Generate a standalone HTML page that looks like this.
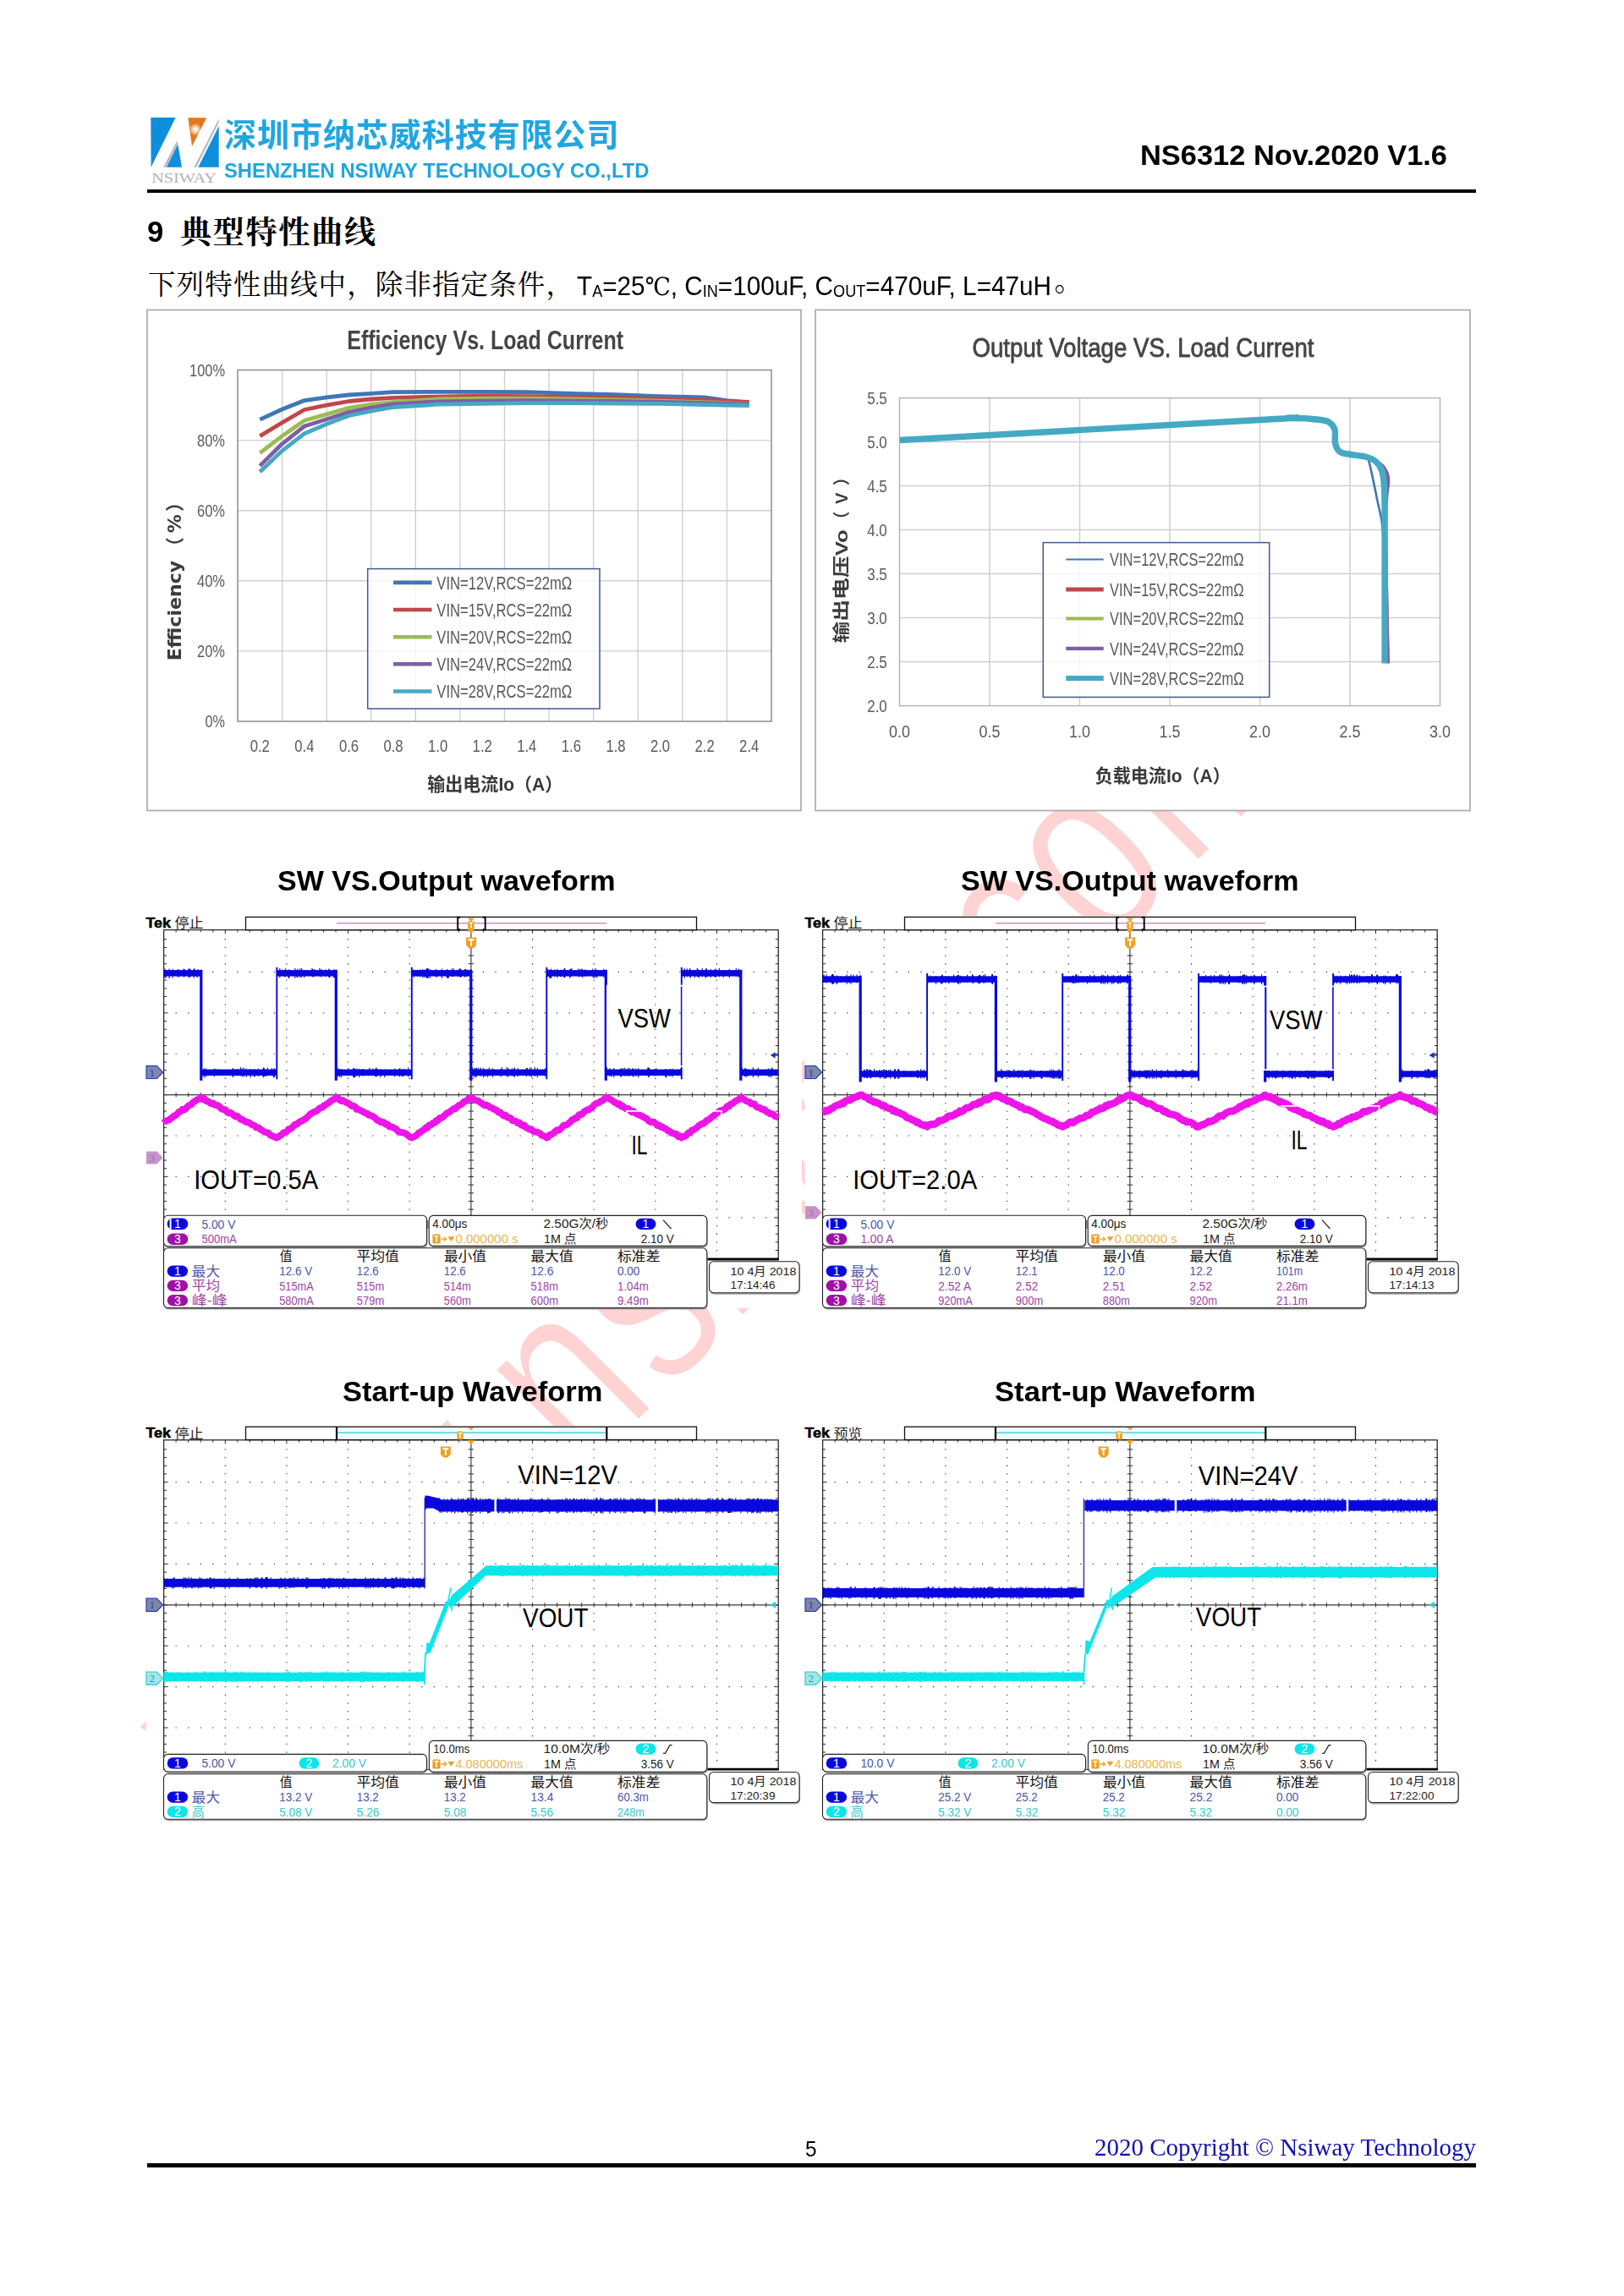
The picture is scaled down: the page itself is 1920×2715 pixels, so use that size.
<!DOCTYPE html>
<html lang="zh-CN">
<head>
<meta charset="utf-8">
<title>NS6312 典型特性曲线</title>
<style>
html,body{margin:0;padding:0;background:#fff;}
body{width:1920px;height:2715px;position:relative;overflow:hidden;font-family:"Liberation Sans","Noto Sans CJK SC",sans-serif;}
.page{position:absolute;left:0;top:0;width:1920px;height:2715px;background:#fff;overflow:hidden;}

.hdr-cn{position:absolute;left:264.5px;top:131.6px;letter-spacing:0.9px;font:bold 37.6px/56px "Liberation Sans","Noto Sans CJK SC",sans-serif;color:#20a6e1;white-space:nowrap;transform-origin:0 0;}
.hdr-en{position:absolute;left:265px;top:187px;font:bold 24px/30px "Liberation Sans",sans-serif;color:#20a6e1;white-space:nowrap;transform-origin:0 0;}
.hdr-doc{position:absolute;left:1348px;top:162.8px;font:bold 34px/40px "Liberation Sans",sans-serif;color:#000;white-space:nowrap;transform-origin:0 0;}
.rule{position:absolute;left:174px;width:1571px;height:4px;background:#000;}
.sec{position:absolute;left:174px;top:250px;margin:0;font-weight:bold;white-space:nowrap;height:50px;}
.sec .num{position:absolute;left:0;top:3.6px;font:bold 35.5px/40px "Liberation Sans",sans-serif;transform-origin:0 0;}
.sec .cn{position:absolute;left:39px;top:2px;font:bold 37px/48px "Liberation Serif","Noto Serif CJK SC",serif;letter-spacing:1.8px;transform-origin:0 0;}
.cond{position:absolute;left:175px;top:312px;margin:0;white-space:nowrap;height:46px;}
.cond .cn{position:absolute;left:0;top:1.5px;letter-spacing:1.1px;font:32.5px/46px "Liberation Serif","Noto Serif CJK SC",serif;transform-origin:0 0;}
.cond .lat{position:absolute;left:507px;top:5.7px;font:32px/40px "Liberation Sans",sans-serif;transform-origin:0 0;}
.cond .lat sub{font-size:19.5px;vertical-align:baseline;position:relative;top:2.2px;line-height:0;}
.cond .lat .deg{font-family:"DejaVu Serif","Liberation Serif","Noto Serif CJK SC",serif;font-size:29px;}
.cond .stop{left:1071.5px;top:-2.5px !important;font-size:34px !important;}
.pgnum{position:absolute;left:952px;top:2526px;font:26.5px/30px "Liberation Sans",sans-serif;transform-origin:0 0;}
.copy{position:absolute;left:1294px;top:2520.3px;font:30px/38px "Liberation Serif",serif;color:#1010b0;white-space:nowrap;transform-origin:0 0;}

.chart{filter:blur(0.6px);}

.fig{margin:0;padding:0;}
.wtitle{position:absolute;margin:0;font:bold 33px/40px "Liberation Sans",sans-serif;color:#000;white-space:nowrap;transform-origin:0 0;}
.wm{position:absolute;left:0;top:0;}
#hdrcn{transform:scaleX(1.0125);}
#hdren{transform:scaleX(0.9906);}
#hdrdoc{transform:scaleX(1.0126);}
#secnum{transform:scaleX(0.9772);}
#condlat{transform:scaleX(0.9284);}
#pgnum{transform:scaleX(0.9220);}
#copy{transform:scaleX(0.9662);}
#wt1{transform:scaleX(1.0326);}
#wt2{transform:scaleX(1.0326);}
#wt3{transform:scaleX(1.0460);}
#wt4{transform:scaleX(1.0494);}
</style>
</head>
<body>
<div class="page">
<svg class="wm" width="1920" height="2715" viewBox="0 0 1920 2715"><g transform="translate(278.4,2157.1) rotate(-45) scale(1,1.334)"><text x="0.0 175.0 350.0 525.0 581.3 719.9 833.6 880.9 1042.9 1166.5 1277.2 1336.5 1454.1 1594.7 1783.4 1842.7 1953.3" y="0" font-size="231.3" fill="#ffd3d3" stroke="#fff" stroke-width="3" font-family='"Liberation Sans",sans-serif'>www.nsiway.com.cn</text></g></svg>
<header><svg class="logo" width="100" height="95" viewBox="170 130 100 95" style="position:absolute;left:170px;top:130px;">
<defs><radialGradient id="glow" cx="0.5" cy="0.5" r="0.5"><stop offset="0" stop-color="#fff" stop-opacity="1"/><stop offset="0.35" stop-color="#fff" stop-opacity="0.8"/><stop offset="1" stop-color="#fff" stop-opacity="0"/></radialGradient></defs>
<polygon points="178.3,139.1 207.6,139.1 178.6,197.7" fill="#0e8fdc"/>
<polygon points="210.3,170.6 196.8,197.7 215,197.7" fill="#0e8fdc"/>
<polygon points="258.7,149.1 258.7,197.7 234.3,197.7" fill="#0e8fdc"/>
<polygon points="209.4,166.3 210.3,170 196.5,197.7 193.1,197.7" fill="#b9b9be"/>
<polygon points="258.7,140.5 258.7,144.8 232.2,197.7 229.4,197.7" fill="#b9b9be"/>
<polygon points="222.3,139.2 244.2,139.2 227,173.1" fill="#e2781c"/>
<circle cx="231" cy="153" r="7.5" fill="url(#glow)"/>
<text x="179.2" y="216.4" font-size="16.6" fill="#b4b4b4" textLength="76.8" lengthAdjust="spacingAndGlyphs" font-family='"Liberation Serif","Noto Serif CJK SC",serif'>NSIWAY</text>
</svg>
<div class="hdr-cn" id="hdrcn">深圳市纳芯威科技有限公司</div>
<div class="hdr-en" id="hdren">SHENZHEN NSIWAY TECHNOLOGY CO.,LTD</div>
<div class="hdr-doc" id="hdrdoc">NS6312 Nov.2020 V1.6</div>
<div class="rule" style="top:224px"></div></header>
<main>
<h1 class="sec" id="sec"><span class="num" id="secnum">9</span><span class="cn" id="seccn">典型特性曲线</span></h1>
<p class="cond" id="cond"><span class="cn" id="condcn">下列特性曲线中，除非指定条件，</span><span class="lat" id="condlat">T<sub>A</sub>=25<span class="deg">℃</span>, C<sub>IN</sub>=100uF, C<sub>OUT</sub>=470uF, L=47uH</span><span class="cn stop" id="condstop">。</span></p>
<section class="charts"><figure class="fig"><svg class="chart" width="788" height="606" viewBox="168 360 788 606" style="position:absolute;left:168px;top:360px;">
<rect x="174" y="366.5" width="773" height="592" fill="#fff" stroke="#a6a6a6" stroke-width="1.6"/>
<path d="M333.6 437.5V853.0M386.2 437.5V853.0M438.8 437.5V853.0M491.3 437.5V853.0M543.9 437.5V853.0M596.5 437.5V853.0M649.1 437.5V853.0M701.7 437.5V853.0M754.2 437.5V853.0M806.8 437.5V853.0M859.4 437.5V853.0M281.0 769.9H912.0M281.0 686.8H912.0M281.0 603.7H912.0M281.0 520.6H912.0" stroke="#d0d0d0" stroke-width="1.4" fill="none"/>
<rect x="281.0" y="437.5" width="631.0" height="415.5" fill="none" stroke="#8c8c8c" stroke-width="1.5"/>
<polyline points="307.3,496.1 333.6,484.0 359.9,473.6 386.2,469.9 412.5,467.0 438.8,465.3 465.0,463.7 517.6,463.3 570.2,463.3 622.8,463.7 675.4,465.3 728.0,466.6 780.5,468.7 833.1,469.9 859.4,473.6 885.7,476.1" fill="none" stroke="#3f76b7" stroke-width="4.8" stroke-linejoin="round" stroke-linecap="butt"/>
<polyline points="307.3,515.6 333.6,499.8 359.9,484.5 386.2,479.1 412.5,474.5 438.8,472.0 465.0,470.3 517.6,469.1 570.2,468.2 622.8,468.7 675.4,469.5 728.0,470.3 780.5,471.6 833.1,472.8 859.4,474.5 885.7,475.3" fill="none" stroke="#c0474a" stroke-width="4.8" stroke-linejoin="round" stroke-linecap="butt"/>
<polyline points="307.3,535.6 333.6,515.6 359.9,497.3 386.2,489.9 412.5,482.4 438.8,478.2 465.0,475.3 517.6,472.0 570.2,471.2 622.8,471.2 675.4,472.0 728.0,472.8 780.5,474.1 833.1,475.7 859.4,476.6 885.7,477.8" fill="none" stroke="#9dbb55" stroke-width="4.8" stroke-linejoin="round" stroke-linecap="butt"/>
<polyline points="307.3,550.9 333.6,524.8 359.9,504.0 386.2,495.7 412.5,487.4 438.8,482.0 465.0,477.8 517.6,474.9 570.2,474.1 622.8,473.6 675.4,474.1 728.0,474.5 780.5,475.3 833.1,476.6 859.4,477.4 885.7,478.2" fill="none" stroke="#7d5fa5" stroke-width="4.8" stroke-linejoin="round" stroke-linecap="butt"/>
<polyline points="307.3,558.0 333.6,533.1 359.9,512.7 386.2,501.5 412.5,491.5 438.8,486.1 465.0,481.5 517.6,478.2 570.2,477.4 622.8,476.6 675.4,476.6 728.0,477.0 780.5,477.4 833.1,478.6 859.4,479.1 885.7,479.5" fill="none" stroke="#46a9c4" stroke-width="4.8" stroke-linejoin="round" stroke-linecap="butt"/>
<rect x="434.7" y="672.6" width="274.3" height="165.4" fill="#fff" fill-opacity="0.78" stroke="#42598c" stroke-width="1.5"/>
<line x1="465" y1="688.9" x2="510.5" y2="688.9" stroke="#3f76b7" stroke-width="4.6"/>
<text x="516.3" y="696.8" font-size="22.5" fill="#5a5a5a" textLength="160.0" lengthAdjust="spacingAndGlyphs" font-family='"Liberation Sans","Noto Sans CJK SC",sans-serif'>VIN=12V,RCS=22mΩ</text>
<line x1="465" y1="721.0" x2="510.5" y2="721.0" stroke="#c0474a" stroke-width="4.6"/>
<text x="516.3" y="728.9" font-size="22.5" fill="#5a5a5a" textLength="160.0" lengthAdjust="spacingAndGlyphs" font-family='"Liberation Sans","Noto Sans CJK SC",sans-serif'>VIN=15V,RCS=22mΩ</text>
<line x1="465" y1="753.2" x2="510.5" y2="753.2" stroke="#9dbb55" stroke-width="4.6"/>
<text x="516.3" y="761.1" font-size="22.5" fill="#5a5a5a" textLength="160.0" lengthAdjust="spacingAndGlyphs" font-family='"Liberation Sans","Noto Sans CJK SC",sans-serif'>VIN=20V,RCS=22mΩ</text>
<line x1="465" y1="785.3" x2="510.5" y2="785.3" stroke="#7d5fa5" stroke-width="4.6"/>
<text x="516.3" y="793.2" font-size="22.5" fill="#5a5a5a" textLength="160.0" lengthAdjust="spacingAndGlyphs" font-family='"Liberation Sans","Noto Sans CJK SC",sans-serif'>VIN=24V,RCS=22mΩ</text>
<line x1="465" y1="817.5" x2="510.5" y2="817.5" stroke="#46a9c4" stroke-width="4.6"/>
<text x="516.3" y="825.4" font-size="22.5" fill="#5a5a5a" textLength="160.0" lengthAdjust="spacingAndGlyphs" font-family='"Liberation Sans","Noto Sans CJK SC",sans-serif'>VIN=28V,RCS=22mΩ</text>
<text x="242.5" y="860.2" font-size="20.5" fill="#5a5a5a" textLength="23.5" lengthAdjust="spacingAndGlyphs" font-family='"Liberation Sans","Noto Sans CJK SC",sans-serif'>0%</text>
<text x="233.0" y="777.1" font-size="20.5" fill="#5a5a5a" textLength="33.0" lengthAdjust="spacingAndGlyphs" font-family='"Liberation Sans","Noto Sans CJK SC",sans-serif'>20%</text>
<text x="233.0" y="694.0" font-size="20.5" fill="#5a5a5a" textLength="33.0" lengthAdjust="spacingAndGlyphs" font-family='"Liberation Sans","Noto Sans CJK SC",sans-serif'>40%</text>
<text x="233.0" y="610.9" font-size="20.5" fill="#5a5a5a" textLength="33.0" lengthAdjust="spacingAndGlyphs" font-family='"Liberation Sans","Noto Sans CJK SC",sans-serif'>60%</text>
<text x="233.0" y="527.8" font-size="20.5" fill="#5a5a5a" textLength="33.0" lengthAdjust="spacingAndGlyphs" font-family='"Liberation Sans","Noto Sans CJK SC",sans-serif'>80%</text>
<text x="224.0" y="444.7" font-size="20.5" fill="#5a5a5a" textLength="42.0" lengthAdjust="spacingAndGlyphs" font-family='"Liberation Sans","Noto Sans CJK SC",sans-serif'>100%</text>
<text x="295.7" y="888.8" font-size="20.5" fill="#5a5a5a" textLength="23.2" lengthAdjust="spacingAndGlyphs" font-family='"Liberation Sans","Noto Sans CJK SC",sans-serif'>0.2</text>
<text x="348.3" y="888.8" font-size="20.5" fill="#5a5a5a" textLength="23.2" lengthAdjust="spacingAndGlyphs" font-family='"Liberation Sans","Noto Sans CJK SC",sans-serif'>0.4</text>
<text x="400.9" y="888.8" font-size="20.5" fill="#5a5a5a" textLength="23.2" lengthAdjust="spacingAndGlyphs" font-family='"Liberation Sans","Noto Sans CJK SC",sans-serif'>0.6</text>
<text x="453.4" y="888.8" font-size="20.5" fill="#5a5a5a" textLength="23.2" lengthAdjust="spacingAndGlyphs" font-family='"Liberation Sans","Noto Sans CJK SC",sans-serif'>0.8</text>
<text x="506.0" y="888.8" font-size="20.5" fill="#5a5a5a" textLength="23.2" lengthAdjust="spacingAndGlyphs" font-family='"Liberation Sans","Noto Sans CJK SC",sans-serif'>1.0</text>
<text x="558.6" y="888.8" font-size="20.5" fill="#5a5a5a" textLength="23.2" lengthAdjust="spacingAndGlyphs" font-family='"Liberation Sans","Noto Sans CJK SC",sans-serif'>1.2</text>
<text x="611.2" y="888.8" font-size="20.5" fill="#5a5a5a" textLength="23.2" lengthAdjust="spacingAndGlyphs" font-family='"Liberation Sans","Noto Sans CJK SC",sans-serif'>1.4</text>
<text x="663.8" y="888.8" font-size="20.5" fill="#5a5a5a" textLength="23.2" lengthAdjust="spacingAndGlyphs" font-family='"Liberation Sans","Noto Sans CJK SC",sans-serif'>1.6</text>
<text x="716.4" y="888.8" font-size="20.5" fill="#5a5a5a" textLength="23.2" lengthAdjust="spacingAndGlyphs" font-family='"Liberation Sans","Noto Sans CJK SC",sans-serif'>1.8</text>
<text x="768.9" y="888.8" font-size="20.5" fill="#5a5a5a" textLength="23.2" lengthAdjust="spacingAndGlyphs" font-family='"Liberation Sans","Noto Sans CJK SC",sans-serif'>2.0</text>
<text x="821.5" y="888.8" font-size="20.5" fill="#5a5a5a" textLength="23.2" lengthAdjust="spacingAndGlyphs" font-family='"Liberation Sans","Noto Sans CJK SC",sans-serif'>2.2</text>
<text x="874.1" y="888.8" font-size="20.5" fill="#5a5a5a" textLength="23.2" lengthAdjust="spacingAndGlyphs" font-family='"Liberation Sans","Noto Sans CJK SC",sans-serif'>2.4</text>
<text x="410.2" y="413.2" font-size="30.5" fill="#454545" font-weight="bold" textLength="327.0" lengthAdjust="spacingAndGlyphs" font-family='"Liberation Sans","Noto Sans CJK SC",sans-serif'>Efficiency Vs. Load Current</text>
<text x="505.3" y="935.0" font-size="21.5" fill="#383838" font-weight="bold" textLength="160.0" lengthAdjust="spacingAndGlyphs" font-family='"Liberation Sans","Noto Sans CJK SC",sans-serif'>输出电流Io（A）</text>
<g transform="translate(214.4,781.3) rotate(-90)"><text x="0.0" y="0.0" font-size="22" fill="#3c3c3c" font-weight="bold" textLength="118.5" lengthAdjust="spacingAndGlyphs" font-family='"DejaVu Sans","Noto Sans CJK SC",sans-serif'>Efficiency</text><text x="124.1 151 176.2" y="0" font-size="22" font-weight="bold" fill="#3c3c3c" font-family='"DejaVu Sans","Noto Sans CJK SC",sans-serif'>（%）</text></g>
</svg></figure>
<figure class="fig"><svg class="chart" width="788" height="606" viewBox="958 360 788 606" style="position:absolute;left:958px;top:360px;">
<rect x="964" y="366.5" width="774" height="592" fill="#fff" stroke="#a6a6a6" stroke-width="1.6"/>
<path d="M1170.0 470.6V834.6M1276.5 470.6V834.6M1383.0 470.6V834.6M1489.5 470.6V834.6M1596.0 470.6V834.6M1063.5 782.6H1702.5M1063.5 730.6H1702.5M1063.5 678.6H1702.5M1063.5 626.6H1702.5M1063.5 574.6H1702.5M1063.5 522.6H1702.5" stroke="#cdd0d4" stroke-width="1.5" fill="none"/>
<rect x="1063.5" y="470.6" width="639.0" height="364.0" fill="none" stroke="#b2b2b2" stroke-width="1.4"/>
<path d="M1064.0 520.5C1140.6 516.2 1406.9 501.2 1489.7 496.5C1572.5 491.8 1511.0 494.3 1524.0 494.3C1537.0 494.3 1553.0 495.4 1561.8 496.5C1570.6 497.6 1569.9 498.3 1572.9 500.5C1575.9 502.7 1577.2 504.4 1578.2 508.7C1579.2 513.0 1577.6 519.6 1578.6 524.2C1579.6 528.8 1580.7 531.8 1584.0 534.2C1587.3 536.6 1591.6 536.4 1597.2 537.5C1602.8 538.6 1609.8 538.8 1615.0 540.2C1620.2 541.6 1622.7 542.5 1626.0 545.3C1629.3 548.1 1631.6 550.2 1633.5 556.0C1635.4 561.8 1635.9 564.4 1636.6 577.4C1637.3 590.4 1636.8 591.2 1637.6 628.4C1638.4 665.6 1640.4 756.2 1641.0 784.3" fill="none" stroke="#c0474a" stroke-width="4" stroke-linejoin="round" stroke-linecap="butt"/>
<path d="M1064.0 520.5C1140.6 516.2 1406.9 501.2 1489.7 496.5C1572.5 491.8 1511.0 494.3 1524.0 494.3C1537.0 494.3 1553.0 495.4 1561.8 496.5C1570.6 497.6 1569.9 498.3 1572.9 500.5C1575.9 502.7 1577.2 504.4 1578.2 508.7C1579.2 513.0 1577.6 519.6 1578.6 524.2C1579.6 528.8 1580.7 531.8 1584.0 534.2C1587.3 536.6 1591.6 536.4 1597.2 537.5C1602.8 538.6 1609.8 538.8 1615.0 540.2C1620.2 541.6 1622.2 543.0 1626.0 545.3C1629.8 547.6 1633.3 549.3 1636.0 553.0C1638.7 556.7 1640.5 559.3 1641.0 566.0C1641.5 572.7 1639.5 578.8 1639.0 590.0C1638.5 601.2 1637.8 593.4 1638.0 628.4C1638.2 663.4 1639.9 756.2 1640.3 784.3" fill="none" stroke="#7d5fa5" stroke-width="4.5" stroke-linejoin="round" stroke-linecap="butt"/>
<path d="M1614.0 540.6C1614.8 541.4 1615.8 536.3 1618.3 545.2C1620.8 554.1 1625.0 575.0 1628.0 590.0C1631.0 605.0 1633.5 608.6 1635.0 628.4C1636.5 648.2 1636.2 671.9 1636.5 700.0C1636.8 728.1 1636.5 769.1 1636.5 784.3" fill="none" stroke="#3f76b7" stroke-width="2.6" stroke-linejoin="round" stroke-linecap="butt"/>
<path d="M1064.0 520.5C1140.6 516.2 1406.9 501.2 1489.7 496.5C1572.5 491.8 1511.0 494.3 1524.0 494.3C1537.0 494.3 1553.0 495.4 1561.8 496.5C1570.6 497.6 1569.9 498.3 1572.9 500.5C1575.9 502.7 1577.2 504.4 1578.2 508.7C1579.2 513.0 1577.6 519.6 1578.6 524.2C1579.6 528.8 1580.7 531.8 1584.0 534.2C1587.3 536.6 1591.6 536.4 1597.2 537.5C1602.8 538.6 1609.8 538.8 1615.0 540.2C1620.2 541.6 1622.7 542.5 1626.0 545.3C1629.3 548.1 1631.6 550.2 1633.5 556.0C1635.4 561.8 1636.0 564.4 1636.6 577.4C1637.2 590.4 1637.0 591.2 1637.1 628.4C1637.2 665.6 1637.1 756.2 1637.1 784.3" fill="none" stroke="#46a9c4" stroke-width="7.4" stroke-linejoin="round" stroke-linecap="butt"/>
<rect x="1233.3" y="641.6" width="267.4" height="182.8" fill="#fff" fill-opacity="0.78" stroke="#42598c" stroke-width="1.5"/>
<line x1="1260.3" y1="661.5" x2="1304.7" y2="661.5" stroke="#3f76b7" stroke-width="2.2"/>
<text x="1312.0" y="669.1" font-size="22.5" fill="#5a5a5a" textLength="158.5" lengthAdjust="spacingAndGlyphs" font-family='"Liberation Sans","Noto Sans CJK SC",sans-serif'>VIN=12V,RCS=22mΩ</text>
<line x1="1260.3" y1="697" x2="1304.7" y2="697" stroke="#c0474a" stroke-width="5"/>
<text x="1312.0" y="704.6" font-size="22.5" fill="#5a5a5a" textLength="158.5" lengthAdjust="spacingAndGlyphs" font-family='"Liberation Sans","Noto Sans CJK SC",sans-serif'>VIN=15V,RCS=22mΩ</text>
<line x1="1260.3" y1="731.5" x2="1304.7" y2="731.5" stroke="#9dbb55" stroke-width="4.2"/>
<text x="1312.0" y="739.1" font-size="22.5" fill="#5a5a5a" textLength="158.5" lengthAdjust="spacingAndGlyphs" font-family='"Liberation Sans","Noto Sans CJK SC",sans-serif'>VIN=20V,RCS=22mΩ</text>
<line x1="1260.3" y1="766.9" x2="1304.7" y2="766.9" stroke="#7d5fa5" stroke-width="4.2"/>
<text x="1312.0" y="774.5" font-size="22.5" fill="#5a5a5a" textLength="158.5" lengthAdjust="spacingAndGlyphs" font-family='"Liberation Sans","Noto Sans CJK SC",sans-serif'>VIN=24V,RCS=22mΩ</text>
<line x1="1260.3" y1="801.9" x2="1304.7" y2="801.9" stroke="#46a9c4" stroke-width="6"/>
<text x="1312.0" y="809.5" font-size="22.5" fill="#5a5a5a" textLength="158.5" lengthAdjust="spacingAndGlyphs" font-family='"Liberation Sans","Noto Sans CJK SC",sans-serif'>VIN=28V,RCS=22mΩ</text>
<text x="1025.2" y="841.8" font-size="20.5" fill="#5a5a5a" textLength="23.6" lengthAdjust="spacingAndGlyphs" font-family='"Liberation Sans","Noto Sans CJK SC",sans-serif'>2.0</text>
<text x="1025.2" y="789.8" font-size="20.5" fill="#5a5a5a" textLength="23.6" lengthAdjust="spacingAndGlyphs" font-family='"Liberation Sans","Noto Sans CJK SC",sans-serif'>2.5</text>
<text x="1025.2" y="737.8" font-size="20.5" fill="#5a5a5a" textLength="23.6" lengthAdjust="spacingAndGlyphs" font-family='"Liberation Sans","Noto Sans CJK SC",sans-serif'>3.0</text>
<text x="1025.2" y="685.8" font-size="20.5" fill="#5a5a5a" textLength="23.6" lengthAdjust="spacingAndGlyphs" font-family='"Liberation Sans","Noto Sans CJK SC",sans-serif'>3.5</text>
<text x="1025.2" y="633.8" font-size="20.5" fill="#5a5a5a" textLength="23.6" lengthAdjust="spacingAndGlyphs" font-family='"Liberation Sans","Noto Sans CJK SC",sans-serif'>4.0</text>
<text x="1025.2" y="581.8" font-size="20.5" fill="#5a5a5a" textLength="23.6" lengthAdjust="spacingAndGlyphs" font-family='"Liberation Sans","Noto Sans CJK SC",sans-serif'>4.5</text>
<text x="1025.2" y="529.8" font-size="20.5" fill="#5a5a5a" textLength="23.6" lengthAdjust="spacingAndGlyphs" font-family='"Liberation Sans","Noto Sans CJK SC",sans-serif'>5.0</text>
<text x="1025.2" y="477.8" font-size="20.5" fill="#5a5a5a" textLength="23.6" lengthAdjust="spacingAndGlyphs" font-family='"Liberation Sans","Noto Sans CJK SC",sans-serif'>5.5</text>
<text x="1051.0" y="872.4" font-size="20.5" fill="#5a5a5a" textLength="25.0" lengthAdjust="spacingAndGlyphs" font-family='"Liberation Sans","Noto Sans CJK SC",sans-serif'>0.0</text>
<text x="1157.5" y="872.4" font-size="20.5" fill="#5a5a5a" textLength="25.0" lengthAdjust="spacingAndGlyphs" font-family='"Liberation Sans","Noto Sans CJK SC",sans-serif'>0.5</text>
<text x="1264.0" y="872.4" font-size="20.5" fill="#5a5a5a" textLength="25.0" lengthAdjust="spacingAndGlyphs" font-family='"Liberation Sans","Noto Sans CJK SC",sans-serif'>1.0</text>
<text x="1370.5" y="872.4" font-size="20.5" fill="#5a5a5a" textLength="25.0" lengthAdjust="spacingAndGlyphs" font-family='"Liberation Sans","Noto Sans CJK SC",sans-serif'>1.5</text>
<text x="1477.0" y="872.4" font-size="20.5" fill="#5a5a5a" textLength="25.0" lengthAdjust="spacingAndGlyphs" font-family='"Liberation Sans","Noto Sans CJK SC",sans-serif'>2.0</text>
<text x="1583.5" y="872.4" font-size="20.5" fill="#5a5a5a" textLength="25.0" lengthAdjust="spacingAndGlyphs" font-family='"Liberation Sans","Noto Sans CJK SC",sans-serif'>2.5</text>
<text x="1690.0" y="872.4" font-size="20.5" fill="#5a5a5a" textLength="25.0" lengthAdjust="spacingAndGlyphs" font-family='"Liberation Sans","Noto Sans CJK SC",sans-serif'>3.0</text>
<text x="1149.5" y="421.6" font-size="32" fill="#454545" textLength="404.0" lengthAdjust="spacingAndGlyphs" font-family='"Liberation Sans","Noto Sans CJK SC",sans-serif' stroke="#454545" stroke-width="0.8">Output Voltage VS. Load Current</text>
<text x="1294.8" y="925.2" font-size="21.5" fill="#383838" font-weight="bold" textLength="160.0" lengthAdjust="spacingAndGlyphs" font-family='"Liberation Sans","Noto Sans CJK SC",sans-serif'>负载电流Io（A）</text>
<g transform="translate(1002.4,760.6) rotate(-90)"><text x="0.0" y="0.0" font-size="20" fill="#3c3c3c" font-weight="bold" textLength="134.4" lengthAdjust="spacingAndGlyphs" font-family='"Liberation Sans","Noto Sans CJK SC",sans-serif'>输出电压Vo</text><text x="136 164.6 186.4" y="0" font-size="20" font-weight="bold" fill="#3c3c3c" font-family='"Liberation Sans","Noto Sans CJK SC",sans-serif'>（V）</text></g>
</svg></figure></section>
<section class="waves"><h2 class="wtitle" id="wt1" style="left:328px;top:1021.5px">SW VS.Output waveform</h2>
<h2 class="wtitle" id="wt2" style="left:1136px;top:1021.5px">SW VS.Output waveform</h2>
<h2 class="wtitle" id="wt3" style="left:405px;top:1626px">Start-up Waveform</h2>
<h2 class="wtitle" id="wt4" style="left:1176px;top:1626px">Start-up Waveform</h2>
<figure class="fig"><svg class="scope" width="790" height="480" viewBox="165 1078 790 480" style="position:absolute;left:165px;top:1078px">
<rect x="172.6" y="1083" width="775.5" height="464" fill="#fff"/>
<path d="M207.5 1149.4h1.3M222.1 1149.4h1.3M236.6 1149.4h1.3M251.1 1149.4h1.3M265.7 1149.4h1.3M280.2 1149.4h1.3M294.7 1149.4h1.3M309.3 1149.4h1.3M323.8 1149.4h1.3M338.3 1149.4h1.3M352.9 1149.4h1.3M367.4 1149.4h1.3M381.9 1149.4h1.3M396.4 1149.4h1.3M411.0 1149.4h1.3M425.5 1149.4h1.3M440.0 1149.4h1.3M454.6 1149.4h1.3M469.1 1149.4h1.3M483.6 1149.4h1.3M498.2 1149.4h1.3M512.7 1149.4h1.3M527.2 1149.4h1.3M541.8 1149.4h1.3M556.3 1149.4h1.3M570.8 1149.4h1.3M585.4 1149.4h1.3M599.9 1149.4h1.3M614.4 1149.4h1.3M629.0 1149.4h1.3M643.5 1149.4h1.3M658.0 1149.4h1.3M672.6 1149.4h1.3M687.1 1149.4h1.3M701.6 1149.4h1.3M716.2 1149.4h1.3M730.7 1149.4h1.3M745.2 1149.4h1.3M759.7 1149.4h1.3M774.3 1149.4h1.3M788.8 1149.4h1.3M803.3 1149.4h1.3M817.9 1149.4h1.3M832.4 1149.4h1.3M846.9 1149.4h1.3M861.5 1149.4h1.3M876.0 1149.4h1.3M890.5 1149.4h1.3M905.1 1149.4h1.3M207.5 1197.8h1.3M222.1 1197.8h1.3M236.6 1197.8h1.3M251.1 1197.8h1.3M265.7 1197.8h1.3M280.2 1197.8h1.3M294.7 1197.8h1.3M309.3 1197.8h1.3M323.8 1197.8h1.3M338.3 1197.8h1.3M352.9 1197.8h1.3M367.4 1197.8h1.3M381.9 1197.8h1.3M396.4 1197.8h1.3M411.0 1197.8h1.3M425.5 1197.8h1.3M440.0 1197.8h1.3M454.6 1197.8h1.3M469.1 1197.8h1.3M483.6 1197.8h1.3M498.2 1197.8h1.3M512.7 1197.8h1.3M527.2 1197.8h1.3M541.8 1197.8h1.3M556.3 1197.8h1.3M570.8 1197.8h1.3M585.4 1197.8h1.3M599.9 1197.8h1.3M614.4 1197.8h1.3M629.0 1197.8h1.3M643.5 1197.8h1.3M658.0 1197.8h1.3M672.6 1197.8h1.3M687.1 1197.8h1.3M701.6 1197.8h1.3M716.2 1197.8h1.3M730.7 1197.8h1.3M745.2 1197.8h1.3M759.7 1197.8h1.3M774.3 1197.8h1.3M788.8 1197.8h1.3M803.3 1197.8h1.3M817.9 1197.8h1.3M832.4 1197.8h1.3M846.9 1197.8h1.3M861.5 1197.8h1.3M876.0 1197.8h1.3M890.5 1197.8h1.3M905.1 1197.8h1.3M207.5 1246.2h1.3M222.1 1246.2h1.3M236.6 1246.2h1.3M251.1 1246.2h1.3M265.7 1246.2h1.3M280.2 1246.2h1.3M294.7 1246.2h1.3M309.3 1246.2h1.3M323.8 1246.2h1.3M338.3 1246.2h1.3M352.9 1246.2h1.3M367.4 1246.2h1.3M381.9 1246.2h1.3M396.4 1246.2h1.3M411.0 1246.2h1.3M425.5 1246.2h1.3M440.0 1246.2h1.3M454.6 1246.2h1.3M469.1 1246.2h1.3M483.6 1246.2h1.3M498.2 1246.2h1.3M512.7 1246.2h1.3M527.2 1246.2h1.3M541.8 1246.2h1.3M556.3 1246.2h1.3M570.8 1246.2h1.3M585.4 1246.2h1.3M599.9 1246.2h1.3M614.4 1246.2h1.3M629.0 1246.2h1.3M643.5 1246.2h1.3M658.0 1246.2h1.3M672.6 1246.2h1.3M687.1 1246.2h1.3M701.6 1246.2h1.3M716.2 1246.2h1.3M730.7 1246.2h1.3M745.2 1246.2h1.3M759.7 1246.2h1.3M774.3 1246.2h1.3M788.8 1246.2h1.3M803.3 1246.2h1.3M817.9 1246.2h1.3M832.4 1246.2h1.3M846.9 1246.2h1.3M861.5 1246.2h1.3M876.0 1246.2h1.3M890.5 1246.2h1.3M905.1 1246.2h1.3M207.5 1343.0h1.3M222.1 1343.0h1.3M236.6 1343.0h1.3M251.1 1343.0h1.3M265.7 1343.0h1.3M280.2 1343.0h1.3M294.7 1343.0h1.3M309.3 1343.0h1.3M323.8 1343.0h1.3M338.3 1343.0h1.3M352.9 1343.0h1.3M367.4 1343.0h1.3M381.9 1343.0h1.3M396.4 1343.0h1.3M411.0 1343.0h1.3M425.5 1343.0h1.3M440.0 1343.0h1.3M454.6 1343.0h1.3M469.1 1343.0h1.3M483.6 1343.0h1.3M498.2 1343.0h1.3M512.7 1343.0h1.3M527.2 1343.0h1.3M541.8 1343.0h1.3M556.3 1343.0h1.3M570.8 1343.0h1.3M585.4 1343.0h1.3M599.9 1343.0h1.3M614.4 1343.0h1.3M629.0 1343.0h1.3M643.5 1343.0h1.3M658.0 1343.0h1.3M672.6 1343.0h1.3M687.1 1343.0h1.3M701.6 1343.0h1.3M716.2 1343.0h1.3M730.7 1343.0h1.3M745.2 1343.0h1.3M759.7 1343.0h1.3M774.3 1343.0h1.3M788.8 1343.0h1.3M803.3 1343.0h1.3M817.9 1343.0h1.3M832.4 1343.0h1.3M846.9 1343.0h1.3M861.5 1343.0h1.3M876.0 1343.0h1.3M890.5 1343.0h1.3M905.1 1343.0h1.3M207.5 1391.4h1.3M222.1 1391.4h1.3M236.6 1391.4h1.3M251.1 1391.4h1.3M265.7 1391.4h1.3M280.2 1391.4h1.3M294.7 1391.4h1.3M309.3 1391.4h1.3M323.8 1391.4h1.3M338.3 1391.4h1.3M352.9 1391.4h1.3M367.4 1391.4h1.3M381.9 1391.4h1.3M396.4 1391.4h1.3M411.0 1391.4h1.3M425.5 1391.4h1.3M440.0 1391.4h1.3M454.6 1391.4h1.3M469.1 1391.4h1.3M483.6 1391.4h1.3M498.2 1391.4h1.3M512.7 1391.4h1.3M527.2 1391.4h1.3M541.8 1391.4h1.3M556.3 1391.4h1.3M570.8 1391.4h1.3M585.4 1391.4h1.3M599.9 1391.4h1.3M614.4 1391.4h1.3M629.0 1391.4h1.3M643.5 1391.4h1.3M658.0 1391.4h1.3M672.6 1391.4h1.3M687.1 1391.4h1.3M701.6 1391.4h1.3M716.2 1391.4h1.3M730.7 1391.4h1.3M745.2 1391.4h1.3M759.7 1391.4h1.3M774.3 1391.4h1.3M788.8 1391.4h1.3M803.3 1391.4h1.3M817.9 1391.4h1.3M832.4 1391.4h1.3M846.9 1391.4h1.3M861.5 1391.4h1.3M876.0 1391.4h1.3M890.5 1391.4h1.3M905.1 1391.4h1.3M207.5 1439.8h1.3M222.1 1439.8h1.3M236.6 1439.8h1.3M251.1 1439.8h1.3M265.7 1439.8h1.3M280.2 1439.8h1.3M294.7 1439.8h1.3M309.3 1439.8h1.3M323.8 1439.8h1.3M338.3 1439.8h1.3M352.9 1439.8h1.3M367.4 1439.8h1.3M381.9 1439.8h1.3M396.4 1439.8h1.3M411.0 1439.8h1.3M425.5 1439.8h1.3M440.0 1439.8h1.3M454.6 1439.8h1.3M469.1 1439.8h1.3M483.6 1439.8h1.3M498.2 1439.8h1.3M512.7 1439.8h1.3M527.2 1439.8h1.3M541.8 1439.8h1.3M556.3 1439.8h1.3M570.8 1439.8h1.3M585.4 1439.8h1.3M599.9 1439.8h1.3M614.4 1439.8h1.3M629.0 1439.8h1.3M643.5 1439.8h1.3M658.0 1439.8h1.3M672.6 1439.8h1.3M687.1 1439.8h1.3M701.6 1439.8h1.3M716.2 1439.8h1.3M730.7 1439.8h1.3M745.2 1439.8h1.3M759.7 1439.8h1.3M774.3 1439.8h1.3M788.8 1439.8h1.3M803.3 1439.8h1.3M817.9 1439.8h1.3M832.4 1439.8h1.3M846.9 1439.8h1.3M861.5 1439.8h1.3M876.0 1439.8h1.3M890.5 1439.8h1.3M905.1 1439.8h1.3M266.3 1110.1v1.3M266.3 1119.8v1.3M266.3 1129.4v1.3M266.3 1139.1v1.3M266.3 1148.8v1.3M266.3 1158.5v1.3M266.3 1168.2v1.3M266.3 1177.8v1.3M266.3 1187.5v1.3M266.3 1197.2v1.3M266.3 1206.9v1.3M266.3 1216.6v1.3M266.3 1226.2v1.3M266.3 1235.9v1.3M266.3 1245.6v1.3M266.3 1255.3v1.3M266.3 1265.0v1.3M266.3 1274.6v1.3M266.3 1284.3v1.3M266.3 1294.0v1.3M266.3 1303.7v1.3M266.3 1313.4v1.3M266.3 1323.0v1.3M266.3 1332.7v1.3M266.3 1342.4v1.3M266.3 1352.1v1.3M266.3 1361.8v1.3M266.3 1371.4v1.3M266.3 1381.1v1.3M266.3 1390.8v1.3M266.3 1400.5v1.3M266.3 1410.2v1.3M266.3 1419.8v1.3M266.3 1429.5v1.3M266.3 1439.2v1.3M266.3 1448.9v1.3M266.3 1458.6v1.3M266.3 1468.2v1.3M266.3 1477.9v1.3M338.9 1110.1v1.3M338.9 1119.8v1.3M338.9 1129.4v1.3M338.9 1139.1v1.3M338.9 1148.8v1.3M338.9 1158.5v1.3M338.9 1168.2v1.3M338.9 1177.8v1.3M338.9 1187.5v1.3M338.9 1197.2v1.3M338.9 1206.9v1.3M338.9 1216.6v1.3M338.9 1226.2v1.3M338.9 1235.9v1.3M338.9 1245.6v1.3M338.9 1255.3v1.3M338.9 1265.0v1.3M338.9 1274.6v1.3M338.9 1284.3v1.3M338.9 1294.0v1.3M338.9 1303.7v1.3M338.9 1313.4v1.3M338.9 1323.0v1.3M338.9 1332.7v1.3M338.9 1342.4v1.3M338.9 1352.1v1.3M338.9 1361.8v1.3M338.9 1371.4v1.3M338.9 1381.1v1.3M338.9 1390.8v1.3M338.9 1400.5v1.3M338.9 1410.2v1.3M338.9 1419.8v1.3M338.9 1429.5v1.3M338.9 1439.2v1.3M338.9 1448.9v1.3M338.9 1458.6v1.3M338.9 1468.2v1.3M338.9 1477.9v1.3M411.6 1110.1v1.3M411.6 1119.8v1.3M411.6 1129.4v1.3M411.6 1139.1v1.3M411.6 1148.8v1.3M411.6 1158.5v1.3M411.6 1168.2v1.3M411.6 1177.8v1.3M411.6 1187.5v1.3M411.6 1197.2v1.3M411.6 1206.9v1.3M411.6 1216.6v1.3M411.6 1226.2v1.3M411.6 1235.9v1.3M411.6 1245.6v1.3M411.6 1255.3v1.3M411.6 1265.0v1.3M411.6 1274.6v1.3M411.6 1284.3v1.3M411.6 1294.0v1.3M411.6 1303.7v1.3M411.6 1313.4v1.3M411.6 1323.0v1.3M411.6 1332.7v1.3M411.6 1342.4v1.3M411.6 1352.1v1.3M411.6 1361.8v1.3M411.6 1371.4v1.3M411.6 1381.1v1.3M411.6 1390.8v1.3M411.6 1400.5v1.3M411.6 1410.2v1.3M411.6 1419.8v1.3M411.6 1429.5v1.3M411.6 1439.2v1.3M411.6 1448.9v1.3M411.6 1458.6v1.3M411.6 1468.2v1.3M411.6 1477.9v1.3M484.2 1110.1v1.3M484.2 1119.8v1.3M484.2 1129.4v1.3M484.2 1139.1v1.3M484.2 1148.8v1.3M484.2 1158.5v1.3M484.2 1168.2v1.3M484.2 1177.8v1.3M484.2 1187.5v1.3M484.2 1197.2v1.3M484.2 1206.9v1.3M484.2 1216.6v1.3M484.2 1226.2v1.3M484.2 1235.9v1.3M484.2 1245.6v1.3M484.2 1255.3v1.3M484.2 1265.0v1.3M484.2 1274.6v1.3M484.2 1284.3v1.3M484.2 1294.0v1.3M484.2 1303.7v1.3M484.2 1313.4v1.3M484.2 1323.0v1.3M484.2 1332.7v1.3M484.2 1342.4v1.3M484.2 1352.1v1.3M484.2 1361.8v1.3M484.2 1371.4v1.3M484.2 1381.1v1.3M484.2 1390.8v1.3M484.2 1400.5v1.3M484.2 1410.2v1.3M484.2 1419.8v1.3M484.2 1429.5v1.3M484.2 1439.2v1.3M484.2 1448.9v1.3M484.2 1458.6v1.3M484.2 1468.2v1.3M484.2 1477.9v1.3M629.6 1110.1v1.3M629.6 1119.8v1.3M629.6 1129.4v1.3M629.6 1139.1v1.3M629.6 1148.8v1.3M629.6 1158.5v1.3M629.6 1168.2v1.3M629.6 1177.8v1.3M629.6 1187.5v1.3M629.6 1197.2v1.3M629.6 1206.9v1.3M629.6 1216.6v1.3M629.6 1226.2v1.3M629.6 1235.9v1.3M629.6 1245.6v1.3M629.6 1255.3v1.3M629.6 1265.0v1.3M629.6 1274.6v1.3M629.6 1284.3v1.3M629.6 1294.0v1.3M629.6 1303.7v1.3M629.6 1313.4v1.3M629.6 1323.0v1.3M629.6 1332.7v1.3M629.6 1342.4v1.3M629.6 1352.1v1.3M629.6 1361.8v1.3M629.6 1371.4v1.3M629.6 1381.1v1.3M629.6 1390.8v1.3M629.6 1400.5v1.3M629.6 1410.2v1.3M629.6 1419.8v1.3M629.6 1429.5v1.3M629.6 1439.2v1.3M629.6 1448.9v1.3M629.6 1458.6v1.3M629.6 1468.2v1.3M629.6 1477.9v1.3M702.2 1110.1v1.3M702.2 1119.8v1.3M702.2 1129.4v1.3M702.2 1139.1v1.3M702.2 1148.8v1.3M702.2 1158.5v1.3M702.2 1168.2v1.3M702.2 1177.8v1.3M702.2 1187.5v1.3M702.2 1197.2v1.3M702.2 1206.9v1.3M702.2 1216.6v1.3M702.2 1226.2v1.3M702.2 1235.9v1.3M702.2 1245.6v1.3M702.2 1255.3v1.3M702.2 1265.0v1.3M702.2 1274.6v1.3M702.2 1284.3v1.3M702.2 1294.0v1.3M702.2 1303.7v1.3M702.2 1313.4v1.3M702.2 1323.0v1.3M702.2 1332.7v1.3M702.2 1342.4v1.3M702.2 1352.1v1.3M702.2 1361.8v1.3M702.2 1371.4v1.3M702.2 1381.1v1.3M702.2 1390.8v1.3M702.2 1400.5v1.3M702.2 1410.2v1.3M702.2 1419.8v1.3M702.2 1429.5v1.3M702.2 1439.2v1.3M702.2 1448.9v1.3M702.2 1458.6v1.3M702.2 1468.2v1.3M702.2 1477.9v1.3M774.9 1110.1v1.3M774.9 1119.8v1.3M774.9 1129.4v1.3M774.9 1139.1v1.3M774.9 1148.8v1.3M774.9 1158.5v1.3M774.9 1168.2v1.3M774.9 1177.8v1.3M774.9 1187.5v1.3M774.9 1197.2v1.3M774.9 1206.9v1.3M774.9 1216.6v1.3M774.9 1226.2v1.3M774.9 1235.9v1.3M774.9 1245.6v1.3M774.9 1255.3v1.3M774.9 1265.0v1.3M774.9 1274.6v1.3M774.9 1284.3v1.3M774.9 1294.0v1.3M774.9 1303.7v1.3M774.9 1313.4v1.3M774.9 1323.0v1.3M774.9 1332.7v1.3M774.9 1342.4v1.3M774.9 1352.1v1.3M774.9 1361.8v1.3M774.9 1371.4v1.3M774.9 1381.1v1.3M774.9 1390.8v1.3M774.9 1400.5v1.3M774.9 1410.2v1.3M774.9 1419.8v1.3M774.9 1429.5v1.3M774.9 1439.2v1.3M774.9 1448.9v1.3M774.9 1458.6v1.3M774.9 1468.2v1.3M774.9 1477.9v1.3M847.5 1110.1v1.3M847.5 1119.8v1.3M847.5 1129.4v1.3M847.5 1139.1v1.3M847.5 1148.8v1.3M847.5 1158.5v1.3M847.5 1168.2v1.3M847.5 1177.8v1.3M847.5 1187.5v1.3M847.5 1197.2v1.3M847.5 1206.9v1.3M847.5 1216.6v1.3M847.5 1226.2v1.3M847.5 1235.9v1.3M847.5 1245.6v1.3M847.5 1255.3v1.3M847.5 1265.0v1.3M847.5 1274.6v1.3M847.5 1284.3v1.3M847.5 1294.0v1.3M847.5 1303.7v1.3M847.5 1313.4v1.3M847.5 1323.0v1.3M847.5 1332.7v1.3M847.5 1342.4v1.3M847.5 1352.1v1.3M847.5 1361.8v1.3M847.5 1371.4v1.3M847.5 1381.1v1.3M847.5 1390.8v1.3M847.5 1400.5v1.3M847.5 1410.2v1.3M847.5 1419.8v1.3M847.5 1429.5v1.3M847.5 1439.2v1.3M847.5 1448.9v1.3M847.5 1458.6v1.3M847.5 1468.2v1.3M847.5 1477.9v1.3" stroke="#3c3c3c" stroke-width="1.15" fill="none"/>
<path d="M208.1 1099.6v2.8M208.1 1292.0v5.2M222.7 1099.6v2.8M222.7 1292.0v5.2M237.2 1099.6v2.8M237.2 1292.0v5.2M251.7 1099.6v2.8M251.7 1292.0v5.2M266.3 1099.6v4.5M266.3 1292.0v5.2M280.8 1099.6v2.8M280.8 1292.0v5.2M295.3 1099.6v2.8M295.3 1292.0v5.2M309.9 1099.6v2.8M309.9 1292.0v5.2M324.4 1099.6v2.8M324.4 1292.0v5.2M338.9 1099.6v4.5M338.9 1292.0v5.2M353.5 1099.6v2.8M353.5 1292.0v5.2M368.0 1099.6v2.8M368.0 1292.0v5.2M382.5 1099.6v2.8M382.5 1292.0v5.2M397.0 1099.6v2.8M397.0 1292.0v5.2M411.6 1099.6v4.5M411.6 1292.0v5.2M426.1 1099.6v2.8M426.1 1292.0v5.2M440.6 1099.6v2.8M440.6 1292.0v5.2M455.2 1099.6v2.8M455.2 1292.0v5.2M469.7 1099.6v2.8M469.7 1292.0v5.2M484.2 1099.6v4.5M484.2 1292.0v5.2M498.8 1099.6v2.8M498.8 1292.0v5.2M513.3 1099.6v2.8M513.3 1292.0v5.2M527.8 1099.6v2.8M527.8 1292.0v5.2M542.4 1099.6v2.8M542.4 1292.0v5.2M556.9 1099.6v4.5M556.9 1292.0v5.2M571.4 1099.6v2.8M571.4 1292.0v5.2M586.0 1099.6v2.8M586.0 1292.0v5.2M600.5 1099.6v2.8M600.5 1292.0v5.2M615.0 1099.6v2.8M615.0 1292.0v5.2M629.6 1099.6v4.5M629.6 1292.0v5.2M644.1 1099.6v2.8M644.1 1292.0v5.2M658.6 1099.6v2.8M658.6 1292.0v5.2M673.2 1099.6v2.8M673.2 1292.0v5.2M687.7 1099.6v2.8M687.7 1292.0v5.2M702.2 1099.6v4.5M702.2 1292.0v5.2M716.8 1099.6v2.8M716.8 1292.0v5.2M731.3 1099.6v2.8M731.3 1292.0v5.2M745.8 1099.6v2.8M745.8 1292.0v5.2M760.3 1099.6v2.8M760.3 1292.0v5.2M774.9 1099.6v4.5M774.9 1292.0v5.2M789.4 1099.6v2.8M789.4 1292.0v5.2M803.9 1099.6v2.8M803.9 1292.0v5.2M818.5 1099.6v2.8M818.5 1292.0v5.2M833.0 1099.6v2.8M833.0 1292.0v5.2M847.5 1099.6v4.5M847.5 1292.0v5.2M862.1 1099.6v2.8M862.1 1292.0v5.2M876.6 1099.6v2.8M876.6 1292.0v5.2M891.1 1099.6v2.8M891.1 1292.0v5.2M905.7 1099.6v2.8M905.7 1292.0v5.2M193.6 1110.7h3.4M920.2 1110.7h-3.4M553.7 1110.7h6.4M193.6 1120.4h3.4M920.2 1120.4h-3.4M553.7 1120.4h6.4M193.6 1130.0h3.4M920.2 1130.0h-3.4M553.7 1130.0h6.4M193.6 1139.7h3.4M920.2 1139.7h-3.4M553.7 1139.7h6.4M193.6 1149.4h5M920.2 1149.4h-5M553.7 1149.4h6.4M193.6 1159.1h3.4M920.2 1159.1h-3.4M553.7 1159.1h6.4M193.6 1168.8h3.4M920.2 1168.8h-3.4M553.7 1168.8h6.4M193.6 1178.4h3.4M920.2 1178.4h-3.4M553.7 1178.4h6.4M193.6 1188.1h3.4M920.2 1188.1h-3.4M553.7 1188.1h6.4M193.6 1197.8h5M920.2 1197.8h-5M553.7 1197.8h6.4M193.6 1207.5h3.4M920.2 1207.5h-3.4M553.7 1207.5h6.4M193.6 1217.2h3.4M920.2 1217.2h-3.4M553.7 1217.2h6.4M193.6 1226.8h3.4M920.2 1226.8h-3.4M553.7 1226.8h6.4M193.6 1236.5h3.4M920.2 1236.5h-3.4M553.7 1236.5h6.4M193.6 1246.2h5M920.2 1246.2h-5M553.7 1246.2h6.4M193.6 1255.9h3.4M920.2 1255.9h-3.4M553.7 1255.9h6.4M193.6 1265.6h3.4M920.2 1265.6h-3.4M553.7 1265.6h6.4M193.6 1275.2h3.4M920.2 1275.2h-3.4M553.7 1275.2h6.4M193.6 1284.9h3.4M920.2 1284.9h-3.4M553.7 1284.9h6.4M193.6 1294.6h5M920.2 1294.6h-5M553.7 1294.6h6.4M193.6 1304.3h3.4M920.2 1304.3h-3.4M553.7 1304.3h6.4M193.6 1314.0h3.4M920.2 1314.0h-3.4M553.7 1314.0h6.4M193.6 1323.6h3.4M920.2 1323.6h-3.4M553.7 1323.6h6.4M193.6 1333.3h3.4M920.2 1333.3h-3.4M553.7 1333.3h6.4M193.6 1343.0h5M920.2 1343.0h-5M553.7 1343.0h6.4M193.6 1352.7h3.4M920.2 1352.7h-3.4M553.7 1352.7h6.4M193.6 1362.4h3.4M920.2 1362.4h-3.4M553.7 1362.4h6.4M193.6 1372.0h3.4M920.2 1372.0h-3.4M553.7 1372.0h6.4M193.6 1381.7h3.4M920.2 1381.7h-3.4M553.7 1381.7h6.4M193.6 1391.4h5M920.2 1391.4h-5M553.7 1391.4h6.4M193.6 1401.1h3.4M920.2 1401.1h-3.4M553.7 1401.1h6.4M193.6 1410.8h3.4M920.2 1410.8h-3.4M553.7 1410.8h6.4M193.6 1420.4h3.4M920.2 1420.4h-3.4M553.7 1420.4h6.4M193.6 1430.1h3.4M920.2 1430.1h-3.4M553.7 1430.1h6.4M193.6 1439.8h5M920.2 1439.8h-5M553.7 1439.8h6.4M193.6 1449.5h3.4M920.2 1449.5h-3.4M553.7 1449.5h6.4M193.6 1459.2h3.4M920.2 1459.2h-3.4M553.7 1459.2h6.4M193.6 1468.8h3.4M920.2 1468.8h-3.4M553.7 1468.8h6.4M193.6 1478.5h3.4M920.2 1478.5h-3.4M553.7 1478.5h6.4" stroke="#2a2a2a" stroke-width="1" fill="none"/>
<path d="M193.6 1294.6H920.2M556.9 1099.6V1489.2" stroke="#3a3a3a" stroke-width="1.15" fill="none"/>
<rect x="193.6" y="1099.6" width="726.6" height="389.6" fill="none" stroke="#2a2a2a" stroke-width="1.3"/>
<path d="M835.2 1489.0H920.8000000000001" stroke="#000" stroke-width="2.8" fill="none"/>
<polyline points="193.6,1327.9 195.6,1325.7 197.6,1325.0 199.6,1324.4 201.6,1322.8 203.6,1321.5 205.7,1319.5 207.7,1319.0 209.7,1317.0 211.7,1314.6 213.7,1314.1 215.7,1311.8 217.7,1312.4 219.7,1311.1 221.7,1308.4 223.7,1306.9 225.7,1306.6 227.8,1304.0 229.8,1302.6 231.8,1301.2 233.8,1300.2 235.8,1299.4 237.8,1297.8 239.8,1299.9 241.9,1299.3 243.9,1302.0 245.9,1302.2 248.0,1304.1 250.0,1305.0 252.0,1304.6 254.1,1306.8 256.1,1306.7 258.1,1307.5 260.2,1309.5 262.2,1311.4 264.2,1312.0 266.3,1312.3 268.3,1314.8 270.3,1316.0 272.4,1315.6 274.4,1317.2 276.4,1318.7 278.5,1320.3 280.5,1319.7 282.6,1321.7 284.6,1323.7 286.6,1324.0 288.7,1325.3 290.7,1326.5 292.7,1327.0 294.8,1327.6 296.8,1329.4 298.8,1330.3 300.9,1331.0 302.9,1333.2 304.9,1333.2 307.0,1334.5 309.0,1336.2 311.0,1337.4 313.1,1338.7 315.1,1339.2 317.1,1339.4 319.2,1341.8 321.2,1343.1 323.2,1343.7 325.3,1344.9 327.3,1345.4 329.3,1344.1 331.3,1342.7 333.3,1341.5 335.3,1339.2 337.3,1339.0 339.3,1338.0 341.3,1335.1 343.3,1335.1 345.3,1333.6 347.3,1331.0 349.3,1329.5 351.3,1329.3 353.3,1327.1 355.3,1325.9 357.3,1325.3 359.3,1324.0 361.3,1322.8 363.3,1321.1 365.3,1319.2 367.3,1317.1 369.3,1316.0 371.3,1314.8 373.3,1314.2 375.3,1313.2 377.3,1310.8 379.3,1309.8 381.3,1309.6 383.3,1307.1 385.3,1306.4 387.3,1304.9 389.3,1303.6 391.3,1301.8 393.3,1300.6 395.3,1299.6 397.3,1297.8 399.3,1298.1 401.4,1300.6 403.4,1301.9 405.4,1301.1 407.5,1302.5 409.5,1303.7 411.5,1304.5 413.6,1305.7 415.6,1307.8 417.6,1307.8 419.7,1308.7 421.7,1311.8 423.7,1311.6 425.8,1313.0 427.8,1314.0 429.8,1314.8 431.9,1316.1 433.9,1316.6 435.9,1318.5 438.0,1318.9 440.0,1319.7 442.1,1321.0 444.1,1322.5 446.1,1324.7 448.2,1325.1 450.2,1327.0 452.2,1326.8 454.3,1327.6 456.3,1329.6 458.3,1329.6 460.4,1332.4 462.4,1332.2 464.4,1333.0 466.5,1334.1 468.5,1335.2 470.5,1337.7 472.6,1338.9 474.6,1339.0 476.6,1339.4 478.7,1340.0 480.7,1341.2 482.7,1342.8 484.8,1344.6 486.8,1345.4 488.9,1344.3 490.9,1343.4 493.0,1341.9 495.0,1339.5 497.1,1338.8 499.2,1336.9 501.2,1336.1 503.3,1333.5 505.3,1333.8 507.4,1330.4 509.4,1330.3 511.5,1328.3 513.6,1327.9 515.6,1325.0 517.7,1325.3 519.7,1321.9 521.8,1322.1 523.9,1320.6 525.9,1318.8 528.0,1316.7 530.0,1315.7 532.1,1314.5 534.2,1312.6 536.2,1311.1 538.3,1311.2 540.3,1309.1 542.4,1307.1 544.4,1306.5 546.5,1305.1 548.6,1302.6 550.6,1302.2 552.7,1300.8 554.7,1298.3 556.8,1297.8 558.8,1298.4 560.9,1300.8 562.9,1301.2 564.9,1301.5 567.0,1303.0 569.0,1304.2 571.0,1305.8 573.1,1307.2 575.1,1306.6 577.1,1307.6 579.2,1309.6 581.2,1309.7 583.2,1311.1 585.3,1312.1 587.3,1313.1 589.3,1315.4 591.4,1315.3 593.4,1317.4 595.4,1319.4 597.5,1318.6 599.5,1321.1 601.5,1321.8 603.6,1322.0 605.6,1324.8 607.7,1325.4 609.7,1325.7 611.7,1327.9 613.8,1327.2 615.8,1329.9 617.8,1331.0 619.9,1330.5 621.9,1333.3 623.9,1334.1 626.0,1335.5 628.0,1335.2 630.0,1337.3 632.1,1338.4 634.1,1338.6 636.1,1339.0 638.2,1340.0 640.2,1342.2 642.2,1343.3 644.3,1343.5 646.3,1345.4 648.3,1344.3 650.3,1341.7 652.3,1341.3 654.3,1340.0 656.3,1337.9 658.3,1336.2 660.3,1336.8 662.3,1335.3 664.3,1333.4 666.3,1330.8 668.3,1330.5 670.3,1330.1 672.3,1328.3 674.3,1326.8 676.3,1324.0 678.3,1323.8 680.3,1321.7 682.3,1322.0 684.3,1318.5 686.3,1317.6 688.3,1317.7 690.3,1314.6 692.3,1313.7 694.3,1312.3 696.3,1312.2 698.3,1310.5 700.3,1309.6 702.3,1306.6 704.3,1305.1 706.3,1304.3 708.3,1303.8 710.3,1302.1 712.3,1301.5 714.3,1299.6 716.3,1297.8 718.3,1298.0 720.4,1299.6 722.4,1300.4 724.4,1301.6 726.5,1303.6 728.5,1304.2 730.5,1305.9 732.6,1305.4 734.6,1308.4 736.6,1307.9 738.7,1310.2 740.7,1311.5 742.7,1310.9 744.8,1313.0 746.8,1315.1 748.8,1314.0 750.9,1316.2 752.9,1317.1 754.9,1318.1 757.0,1318.8 759.0,1319.8 761.0,1321.1 763.1,1322.1 765.1,1323.3 767.2,1325.7 769.2,1326.9 771.2,1326.5 773.3,1327.1 775.3,1328.7 777.3,1331.0 779.4,1330.6 781.4,1332.8 783.4,1332.6 785.5,1334.3 787.5,1334.9 789.5,1337.0 791.6,1337.5 793.6,1339.5 795.6,1340.0 797.7,1340.9 799.7,1341.1 801.7,1344.0 803.8,1343.3 805.8,1345.4 807.8,1344.0 809.8,1343.8 811.8,1342.0 813.8,1339.6 815.8,1339.5 817.8,1336.7 819.8,1336.1 821.8,1334.7 823.8,1333.6 825.8,1331.3 827.8,1330.2 829.8,1328.7 831.8,1328.6 833.8,1326.9 835.8,1324.6 837.8,1324.2 839.8,1322.5 841.8,1320.4 843.8,1319.6 845.8,1317.3 847.8,1316.2 849.8,1314.5 851.8,1313.2 853.8,1313.0 855.8,1312.1 857.8,1310.8 859.8,1308.1 861.8,1308.3 863.8,1305.6 865.8,1305.0 867.8,1303.5 869.8,1301.8 871.8,1300.9 873.8,1300.0 875.8,1297.8 877.8,1299.3 879.8,1300.0 881.9,1301.8 883.9,1302.6 885.9,1302.9 887.9,1305.3 889.9,1305.1 891.9,1305.4 894.0,1308.5 896.0,1309.5 898.0,1309.7 900.0,1311.2 902.0,1312.2 904.1,1311.9 906.1,1314.6 908.1,1315.3 910.1,1317.1 912.1,1317.1 914.1,1317.7 916.2,1319.9 918.2,1320.5 920.2,1321.4" fill="none" stroke="#ee14e8" stroke-width="8.0" stroke-linejoin="round"/>
<path d="M195.1 1145.5V1156.7M196.1 1146.9V1155.7M200.1 1145.4V1156.9M204.1 1145.7V1156.5M210.1 1146.1V1155.6M212.1 1146.6V1155.6M217.1 1145.6V1155.4M218.1 1146.1V1154.8M223.1 1145.1V1156.3M224.1 1146.0V1154.9M225.1 1145.8V1155.4M229.1 1145.7V1156.4M230.1 1145.3V1154.5M233.1 1146.9V1156.1M234.1 1145.9V1154.9" stroke="#0404a8" stroke-width="1.1" fill="none"/>
<rect x="193.6" y="1147.1" width="44.2" height="7.4" fill="#0808de"/>
<path d="M241.3 1263.5V1274.3M243.3 1263.2V1273.4M253.3 1263.6V1273.2M255.3 1264.1V1272.0M275.3 1263.0V1274.1M276.3 1264.1V1272.6M279.3 1263.9V1272.3M281.3 1263.7V1272.3M284.3 1262.1V1272.6M286.3 1263.2V1273.3M288.3 1262.6V1273.4M291.3 1263.5V1273.7M296.3 1263.8V1274.3M300.3 1264.2V1273.0M301.3 1264.4V1273.6M305.3 1263.5V1272.7M311.3 1262.6V1274.1M312.3 1262.7V1273.3M314.3 1264.4V1273.2M316.3 1262.6V1272.1M321.3 1263.0V1272.0M323.3 1264.4V1273.7M324.3 1263.0V1274.2" stroke="#0404a8" stroke-width="1.1" fill="none"/>
<rect x="237.8" y="1264.5" width="89.5" height="7.4" fill="#0808de"/>
<path d="M330.8 1144.7V1156.2M333.8 1146.5V1154.6M336.8 1146.7V1155.4M337.8 1145.2V1154.9M340.8 1146.9V1156.0M341.8 1146.3V1156.9M348.8 1145.0V1156.8M350.8 1147.0V1155.3M351.8 1145.5V1155.9M354.8 1145.3V1156.3M356.8 1145.0V1155.8M359.8 1147.0V1156.1M368.8 1145.2V1154.6M369.8 1145.7V1155.4M371.8 1145.9V1155.0M377.8 1144.8V1154.6M379.8 1146.1V1155.6M384.8 1146.2V1155.0M388.8 1145.5V1155.7M389.8 1146.6V1156.0M394.8 1146.3V1156.6M395.8 1147.0V1156.1" stroke="#0404a8" stroke-width="1.1" fill="none"/>
<rect x="327.3" y="1147.1" width="70.0" height="7.4" fill="#0808de"/>
<path d="M399.8 1262.9V1273.0M401.8 1264.3V1274.1M403.8 1264.2V1273.9M411.8 1263.0V1272.1M417.8 1262.8V1274.2M418.8 1263.6V1273.8M419.8 1263.7V1273.9M421.8 1263.5V1272.8M424.8 1263.7V1274.0M428.8 1264.1V1272.2M429.8 1264.3V1272.5M436.8 1262.7V1272.2M440.8 1263.5V1272.3M443.8 1263.7V1273.3M444.8 1262.4V1272.7M445.8 1263.7V1273.0M449.8 1264.3V1274.0M454.8 1264.4V1274.1M466.8 1263.4V1273.5M471.8 1263.9V1272.6M472.8 1263.1V1273.3M475.8 1264.2V1273.3M476.8 1264.2V1273.0M478.8 1263.8V1272.0M482.8 1262.2V1273.4" stroke="#0404a8" stroke-width="1.1" fill="none"/>
<rect x="397.3" y="1264.5" width="89.5" height="7.4" fill="#0808de"/>
<path d="M489.3 1146.4V1155.8M493.3 1146.7V1154.5M496.3 1146.6V1155.3M499.3 1146.0V1155.9M501.3 1146.6V1156.3M503.3 1146.5V1155.6M504.3 1145.6V1156.4M505.3 1145.0V1156.5M506.3 1145.3V1156.4M508.3 1145.9V1156.8M515.3 1145.8V1155.0M516.3 1146.9V1155.8M522.3 1145.6V1156.7M528.3 1146.3V1156.2M529.3 1146.6V1156.8M530.3 1146.9V1156.4M534.3 1145.3V1155.1M536.3 1145.3V1155.0M541.3 1146.4V1155.1M543.3 1145.3V1154.8M544.3 1145.4V1155.8M545.3 1146.4V1155.2M549.3 1146.0V1155.6M550.3 1145.7V1154.8M552.3 1146.2V1154.7M556.3 1146.8V1155.5" stroke="#0404a8" stroke-width="1.1" fill="none"/>
<rect x="486.8" y="1147.1" width="70.0" height="7.4" fill="#0808de"/>
<path d="M558.3 1262.2V1272.5M560.3 1263.1V1273.7M562.3 1263.1V1274.3M563.3 1262.7V1273.2M565.3 1262.5V1272.0M567.3 1263.7V1272.4M568.3 1262.4V1272.4M571.3 1262.7V1274.2M573.3 1263.8V1273.3M576.3 1264.2V1273.7M578.3 1262.5V1272.6M582.3 1263.3V1274.0M583.3 1264.3V1272.0M592.3 1263.9V1273.4M593.3 1262.1V1272.0M599.3 1262.1V1273.4M601.3 1263.1V1273.4M605.3 1263.3V1272.8M607.3 1263.7V1272.6M608.3 1262.2V1274.0M612.3 1263.0V1273.0M622.3 1262.9V1273.1M623.3 1262.8V1272.0M626.3 1262.4V1272.7M628.3 1262.6V1273.7M632.3 1262.1V1273.1M635.3 1262.8V1274.2M644.3 1263.7V1272.7M645.3 1263.1V1271.9" stroke="#0404a8" stroke-width="1.1" fill="none"/>
<rect x="556.8" y="1264.5" width="89.5" height="7.4" fill="#0808de"/>
<path d="M647.8 1146.1V1154.9M649.8 1147.0V1156.4M650.8 1146.4V1156.9M651.8 1145.8V1156.2M655.8 1146.3V1154.9M658.8 1145.8V1156.3M662.8 1146.8V1155.0M663.8 1146.8V1155.2M666.8 1145.8V1156.0M667.8 1144.7V1156.1M673.8 1146.1V1156.7M674.8 1146.1V1155.1M675.8 1144.8V1154.5M683.8 1145.6V1155.2M685.8 1145.7V1155.1M687.8 1145.4V1154.5M688.8 1146.2V1156.0M691.8 1146.3V1154.8M700.8 1145.4V1155.2M701.8 1146.9V1156.8M703.8 1144.7V1156.4M705.8 1146.6V1156.3M713.8 1145.8V1155.7" stroke="#0404a8" stroke-width="1.1" fill="none"/>
<rect x="646.3" y="1147.1" width="70.0" height="7.4" fill="#0808de"/>
<path d="M720.8 1263.0V1272.8M722.8 1264.5V1273.6M725.8 1262.9V1274.0M733.8 1263.5V1273.7M734.8 1263.6V1272.7M736.8 1263.1V1272.6M738.8 1262.5V1272.8M741.8 1264.0V1272.4M742.8 1262.7V1272.6M744.8 1263.3V1272.6M747.8 1263.3V1272.5M748.8 1263.4V1273.4M751.8 1263.5V1272.7M754.8 1263.1V1273.9M765.8 1262.5V1272.2M766.8 1262.3V1274.1M767.8 1263.2V1272.7M773.8 1264.5V1272.6M774.8 1264.3V1272.0M775.8 1263.1V1272.2M786.8 1264.0V1273.5M787.8 1264.4V1274.3M791.8 1264.1V1272.9M794.8 1263.6V1273.7M801.8 1264.4V1272.2M804.8 1263.5V1272.0" stroke="#0404a8" stroke-width="1.1" fill="none"/>
<rect x="716.3" y="1264.5" width="89.5" height="7.4" fill="#0808de"/>
<path d="M806.3 1146.5V1154.5M809.3 1144.9V1156.7M812.3 1145.2V1155.3M815.3 1145.0V1154.7M816.3 1146.2V1156.6M821.3 1146.8V1156.3M824.3 1144.7V1155.0M825.3 1146.3V1155.1M826.3 1146.9V1156.5M830.3 1145.1V1155.2M833.3 1147.0V1154.7M834.3 1145.8V1156.6M835.3 1145.0V1155.3M837.3 1146.7V1155.0M840.3 1146.0V1156.1M844.3 1146.9V1154.5M845.3 1146.3V1155.6M846.3 1145.5V1155.8M850.3 1144.8V1155.2M855.3 1147.0V1155.8M862.3 1145.9V1156.3M870.3 1144.9V1154.8M873.3 1145.5V1155.8" stroke="#0404a8" stroke-width="1.1" fill="none"/>
<rect x="805.8" y="1147.1" width="70.0" height="7.4" fill="#0808de"/>
<path d="M876.3 1264.2V1273.8M877.3 1262.4V1271.9M880.3 1263.4V1273.1M881.3 1263.1V1272.4M882.3 1264.0V1273.7M884.3 1264.4V1272.8M890.3 1262.3V1274.1M896.3 1262.4V1273.7M908.3 1263.2V1273.2M910.3 1264.4V1274.1M912.3 1262.5V1273.6M913.3 1263.5V1272.1" stroke="#0404a8" stroke-width="1.1" fill="none"/>
<rect x="875.8" y="1264.5" width="44.4" height="7.4" fill="#0808de"/>
<path d="M237.8 1146.8V1277.7M397.3 1146.8V1277.7M556.8 1146.8V1277.7M716.3 1146.8V1277.7M875.8 1146.8V1277.7" stroke="#0808de" stroke-width="3.2" fill="none"/>
<path d="M327.3 1276.2V1143.8M486.8 1276.2V1143.8M646.3 1276.2V1143.8M805.8 1276.2V1143.8" stroke="#0808de" stroke-width="1.9" fill="none"/>
<polygon points="173.0,1260.3000000000002 185.4,1260.3000000000002 192.6,1267.9 185.4,1275.5 173.0,1275.5" fill="#7c88aa" stroke="#2a3ab4" stroke-width="1.2"/><text x="179.8" y="1272.5" font-size="13" fill="#2a3ab4" text-anchor="middle" font-family='"Liberation Serif","Noto Serif CJK SC",serif'>1</text>
<polygon points="173.0,1361.4 185.4,1361.4 192.6,1369.0 185.4,1376.6 173.0,1376.6" fill="#c693ca"/><text x="179.8" y="1373.6" font-size="13" fill="#a070a8" text-anchor="middle" font-family='"Liberation Serif","Noto Serif CJK SC",serif'>3</text>
<path d="M910.6 1247.8l6 -3.6v7.2zM916 1247.1h4.4v1.4h-4.4z" fill="#2030c0"/>
<path d="M551.1 1108.6h12v9l-3.5 4h-5l-3.5 -4z" fill="#f0a020"/><path d="M553.7 1111.2h6.8M557.1 1111.2v7.6" stroke="#fff" stroke-width="2" fill="none"/>
<rect x="717.9" y="1165.6" width="89.4" height="95.4" fill="none" stroke="#fff" stroke-width="1.7"/>
<rect x="740.8" y="1313.8" width="112.2" height="84" fill="none" stroke="#fff" stroke-width="1.7"/>
<text x="730.4" y="1214.6" font-size="32" fill="#000" textLength="62.5" lengthAdjust="spacingAndGlyphs" font-family='"Liberation Sans","Noto Sans CJK SC",sans-serif'>VSW</text>
<text x="746.5" y="1364.6" font-size="32" fill="#000" textLength="19.0" lengthAdjust="spacingAndGlyphs" font-family='"Liberation Sans","Noto Sans CJK SC",sans-serif'>IL</text>
<text x="229.2" y="1405.8" font-size="32" fill="#000" textLength="147.0" lengthAdjust="spacingAndGlyphs" font-family='"Liberation Sans","Noto Sans CJK SC",sans-serif'>IOUT=0.5A</text>
<rect x="290.5" y="1084.4" width="533" height="15.3" fill="#fff" stroke="#111" stroke-width="1.3"/>
<path d="M398 1091.8000000000002H717" stroke="#b060a8" stroke-width="1.1"/>
<path d="M544.2 1084.8000000000002h-3v14.5h3" stroke="#000" stroke-width="1.9" fill="none"/>
<path d="M570.7 1084.8000000000002h3v14.5h-3" stroke="#000" stroke-width="1.9" fill="none"/>
<path d="M552.9 1085.6000000000001h8l-4 4.2z" fill="#f0a020"/>
<rect x="553.2" y="1089.0" width="7.4" height="10" rx="2" fill="#f0a020"/>
<path d="M552.9 1098.4h8l-4 6.6z" fill="#f0a020"/>
<path d="M554.6 1091.2h4.6M556.9 1091.2v6.4" stroke="#fff" stroke-width="1.3" fill="none"/>
<text x="172.5" y="1097.0" font-size="16" fill="#000" font-weight="bold" textLength="29.5" lengthAdjust="spacingAndGlyphs" font-family='"Liberation Sans","Noto Sans CJK SC",sans-serif' stroke="#000" stroke-width="0.5">Tek</text>
<text x="206.5" y="1097.4" font-size="15.5" fill="#222" textLength="34.0" lengthAdjust="spacingAndGlyphs" font-family='"Liberation Sans","Noto Sans CJK SC",sans-serif'>停止</text>
<rect x="194.4" y="1439.2" width="311.0" height="36.5" rx="5" fill="#a8a8a8"/><rect x="193.5" y="1437.2" width="311.0" height="36.5" rx="5" fill="#fff" stroke="#222" stroke-width="1.1"/>
<rect x="197.7" y="1440.6" width="24.6" height="13.4" rx="6.7" fill="#0808de"/><text x="210.0" y="1452.3" font-size="14" fill="#fff" text-anchor="middle" font-family='"Liberation Sans","Noto Sans CJK SC",sans-serif'>1</text>
<rect x="200.6" y="1441.4" width="2" height="11.8" fill="#fff"/>
<rect x="197.7" y="1458.6" width="24.6" height="13.4" rx="6.7" fill="#a010a8"/><text x="210.0" y="1470.3" font-size="14" fill="#fff" text-anchor="middle" font-family='"Liberation Sans","Noto Sans CJK SC",sans-serif'>3</text>
<text x="238.4" y="1452.6" font-size="14.5" fill="#4c56a8" textLength="40.0" lengthAdjust="spacingAndGlyphs" font-family='"Liberation Sans","Noto Sans CJK SC",sans-serif'>5.00 V</text>
<text x="238.4" y="1470.2" font-size="14.5" fill="#a044a4" textLength="41.4" lengthAdjust="spacingAndGlyphs" font-family='"Liberation Sans","Noto Sans CJK SC",sans-serif'>500mA</text>
<rect x="508.1" y="1439.4" width="328.6" height="36.0" rx="5" fill="#a8a8a8"/><rect x="507.2" y="1437.4" width="328.6" height="36.0" rx="5" fill="#fff" stroke="#222" stroke-width="1.1"/>
<path d="M505.9 1443v10" stroke="#444" stroke-width="1"/>
<text x="511.3" y="1451.8" font-size="14.5" fill="#222" textLength="41.0" lengthAdjust="spacingAndGlyphs" font-family='"Liberation Sans","Noto Sans CJK SC",sans-serif'>4.00μs</text>
<text x="642.5" y="1451.8" font-size="14.5" fill="#222" textLength="77.0" lengthAdjust="spacingAndGlyphs" font-family='"Liberation Sans","Noto Sans CJK SC",sans-serif'>2.50G次/秒</text>
<rect x="751.6" y="1440.8" width="23.8" height="13.2" rx="6.6" fill="#0808de"/><text x="763.5" y="1452.3" font-size="14" fill="#fff" text-anchor="middle" font-family='"Liberation Sans","Noto Sans CJK SC",sans-serif'>1</text>
<path d="M784 1442.6l9.5 10.4" stroke="#222" stroke-width="1.2"/>
<rect x="511.4" y="1459.6" width="9.2" height="11" rx="1.5" fill="#f0a020"/>
<path d="M513.3 1462h5.4M516 1462v7" stroke="#fff" stroke-width="1.5" fill="none"/>
<path d="M521.4 1465.2h6.2m-2.6 -2.4l2.6 2.4l-2.6 2.4" stroke="#f0a020" stroke-width="1.3" fill="none"/>
<path d="M529.4 1462.2h8l-4 5.8z" fill="#f0a020"/>
<text x="538.4" y="1470.0" font-size="14.5" fill="#e8b64c" textLength="74.3" lengthAdjust="spacingAndGlyphs" font-family='"Liberation Sans","Noto Sans CJK SC",sans-serif'>0.000000 s</text>
<text x="643.0" y="1470.0" font-size="14.5" fill="#222" textLength="38.3" lengthAdjust="spacingAndGlyphs" font-family='"Liberation Sans","Noto Sans CJK SC",sans-serif'>1M 点</text>
<text x="757.8" y="1470.0" font-size="14.5" fill="#222" textLength="39.0" lengthAdjust="spacingAndGlyphs" font-family='"Liberation Sans","Noto Sans CJK SC",sans-serif'>2.10 V</text>
<rect x="194.4" y="1477.8" width="642.3" height="70.8" rx="5" fill="#a8a8a8"/><rect x="193.5" y="1475.8" width="642.3" height="70.8" rx="5" fill="#fff" stroke="#222" stroke-width="1.1"/>
<text x="330.7" y="1491.0" font-size="15.6" fill="#111" textLength="14.8" lengthAdjust="spacingAndGlyphs" font-family='"Liberation Sans","Noto Sans CJK SC",sans-serif'>值</text>
<text x="421.4" y="1491.0" font-size="15.6" fill="#111" textLength="50.5" lengthAdjust="spacingAndGlyphs" font-family='"Liberation Sans","Noto Sans CJK SC",sans-serif'>平均值</text>
<text x="524.9" y="1491.0" font-size="15.6" fill="#111" textLength="50.2" lengthAdjust="spacingAndGlyphs" font-family='"Liberation Sans","Noto Sans CJK SC",sans-serif'>最小值</text>
<text x="627.5" y="1491.0" font-size="15.6" fill="#111" textLength="50.2" lengthAdjust="spacingAndGlyphs" font-family='"Liberation Sans","Noto Sans CJK SC",sans-serif'>最大值</text>
<text x="730.0" y="1491.0" font-size="15.6" fill="#111" textLength="50.5" lengthAdjust="spacingAndGlyphs" font-family='"Liberation Sans","Noto Sans CJK SC",sans-serif'>标准差</text>
<rect x="197.7" y="1496.5" width="24.4" height="13.2" rx="6.6" fill="#0808de"/><text x="209.9" y="1508.0" font-size="14" fill="#fff" text-anchor="middle" font-family='"Liberation Sans","Noto Sans CJK SC",sans-serif'>1</text>
<text x="226.8" y="1508.6" font-size="15.6" fill="#4c56a8" textLength="33.2" lengthAdjust="spacingAndGlyphs" font-family='"Liberation Sans","Noto Sans CJK SC",sans-serif'>最大</text>
<text x="330.2" y="1508.2" font-size="14.5" fill="#4c56a8" textLength="39.0" lengthAdjust="spacingAndGlyphs" font-family='"Liberation Sans","Noto Sans CJK SC",sans-serif'>12.6 V</text>
<text x="421.8" y="1508.2" font-size="14.5" fill="#4c56a8" textLength="26.0" lengthAdjust="spacingAndGlyphs" font-family='"Liberation Sans","Noto Sans CJK SC",sans-serif'>12.6</text>
<text x="524.8" y="1508.2" font-size="14.5" fill="#4c56a8" textLength="26.0" lengthAdjust="spacingAndGlyphs" font-family='"Liberation Sans","Noto Sans CJK SC",sans-serif'>12.6</text>
<text x="627.5" y="1508.2" font-size="14.5" fill="#4c56a8" textLength="26.8" lengthAdjust="spacingAndGlyphs" font-family='"Liberation Sans","Noto Sans CJK SC",sans-serif'>12.6</text>
<text x="730.0" y="1508.2" font-size="14.5" fill="#4c56a8" textLength="26.4" lengthAdjust="spacingAndGlyphs" font-family='"Liberation Sans","Noto Sans CJK SC",sans-serif'>0.00</text>
<rect x="197.7" y="1513.8" width="24.4" height="13.2" rx="6.6" fill="#a010a8"/><text x="209.9" y="1525.3" font-size="14" fill="#fff" text-anchor="middle" font-family='"Liberation Sans","Noto Sans CJK SC",sans-serif'>3</text>
<text x="226.8" y="1525.9" font-size="15.6" fill="#a044a4" textLength="33.2" lengthAdjust="spacingAndGlyphs" font-family='"Liberation Sans","Noto Sans CJK SC",sans-serif'>平均</text>
<text x="330.2" y="1525.5" font-size="14.5" fill="#a044a4" textLength="40.7" lengthAdjust="spacingAndGlyphs" font-family='"Liberation Sans","Noto Sans CJK SC",sans-serif'>515mA</text>
<text x="421.8" y="1525.5" font-size="14.5" fill="#a044a4" textLength="32.5" lengthAdjust="spacingAndGlyphs" font-family='"Liberation Sans","Noto Sans CJK SC",sans-serif'>515m</text>
<text x="524.8" y="1525.5" font-size="14.5" fill="#a044a4" textLength="32.0" lengthAdjust="spacingAndGlyphs" font-family='"Liberation Sans","Noto Sans CJK SC",sans-serif'>514m</text>
<text x="627.5" y="1525.5" font-size="14.5" fill="#a044a4" textLength="32.5" lengthAdjust="spacingAndGlyphs" font-family='"Liberation Sans","Noto Sans CJK SC",sans-serif'>518m</text>
<text x="730.0" y="1525.5" font-size="14.5" fill="#a044a4" textLength="36.9" lengthAdjust="spacingAndGlyphs" font-family='"Liberation Sans","Noto Sans CJK SC",sans-serif'>1.04m</text>
<rect x="197.7" y="1531.1" width="24.4" height="13.2" rx="6.6" fill="#a010a8"/><text x="209.9" y="1542.6" font-size="14" fill="#fff" text-anchor="middle" font-family='"Liberation Sans","Noto Sans CJK SC",sans-serif'>3</text>
<text x="226.8" y="1543.2" font-size="15.6" fill="#a044a4" textLength="42.0" lengthAdjust="spacingAndGlyphs" font-family='"Liberation Sans","Noto Sans CJK SC",sans-serif'>峰-峰</text>
<text x="330.2" y="1542.8" font-size="14.5" fill="#a044a4" textLength="40.7" lengthAdjust="spacingAndGlyphs" font-family='"Liberation Sans","Noto Sans CJK SC",sans-serif'>580mA</text>
<text x="421.8" y="1542.8" font-size="14.5" fill="#a044a4" textLength="32.5" lengthAdjust="spacingAndGlyphs" font-family='"Liberation Sans","Noto Sans CJK SC",sans-serif'>579m</text>
<text x="524.8" y="1542.8" font-size="14.5" fill="#a044a4" textLength="32.0" lengthAdjust="spacingAndGlyphs" font-family='"Liberation Sans","Noto Sans CJK SC",sans-serif'>560m</text>
<text x="627.5" y="1542.8" font-size="14.5" fill="#a044a4" textLength="32.5" lengthAdjust="spacingAndGlyphs" font-family='"Liberation Sans","Noto Sans CJK SC",sans-serif'>600m</text>
<text x="730.0" y="1542.8" font-size="14.5" fill="#a044a4" textLength="36.9" lengthAdjust="spacingAndGlyphs" font-family='"Liberation Sans","Noto Sans CJK SC",sans-serif'>9.49m</text>
<rect x="839.5" y="1493.7" width="106.5" height="37.0" rx="5" fill="#a8a8a8"/><rect x="838.6" y="1491.7" width="106.5" height="37.0" rx="5" fill="#fff" stroke="#222" stroke-width="1.1"/>
<text x="863.5" y="1507.5" font-size="13.5" fill="#222" textLength="78.0" lengthAdjust="spacingAndGlyphs" font-family='"Liberation Sans","Noto Sans CJK SC",sans-serif'>10 4月 2018</text>
<text x="863.5" y="1524.3" font-size="13.5" fill="#222" textLength="53.0" lengthAdjust="spacingAndGlyphs" font-family='"Liberation Sans","Noto Sans CJK SC",sans-serif'>17:14:46</text>
</svg></figure>
<figure class="fig"><svg class="scope" width="790" height="480" viewBox="165 1078 790 480" style="position:absolute;left:944px;top:1078px">
<rect x="172.6" y="1083" width="775.5" height="464" fill="#fff"/>
<path d="M207.5 1149.4h1.3M222.1 1149.4h1.3M236.6 1149.4h1.3M251.1 1149.4h1.3M265.7 1149.4h1.3M280.2 1149.4h1.3M294.7 1149.4h1.3M309.3 1149.4h1.3M323.8 1149.4h1.3M338.3 1149.4h1.3M352.9 1149.4h1.3M367.4 1149.4h1.3M381.9 1149.4h1.3M396.4 1149.4h1.3M411.0 1149.4h1.3M425.5 1149.4h1.3M440.0 1149.4h1.3M454.6 1149.4h1.3M469.1 1149.4h1.3M483.6 1149.4h1.3M498.2 1149.4h1.3M512.7 1149.4h1.3M527.2 1149.4h1.3M541.8 1149.4h1.3M556.3 1149.4h1.3M570.8 1149.4h1.3M585.4 1149.4h1.3M599.9 1149.4h1.3M614.4 1149.4h1.3M629.0 1149.4h1.3M643.5 1149.4h1.3M658.0 1149.4h1.3M672.6 1149.4h1.3M687.1 1149.4h1.3M701.6 1149.4h1.3M716.2 1149.4h1.3M730.7 1149.4h1.3M745.2 1149.4h1.3M759.7 1149.4h1.3M774.3 1149.4h1.3M788.8 1149.4h1.3M803.3 1149.4h1.3M817.9 1149.4h1.3M832.4 1149.4h1.3M846.9 1149.4h1.3M861.5 1149.4h1.3M876.0 1149.4h1.3M890.5 1149.4h1.3M905.1 1149.4h1.3M207.5 1197.8h1.3M222.1 1197.8h1.3M236.6 1197.8h1.3M251.1 1197.8h1.3M265.7 1197.8h1.3M280.2 1197.8h1.3M294.7 1197.8h1.3M309.3 1197.8h1.3M323.8 1197.8h1.3M338.3 1197.8h1.3M352.9 1197.8h1.3M367.4 1197.8h1.3M381.9 1197.8h1.3M396.4 1197.8h1.3M411.0 1197.8h1.3M425.5 1197.8h1.3M440.0 1197.8h1.3M454.6 1197.8h1.3M469.1 1197.8h1.3M483.6 1197.8h1.3M498.2 1197.8h1.3M512.7 1197.8h1.3M527.2 1197.8h1.3M541.8 1197.8h1.3M556.3 1197.8h1.3M570.8 1197.8h1.3M585.4 1197.8h1.3M599.9 1197.8h1.3M614.4 1197.8h1.3M629.0 1197.8h1.3M643.5 1197.8h1.3M658.0 1197.8h1.3M672.6 1197.8h1.3M687.1 1197.8h1.3M701.6 1197.8h1.3M716.2 1197.8h1.3M730.7 1197.8h1.3M745.2 1197.8h1.3M759.7 1197.8h1.3M774.3 1197.8h1.3M788.8 1197.8h1.3M803.3 1197.8h1.3M817.9 1197.8h1.3M832.4 1197.8h1.3M846.9 1197.8h1.3M861.5 1197.8h1.3M876.0 1197.8h1.3M890.5 1197.8h1.3M905.1 1197.8h1.3M207.5 1246.2h1.3M222.1 1246.2h1.3M236.6 1246.2h1.3M251.1 1246.2h1.3M265.7 1246.2h1.3M280.2 1246.2h1.3M294.7 1246.2h1.3M309.3 1246.2h1.3M323.8 1246.2h1.3M338.3 1246.2h1.3M352.9 1246.2h1.3M367.4 1246.2h1.3M381.9 1246.2h1.3M396.4 1246.2h1.3M411.0 1246.2h1.3M425.5 1246.2h1.3M440.0 1246.2h1.3M454.6 1246.2h1.3M469.1 1246.2h1.3M483.6 1246.2h1.3M498.2 1246.2h1.3M512.7 1246.2h1.3M527.2 1246.2h1.3M541.8 1246.2h1.3M556.3 1246.2h1.3M570.8 1246.2h1.3M585.4 1246.2h1.3M599.9 1246.2h1.3M614.4 1246.2h1.3M629.0 1246.2h1.3M643.5 1246.2h1.3M658.0 1246.2h1.3M672.6 1246.2h1.3M687.1 1246.2h1.3M701.6 1246.2h1.3M716.2 1246.2h1.3M730.7 1246.2h1.3M745.2 1246.2h1.3M759.7 1246.2h1.3M774.3 1246.2h1.3M788.8 1246.2h1.3M803.3 1246.2h1.3M817.9 1246.2h1.3M832.4 1246.2h1.3M846.9 1246.2h1.3M861.5 1246.2h1.3M876.0 1246.2h1.3M890.5 1246.2h1.3M905.1 1246.2h1.3M207.5 1343.0h1.3M222.1 1343.0h1.3M236.6 1343.0h1.3M251.1 1343.0h1.3M265.7 1343.0h1.3M280.2 1343.0h1.3M294.7 1343.0h1.3M309.3 1343.0h1.3M323.8 1343.0h1.3M338.3 1343.0h1.3M352.9 1343.0h1.3M367.4 1343.0h1.3M381.9 1343.0h1.3M396.4 1343.0h1.3M411.0 1343.0h1.3M425.5 1343.0h1.3M440.0 1343.0h1.3M454.6 1343.0h1.3M469.1 1343.0h1.3M483.6 1343.0h1.3M498.2 1343.0h1.3M512.7 1343.0h1.3M527.2 1343.0h1.3M541.8 1343.0h1.3M556.3 1343.0h1.3M570.8 1343.0h1.3M585.4 1343.0h1.3M599.9 1343.0h1.3M614.4 1343.0h1.3M629.0 1343.0h1.3M643.5 1343.0h1.3M658.0 1343.0h1.3M672.6 1343.0h1.3M687.1 1343.0h1.3M701.6 1343.0h1.3M716.2 1343.0h1.3M730.7 1343.0h1.3M745.2 1343.0h1.3M759.7 1343.0h1.3M774.3 1343.0h1.3M788.8 1343.0h1.3M803.3 1343.0h1.3M817.9 1343.0h1.3M832.4 1343.0h1.3M846.9 1343.0h1.3M861.5 1343.0h1.3M876.0 1343.0h1.3M890.5 1343.0h1.3M905.1 1343.0h1.3M207.5 1391.4h1.3M222.1 1391.4h1.3M236.6 1391.4h1.3M251.1 1391.4h1.3M265.7 1391.4h1.3M280.2 1391.4h1.3M294.7 1391.4h1.3M309.3 1391.4h1.3M323.8 1391.4h1.3M338.3 1391.4h1.3M352.9 1391.4h1.3M367.4 1391.4h1.3M381.9 1391.4h1.3M396.4 1391.4h1.3M411.0 1391.4h1.3M425.5 1391.4h1.3M440.0 1391.4h1.3M454.6 1391.4h1.3M469.1 1391.4h1.3M483.6 1391.4h1.3M498.2 1391.4h1.3M512.7 1391.4h1.3M527.2 1391.4h1.3M541.8 1391.4h1.3M556.3 1391.4h1.3M570.8 1391.4h1.3M585.4 1391.4h1.3M599.9 1391.4h1.3M614.4 1391.4h1.3M629.0 1391.4h1.3M643.5 1391.4h1.3M658.0 1391.4h1.3M672.6 1391.4h1.3M687.1 1391.4h1.3M701.6 1391.4h1.3M716.2 1391.4h1.3M730.7 1391.4h1.3M745.2 1391.4h1.3M759.7 1391.4h1.3M774.3 1391.4h1.3M788.8 1391.4h1.3M803.3 1391.4h1.3M817.9 1391.4h1.3M832.4 1391.4h1.3M846.9 1391.4h1.3M861.5 1391.4h1.3M876.0 1391.4h1.3M890.5 1391.4h1.3M905.1 1391.4h1.3M207.5 1439.8h1.3M222.1 1439.8h1.3M236.6 1439.8h1.3M251.1 1439.8h1.3M265.7 1439.8h1.3M280.2 1439.8h1.3M294.7 1439.8h1.3M309.3 1439.8h1.3M323.8 1439.8h1.3M338.3 1439.8h1.3M352.9 1439.8h1.3M367.4 1439.8h1.3M381.9 1439.8h1.3M396.4 1439.8h1.3M411.0 1439.8h1.3M425.5 1439.8h1.3M440.0 1439.8h1.3M454.6 1439.8h1.3M469.1 1439.8h1.3M483.6 1439.8h1.3M498.2 1439.8h1.3M512.7 1439.8h1.3M527.2 1439.8h1.3M541.8 1439.8h1.3M556.3 1439.8h1.3M570.8 1439.8h1.3M585.4 1439.8h1.3M599.9 1439.8h1.3M614.4 1439.8h1.3M629.0 1439.8h1.3M643.5 1439.8h1.3M658.0 1439.8h1.3M672.6 1439.8h1.3M687.1 1439.8h1.3M701.6 1439.8h1.3M716.2 1439.8h1.3M730.7 1439.8h1.3M745.2 1439.8h1.3M759.7 1439.8h1.3M774.3 1439.8h1.3M788.8 1439.8h1.3M803.3 1439.8h1.3M817.9 1439.8h1.3M832.4 1439.8h1.3M846.9 1439.8h1.3M861.5 1439.8h1.3M876.0 1439.8h1.3M890.5 1439.8h1.3M905.1 1439.8h1.3M266.3 1110.1v1.3M266.3 1119.8v1.3M266.3 1129.4v1.3M266.3 1139.1v1.3M266.3 1148.8v1.3M266.3 1158.5v1.3M266.3 1168.2v1.3M266.3 1177.8v1.3M266.3 1187.5v1.3M266.3 1197.2v1.3M266.3 1206.9v1.3M266.3 1216.6v1.3M266.3 1226.2v1.3M266.3 1235.9v1.3M266.3 1245.6v1.3M266.3 1255.3v1.3M266.3 1265.0v1.3M266.3 1274.6v1.3M266.3 1284.3v1.3M266.3 1294.0v1.3M266.3 1303.7v1.3M266.3 1313.4v1.3M266.3 1323.0v1.3M266.3 1332.7v1.3M266.3 1342.4v1.3M266.3 1352.1v1.3M266.3 1361.8v1.3M266.3 1371.4v1.3M266.3 1381.1v1.3M266.3 1390.8v1.3M266.3 1400.5v1.3M266.3 1410.2v1.3M266.3 1419.8v1.3M266.3 1429.5v1.3M266.3 1439.2v1.3M266.3 1448.9v1.3M266.3 1458.6v1.3M266.3 1468.2v1.3M266.3 1477.9v1.3M338.9 1110.1v1.3M338.9 1119.8v1.3M338.9 1129.4v1.3M338.9 1139.1v1.3M338.9 1148.8v1.3M338.9 1158.5v1.3M338.9 1168.2v1.3M338.9 1177.8v1.3M338.9 1187.5v1.3M338.9 1197.2v1.3M338.9 1206.9v1.3M338.9 1216.6v1.3M338.9 1226.2v1.3M338.9 1235.9v1.3M338.9 1245.6v1.3M338.9 1255.3v1.3M338.9 1265.0v1.3M338.9 1274.6v1.3M338.9 1284.3v1.3M338.9 1294.0v1.3M338.9 1303.7v1.3M338.9 1313.4v1.3M338.9 1323.0v1.3M338.9 1332.7v1.3M338.9 1342.4v1.3M338.9 1352.1v1.3M338.9 1361.8v1.3M338.9 1371.4v1.3M338.9 1381.1v1.3M338.9 1390.8v1.3M338.9 1400.5v1.3M338.9 1410.2v1.3M338.9 1419.8v1.3M338.9 1429.5v1.3M338.9 1439.2v1.3M338.9 1448.9v1.3M338.9 1458.6v1.3M338.9 1468.2v1.3M338.9 1477.9v1.3M411.6 1110.1v1.3M411.6 1119.8v1.3M411.6 1129.4v1.3M411.6 1139.1v1.3M411.6 1148.8v1.3M411.6 1158.5v1.3M411.6 1168.2v1.3M411.6 1177.8v1.3M411.6 1187.5v1.3M411.6 1197.2v1.3M411.6 1206.9v1.3M411.6 1216.6v1.3M411.6 1226.2v1.3M411.6 1235.9v1.3M411.6 1245.6v1.3M411.6 1255.3v1.3M411.6 1265.0v1.3M411.6 1274.6v1.3M411.6 1284.3v1.3M411.6 1294.0v1.3M411.6 1303.7v1.3M411.6 1313.4v1.3M411.6 1323.0v1.3M411.6 1332.7v1.3M411.6 1342.4v1.3M411.6 1352.1v1.3M411.6 1361.8v1.3M411.6 1371.4v1.3M411.6 1381.1v1.3M411.6 1390.8v1.3M411.6 1400.5v1.3M411.6 1410.2v1.3M411.6 1419.8v1.3M411.6 1429.5v1.3M411.6 1439.2v1.3M411.6 1448.9v1.3M411.6 1458.6v1.3M411.6 1468.2v1.3M411.6 1477.9v1.3M484.2 1110.1v1.3M484.2 1119.8v1.3M484.2 1129.4v1.3M484.2 1139.1v1.3M484.2 1148.8v1.3M484.2 1158.5v1.3M484.2 1168.2v1.3M484.2 1177.8v1.3M484.2 1187.5v1.3M484.2 1197.2v1.3M484.2 1206.9v1.3M484.2 1216.6v1.3M484.2 1226.2v1.3M484.2 1235.9v1.3M484.2 1245.6v1.3M484.2 1255.3v1.3M484.2 1265.0v1.3M484.2 1274.6v1.3M484.2 1284.3v1.3M484.2 1294.0v1.3M484.2 1303.7v1.3M484.2 1313.4v1.3M484.2 1323.0v1.3M484.2 1332.7v1.3M484.2 1342.4v1.3M484.2 1352.1v1.3M484.2 1361.8v1.3M484.2 1371.4v1.3M484.2 1381.1v1.3M484.2 1390.8v1.3M484.2 1400.5v1.3M484.2 1410.2v1.3M484.2 1419.8v1.3M484.2 1429.5v1.3M484.2 1439.2v1.3M484.2 1448.9v1.3M484.2 1458.6v1.3M484.2 1468.2v1.3M484.2 1477.9v1.3M629.6 1110.1v1.3M629.6 1119.8v1.3M629.6 1129.4v1.3M629.6 1139.1v1.3M629.6 1148.8v1.3M629.6 1158.5v1.3M629.6 1168.2v1.3M629.6 1177.8v1.3M629.6 1187.5v1.3M629.6 1197.2v1.3M629.6 1206.9v1.3M629.6 1216.6v1.3M629.6 1226.2v1.3M629.6 1235.9v1.3M629.6 1245.6v1.3M629.6 1255.3v1.3M629.6 1265.0v1.3M629.6 1274.6v1.3M629.6 1284.3v1.3M629.6 1294.0v1.3M629.6 1303.7v1.3M629.6 1313.4v1.3M629.6 1323.0v1.3M629.6 1332.7v1.3M629.6 1342.4v1.3M629.6 1352.1v1.3M629.6 1361.8v1.3M629.6 1371.4v1.3M629.6 1381.1v1.3M629.6 1390.8v1.3M629.6 1400.5v1.3M629.6 1410.2v1.3M629.6 1419.8v1.3M629.6 1429.5v1.3M629.6 1439.2v1.3M629.6 1448.9v1.3M629.6 1458.6v1.3M629.6 1468.2v1.3M629.6 1477.9v1.3M702.2 1110.1v1.3M702.2 1119.8v1.3M702.2 1129.4v1.3M702.2 1139.1v1.3M702.2 1148.8v1.3M702.2 1158.5v1.3M702.2 1168.2v1.3M702.2 1177.8v1.3M702.2 1187.5v1.3M702.2 1197.2v1.3M702.2 1206.9v1.3M702.2 1216.6v1.3M702.2 1226.2v1.3M702.2 1235.9v1.3M702.2 1245.6v1.3M702.2 1255.3v1.3M702.2 1265.0v1.3M702.2 1274.6v1.3M702.2 1284.3v1.3M702.2 1294.0v1.3M702.2 1303.7v1.3M702.2 1313.4v1.3M702.2 1323.0v1.3M702.2 1332.7v1.3M702.2 1342.4v1.3M702.2 1352.1v1.3M702.2 1361.8v1.3M702.2 1371.4v1.3M702.2 1381.1v1.3M702.2 1390.8v1.3M702.2 1400.5v1.3M702.2 1410.2v1.3M702.2 1419.8v1.3M702.2 1429.5v1.3M702.2 1439.2v1.3M702.2 1448.9v1.3M702.2 1458.6v1.3M702.2 1468.2v1.3M702.2 1477.9v1.3M774.9 1110.1v1.3M774.9 1119.8v1.3M774.9 1129.4v1.3M774.9 1139.1v1.3M774.9 1148.8v1.3M774.9 1158.5v1.3M774.9 1168.2v1.3M774.9 1177.8v1.3M774.9 1187.5v1.3M774.9 1197.2v1.3M774.9 1206.9v1.3M774.9 1216.6v1.3M774.9 1226.2v1.3M774.9 1235.9v1.3M774.9 1245.6v1.3M774.9 1255.3v1.3M774.9 1265.0v1.3M774.9 1274.6v1.3M774.9 1284.3v1.3M774.9 1294.0v1.3M774.9 1303.7v1.3M774.9 1313.4v1.3M774.9 1323.0v1.3M774.9 1332.7v1.3M774.9 1342.4v1.3M774.9 1352.1v1.3M774.9 1361.8v1.3M774.9 1371.4v1.3M774.9 1381.1v1.3M774.9 1390.8v1.3M774.9 1400.5v1.3M774.9 1410.2v1.3M774.9 1419.8v1.3M774.9 1429.5v1.3M774.9 1439.2v1.3M774.9 1448.9v1.3M774.9 1458.6v1.3M774.9 1468.2v1.3M774.9 1477.9v1.3M847.5 1110.1v1.3M847.5 1119.8v1.3M847.5 1129.4v1.3M847.5 1139.1v1.3M847.5 1148.8v1.3M847.5 1158.5v1.3M847.5 1168.2v1.3M847.5 1177.8v1.3M847.5 1187.5v1.3M847.5 1197.2v1.3M847.5 1206.9v1.3M847.5 1216.6v1.3M847.5 1226.2v1.3M847.5 1235.9v1.3M847.5 1245.6v1.3M847.5 1255.3v1.3M847.5 1265.0v1.3M847.5 1274.6v1.3M847.5 1284.3v1.3M847.5 1294.0v1.3M847.5 1303.7v1.3M847.5 1313.4v1.3M847.5 1323.0v1.3M847.5 1332.7v1.3M847.5 1342.4v1.3M847.5 1352.1v1.3M847.5 1361.8v1.3M847.5 1371.4v1.3M847.5 1381.1v1.3M847.5 1390.8v1.3M847.5 1400.5v1.3M847.5 1410.2v1.3M847.5 1419.8v1.3M847.5 1429.5v1.3M847.5 1439.2v1.3M847.5 1448.9v1.3M847.5 1458.6v1.3M847.5 1468.2v1.3M847.5 1477.9v1.3" stroke="#3c3c3c" stroke-width="1.15" fill="none"/>
<path d="M208.1 1099.6v2.8M208.1 1292.0v5.2M222.7 1099.6v2.8M222.7 1292.0v5.2M237.2 1099.6v2.8M237.2 1292.0v5.2M251.7 1099.6v2.8M251.7 1292.0v5.2M266.3 1099.6v4.5M266.3 1292.0v5.2M280.8 1099.6v2.8M280.8 1292.0v5.2M295.3 1099.6v2.8M295.3 1292.0v5.2M309.9 1099.6v2.8M309.9 1292.0v5.2M324.4 1099.6v2.8M324.4 1292.0v5.2M338.9 1099.6v4.5M338.9 1292.0v5.2M353.5 1099.6v2.8M353.5 1292.0v5.2M368.0 1099.6v2.8M368.0 1292.0v5.2M382.5 1099.6v2.8M382.5 1292.0v5.2M397.0 1099.6v2.8M397.0 1292.0v5.2M411.6 1099.6v4.5M411.6 1292.0v5.2M426.1 1099.6v2.8M426.1 1292.0v5.2M440.6 1099.6v2.8M440.6 1292.0v5.2M455.2 1099.6v2.8M455.2 1292.0v5.2M469.7 1099.6v2.8M469.7 1292.0v5.2M484.2 1099.6v4.5M484.2 1292.0v5.2M498.8 1099.6v2.8M498.8 1292.0v5.2M513.3 1099.6v2.8M513.3 1292.0v5.2M527.8 1099.6v2.8M527.8 1292.0v5.2M542.4 1099.6v2.8M542.4 1292.0v5.2M556.9 1099.6v4.5M556.9 1292.0v5.2M571.4 1099.6v2.8M571.4 1292.0v5.2M586.0 1099.6v2.8M586.0 1292.0v5.2M600.5 1099.6v2.8M600.5 1292.0v5.2M615.0 1099.6v2.8M615.0 1292.0v5.2M629.6 1099.6v4.5M629.6 1292.0v5.2M644.1 1099.6v2.8M644.1 1292.0v5.2M658.6 1099.6v2.8M658.6 1292.0v5.2M673.2 1099.6v2.8M673.2 1292.0v5.2M687.7 1099.6v2.8M687.7 1292.0v5.2M702.2 1099.6v4.5M702.2 1292.0v5.2M716.8 1099.6v2.8M716.8 1292.0v5.2M731.3 1099.6v2.8M731.3 1292.0v5.2M745.8 1099.6v2.8M745.8 1292.0v5.2M760.3 1099.6v2.8M760.3 1292.0v5.2M774.9 1099.6v4.5M774.9 1292.0v5.2M789.4 1099.6v2.8M789.4 1292.0v5.2M803.9 1099.6v2.8M803.9 1292.0v5.2M818.5 1099.6v2.8M818.5 1292.0v5.2M833.0 1099.6v2.8M833.0 1292.0v5.2M847.5 1099.6v4.5M847.5 1292.0v5.2M862.1 1099.6v2.8M862.1 1292.0v5.2M876.6 1099.6v2.8M876.6 1292.0v5.2M891.1 1099.6v2.8M891.1 1292.0v5.2M905.7 1099.6v2.8M905.7 1292.0v5.2M193.6 1110.7h3.4M920.2 1110.7h-3.4M553.7 1110.7h6.4M193.6 1120.4h3.4M920.2 1120.4h-3.4M553.7 1120.4h6.4M193.6 1130.0h3.4M920.2 1130.0h-3.4M553.7 1130.0h6.4M193.6 1139.7h3.4M920.2 1139.7h-3.4M553.7 1139.7h6.4M193.6 1149.4h5M920.2 1149.4h-5M553.7 1149.4h6.4M193.6 1159.1h3.4M920.2 1159.1h-3.4M553.7 1159.1h6.4M193.6 1168.8h3.4M920.2 1168.8h-3.4M553.7 1168.8h6.4M193.6 1178.4h3.4M920.2 1178.4h-3.4M553.7 1178.4h6.4M193.6 1188.1h3.4M920.2 1188.1h-3.4M553.7 1188.1h6.4M193.6 1197.8h5M920.2 1197.8h-5M553.7 1197.8h6.4M193.6 1207.5h3.4M920.2 1207.5h-3.4M553.7 1207.5h6.4M193.6 1217.2h3.4M920.2 1217.2h-3.4M553.7 1217.2h6.4M193.6 1226.8h3.4M920.2 1226.8h-3.4M553.7 1226.8h6.4M193.6 1236.5h3.4M920.2 1236.5h-3.4M553.7 1236.5h6.4M193.6 1246.2h5M920.2 1246.2h-5M553.7 1246.2h6.4M193.6 1255.9h3.4M920.2 1255.9h-3.4M553.7 1255.9h6.4M193.6 1265.6h3.4M920.2 1265.6h-3.4M553.7 1265.6h6.4M193.6 1275.2h3.4M920.2 1275.2h-3.4M553.7 1275.2h6.4M193.6 1284.9h3.4M920.2 1284.9h-3.4M553.7 1284.9h6.4M193.6 1294.6h5M920.2 1294.6h-5M553.7 1294.6h6.4M193.6 1304.3h3.4M920.2 1304.3h-3.4M553.7 1304.3h6.4M193.6 1314.0h3.4M920.2 1314.0h-3.4M553.7 1314.0h6.4M193.6 1323.6h3.4M920.2 1323.6h-3.4M553.7 1323.6h6.4M193.6 1333.3h3.4M920.2 1333.3h-3.4M553.7 1333.3h6.4M193.6 1343.0h5M920.2 1343.0h-5M553.7 1343.0h6.4M193.6 1352.7h3.4M920.2 1352.7h-3.4M553.7 1352.7h6.4M193.6 1362.4h3.4M920.2 1362.4h-3.4M553.7 1362.4h6.4M193.6 1372.0h3.4M920.2 1372.0h-3.4M553.7 1372.0h6.4M193.6 1381.7h3.4M920.2 1381.7h-3.4M553.7 1381.7h6.4M193.6 1391.4h5M920.2 1391.4h-5M553.7 1391.4h6.4M193.6 1401.1h3.4M920.2 1401.1h-3.4M553.7 1401.1h6.4M193.6 1410.8h3.4M920.2 1410.8h-3.4M553.7 1410.8h6.4M193.6 1420.4h3.4M920.2 1420.4h-3.4M553.7 1420.4h6.4M193.6 1430.1h3.4M920.2 1430.1h-3.4M553.7 1430.1h6.4M193.6 1439.8h5M920.2 1439.8h-5M553.7 1439.8h6.4M193.6 1449.5h3.4M920.2 1449.5h-3.4M553.7 1449.5h6.4M193.6 1459.2h3.4M920.2 1459.2h-3.4M553.7 1459.2h6.4M193.6 1468.8h3.4M920.2 1468.8h-3.4M553.7 1468.8h6.4M193.6 1478.5h3.4M920.2 1478.5h-3.4M553.7 1478.5h6.4" stroke="#2a2a2a" stroke-width="1" fill="none"/>
<path d="M193.6 1294.6H920.2M556.9 1099.6V1489.2" stroke="#3a3a3a" stroke-width="1.15" fill="none"/>
<rect x="193.6" y="1099.6" width="726.6" height="389.6" fill="none" stroke="#2a2a2a" stroke-width="1.3"/>
<path d="M835.2 1489.0H920.8000000000001" stroke="#000" stroke-width="2.8" fill="none"/>
<polyline points="193.6,1315.4 195.6,1314.7 197.7,1312.9 199.7,1313.6 201.7,1312.6 203.7,1310.7 205.8,1310.2 207.8,1308.2 209.8,1307.3 211.8,1306.5 213.9,1306.5 215.9,1304.5 217.9,1305.2 220.0,1302.3 222.0,1301.6 224.0,1300.5 226.0,1301.0 228.1,1299.2 230.1,1298.5 232.1,1297.2 234.1,1297.0 236.2,1295.5 238.2,1294.8 240.2,1295.1 242.2,1296.6 244.3,1297.3 246.3,1297.8 248.3,1300.3 250.3,1301.0 252.4,1301.9 254.4,1303.4 256.4,1303.2 258.4,1304.2 260.5,1305.2 262.5,1306.2 264.5,1307.7 266.5,1307.2 268.5,1309.2 270.6,1310.3 272.6,1310.8 274.6,1311.1 276.6,1313.6 278.7,1313.0 280.7,1315.2 282.7,1315.2 284.7,1316.0 286.8,1317.2 288.8,1317.9 290.8,1319.1 292.8,1321.2 294.8,1322.3 296.9,1322.5 298.9,1324.1 300.9,1324.6 302.9,1325.6 305.0,1327.4 307.0,1327.2 309.0,1329.4 311.0,1329.9 313.1,1330.9 315.1,1330.3 317.1,1332.4 319.1,1330.5 321.2,1329.5 323.2,1329.2 325.2,1329.6 327.3,1328.5 329.3,1327.5 331.3,1325.0 333.4,1325.3 335.4,1324.5 337.4,1323.7 339.5,1322.7 341.5,1320.3 343.5,1319.5 345.6,1319.9 347.6,1318.8 349.6,1318.2 351.7,1316.3 353.7,1316.3 355.7,1313.7 357.8,1314.6 359.8,1313.5 361.8,1311.4 363.8,1309.8 365.9,1309.9 367.9,1309.3 369.9,1307.6 372.0,1306.0 374.0,1305.6 376.0,1305.9 378.1,1303.3 380.1,1304.2 382.1,1301.8 384.2,1300.7 386.2,1299.6 388.2,1300.6 390.3,1299.4 392.3,1297.2 394.3,1295.8 396.4,1296.1 398.4,1294.8 400.4,1296.6 402.4,1295.7 404.5,1298.0 406.5,1299.4 408.5,1299.5 410.5,1300.7 412.5,1302.2 414.6,1301.9 416.6,1303.0 418.6,1304.8 420.6,1305.5 422.6,1306.4 424.7,1307.0 426.7,1309.3 428.7,1308.8 430.7,1310.6 432.7,1312.1 434.8,1311.9 436.8,1312.1 438.8,1313.5 440.8,1314.1 442.9,1315.2 444.9,1316.1 446.9,1317.6 448.9,1318.6 450.9,1319.8 453.0,1321.2 455.0,1322.2 457.0,1323.2 459.0,1323.4 461.0,1325.0 463.1,1325.8 465.1,1325.8 467.1,1327.7 469.1,1328.1 471.1,1329.9 473.2,1331.0 475.2,1330.9 477.2,1332.4 479.2,1331.3 481.3,1330.4 483.3,1329.1 485.4,1327.5 487.4,1326.6 489.4,1327.7 491.5,1326.2 493.5,1324.6 495.5,1324.1 497.6,1322.3 499.6,1322.3 501.7,1321.8 503.7,1320.5 505.7,1318.8 507.8,1319.0 509.8,1317.9 511.9,1315.0 513.9,1314.9 515.9,1314.0 518.0,1312.6 520.0,1312.4 522.0,1310.4 524.1,1310.8 526.1,1310.0 528.2,1307.3 530.2,1307.8 532.2,1305.9 534.3,1305.7 536.3,1304.9 538.4,1304.5 540.4,1303.2 542.4,1301.2 544.5,1301.1 546.5,1298.8 548.5,1299.1 550.6,1297.5 552.6,1296.2 554.7,1295.2 556.7,1294.8 558.7,1295.1 560.8,1297.3 562.8,1296.7 564.8,1298.0 566.9,1298.8 568.9,1299.7 570.9,1301.9 573.0,1302.5 575.0,1303.6 577.1,1305.1 579.1,1305.0 581.1,1305.1 583.2,1306.3 585.2,1308.0 587.2,1309.4 589.3,1310.8 591.3,1310.8 593.3,1311.1 595.4,1312.9 597.4,1314.6 599.4,1314.2 601.5,1316.4 603.5,1317.3 605.5,1317.5 607.6,1318.3 609.6,1318.4 611.6,1319.3 613.7,1320.1 615.7,1322.3 617.8,1323.5 619.8,1325.0 621.8,1325.1 623.9,1326.9 625.9,1326.5 627.9,1326.9 630.0,1327.7 632.0,1329.1 634.0,1330.6 636.1,1332.5 638.1,1332.4 640.1,1331.0 642.1,1329.9 644.1,1330.0 646.2,1328.3 648.2,1327.7 650.2,1325.8 652.2,1326.4 654.2,1325.6 656.2,1324.3 658.3,1323.7 660.3,1321.4 662.3,1319.8 664.3,1319.4 666.3,1319.8 668.3,1317.9 670.3,1316.3 672.4,1315.2 674.4,1314.3 676.4,1313.9 678.4,1314.1 680.4,1313.0 682.4,1311.8 684.5,1310.8 686.5,1308.6 688.5,1308.9 690.5,1306.7 692.5,1306.4 694.5,1304.4 696.5,1305.3 698.6,1302.7 700.6,1302.7 702.6,1301.9 704.6,1300.9 706.6,1300.0 708.6,1298.4 710.7,1298.3 712.7,1297.7 714.7,1296.0 716.7,1294.8 718.7,1296.8 720.7,1297.4 722.7,1296.6 724.7,1298.9 726.8,1298.6 728.8,1300.8 730.8,1301.1 732.8,1303.1 734.8,1302.3 736.8,1305.2 738.8,1304.1 740.8,1305.1 742.8,1305.9 744.8,1307.1 746.9,1310.0 748.9,1310.6 750.9,1311.7 752.9,1311.0 754.9,1313.1 756.9,1314.2 758.9,1315.0 760.9,1315.0 762.9,1317.5 764.9,1317.9 767.0,1318.7 769.0,1318.8 771.0,1320.0 773.0,1321.7 775.0,1322.1 777.0,1323.0 779.0,1324.9 781.0,1324.7 783.0,1326.6 785.0,1325.8 787.1,1327.8 789.1,1329.1 791.1,1328.5 793.1,1331.0 795.1,1331.0 797.1,1332.4 799.1,1331.7 801.2,1330.7 803.2,1328.7 805.2,1329.5 807.3,1327.0 809.3,1325.8 811.3,1325.5 813.4,1323.7 815.4,1322.8 817.4,1323.3 819.5,1320.9 821.5,1320.9 823.5,1320.7 825.6,1318.8 827.6,1318.6 829.6,1317.7 831.7,1315.3 833.7,1314.1 835.7,1314.7 837.8,1313.9 839.8,1312.9 841.8,1311.7 843.9,1310.2 845.9,1310.3 847.9,1308.8 850.0,1307.9 852.0,1307.3 854.0,1304.4 856.1,1305.0 858.1,1303.7 860.1,1301.4 862.2,1301.0 864.2,1301.1 866.2,1299.7 868.3,1298.8 870.3,1297.2 872.3,1296.9 874.4,1296.6 876.4,1294.8 878.5,1296.8 880.6,1296.9 882.7,1298.2 884.7,1297.8 886.8,1298.9 888.9,1300.7 891.0,1302.3 893.1,1301.7 895.2,1302.7 897.3,1304.5 899.3,1305.0 901.4,1305.6 903.5,1306.7 905.6,1308.2 907.7,1310.0 909.8,1309.6 911.9,1312.0 913.9,1311.3 916.0,1312.7 918.1,1314.6 920.2,1315.2" fill="none" stroke="#ee14e8" stroke-width="8.6" stroke-linejoin="round"/>
<path d="M194.1 1153.5V1162.1M195.1 1152.2V1162.1M198.1 1152.2V1162.5M204.1 1152.9V1162.4M205.1 1152.0V1164.0M206.1 1152.1V1163.4M207.1 1154.0V1162.7M210.1 1153.2V1163.9M211.1 1154.0V1162.7M215.1 1153.9V1162.0M222.1 1152.2V1163.8M225.1 1154.2V1162.6M227.1 1152.2V1163.8M230.1 1152.4V1162.1M234.1 1152.2V1162.5M238.1 1152.8V1162.9" stroke="#0404a8" stroke-width="1.1" fill="none"/>
<rect x="193.6" y="1154.3" width="44.6" height="7.4" fill="#0808de"/>
<path d="M242.7 1264.4V1274.8M243.7 1265.6V1274.2M245.7 1264.0V1274.9M246.7 1264.4V1275.1M248.7 1264.6V1273.8M249.7 1265.3V1274.5M250.7 1264.9V1275.5M254.7 1263.9V1273.8M257.7 1265.5V1274.1M260.7 1265.0V1274.1M261.7 1265.8V1275.4M263.7 1264.9V1273.9M265.7 1264.3V1274.6M267.7 1265.3V1275.1M268.7 1265.0V1275.6M269.7 1265.8V1273.7M271.7 1265.1V1274.1M273.7 1264.5V1275.7M278.7 1263.9V1276.0M279.7 1264.5V1275.3M282.7 1264.3V1275.4M283.7 1264.0V1275.5M284.7 1266.2V1274.1M289.7 1265.8V1273.9M305.7 1264.9V1274.8M306.7 1266.0V1274.8M309.7 1264.1V1275.4M311.7 1265.6V1274.5M313.7 1264.8V1275.2" stroke="#0404a8" stroke-width="1.1" fill="none"/>
<rect x="238.2" y="1266.3" width="78.9" height="7.4" fill="#0808de"/>
<path d="M317.6 1152.3V1163.8M320.6 1153.6V1161.8M327.6 1154.1V1163.8M333.6 1154.2V1163.6M334.6 1152.6V1163.3M335.6 1153.3V1162.4M338.6 1153.9V1162.5M342.6 1153.9V1163.2M348.6 1152.4V1162.1M352.6 1153.2V1162.4M353.6 1153.3V1162.7M354.6 1152.7V1163.9M356.6 1153.7V1162.7M364.6 1152.5V1161.8M370.6 1152.1V1162.1M371.6 1153.6V1163.3M377.6 1154.0V1162.4M378.6 1153.0V1163.4M379.6 1153.1V1162.3M380.6 1153.7V1162.3M383.6 1153.1V1162.8M385.6 1152.0V1162.4M393.6 1152.0V1163.3M394.6 1151.9V1163.8M397.6 1153.6V1162.8" stroke="#0404a8" stroke-width="1.1" fill="none"/>
<rect x="317.1" y="1154.3" width="81.3" height="7.4" fill="#0808de"/>
<path d="M404.9 1264.1V1275.1M405.9 1265.9V1275.6M413.9 1265.1V1274.0M414.9 1266.2V1274.6M419.9 1264.3V1274.5M424.9 1265.4V1275.1M426.9 1265.6V1274.1M429.9 1265.1V1275.5M434.9 1266.1V1273.9M436.9 1265.8V1273.7M438.9 1264.8V1276.0M439.9 1264.9V1275.8M442.9 1264.9V1275.6M451.9 1265.8V1275.2M452.9 1265.9V1276.0M458.9 1266.1V1274.2M461.9 1265.2V1274.6M463.9 1264.3V1275.2M465.9 1265.6V1274.9M466.9 1264.9V1276.0M468.9 1266.2V1275.2M470.9 1265.4V1275.6M472.9 1264.0V1276.1M473.9 1265.8V1275.2M474.9 1265.8V1275.6" stroke="#0404a8" stroke-width="1.1" fill="none"/>
<rect x="398.4" y="1266.3" width="78.8" height="7.4" fill="#0808de"/>
<path d="M488.7 1154.0V1162.6M489.7 1153.5V1162.6M490.7 1154.0V1163.2M492.7 1152.6V1162.7M493.7 1152.1V1162.0M495.7 1153.6V1162.5M506.7 1153.9V1163.4M509.7 1152.8V1162.0M514.7 1152.5V1161.8M522.7 1154.1V1163.4M523.7 1152.4V1162.7M525.7 1153.0V1163.4M527.7 1153.7V1163.7M530.7 1152.6V1163.5M535.7 1153.6V1164.1M537.7 1152.8V1163.3M542.7 1154.1V1163.5M543.7 1153.4V1163.0M545.7 1152.8V1163.3M553.7 1152.8V1163.5M554.7 1152.4V1161.9" stroke="#0404a8" stroke-width="1.1" fill="none"/>
<rect x="477.2" y="1154.3" width="79.5" height="7.4" fill="#0808de"/>
<path d="M557.2 1265.7V1274.5M558.2 1264.8V1274.5M562.2 1265.0V1275.1M568.2 1265.5V1275.8M574.2 1265.4V1274.6M576.2 1265.2V1275.8M577.2 1266.1V1275.0M578.2 1265.4V1274.3M580.2 1265.0V1275.8M583.2 1264.0V1275.5M585.2 1265.7V1275.8M588.2 1264.6V1275.7M591.2 1266.2V1274.4M593.2 1266.2V1274.8M594.2 1265.3V1275.4M601.2 1264.6V1274.0M602.2 1266.1V1274.8M611.2 1264.4V1275.6M619.2 1264.2V1275.8M620.2 1265.3V1274.0M622.2 1265.3V1273.8M629.2 1265.7V1274.0M631.2 1264.8V1275.2M634.2 1266.2V1274.8M637.2 1264.1V1275.0" stroke="#0404a8" stroke-width="1.1" fill="none"/>
<rect x="556.7" y="1266.3" width="81.4" height="7.4" fill="#0808de"/>
<path d="M643.6 1154.0V1161.8M646.6 1152.9V1162.2M650.6 1154.2V1162.3M652.6 1153.2V1162.9M656.6 1153.0V1162.1M662.6 1153.2V1162.5M663.6 1152.6V1163.4M665.6 1152.2V1163.6M667.6 1153.7V1163.5M669.6 1154.2V1164.0M673.6 1153.6V1164.0M674.6 1152.1V1163.6M685.6 1154.0V1162.4M687.6 1153.7V1161.8M689.6 1153.8V1163.4M690.6 1152.4V1163.4M691.6 1152.4V1162.2M692.6 1152.5V1163.9M694.6 1153.1V1163.6M700.6 1153.4V1162.2M703.6 1152.4V1164.0M704.6 1153.5V1162.4M712.6 1152.2V1164.0" stroke="#0404a8" stroke-width="1.1" fill="none"/>
<rect x="638.1" y="1154.3" width="78.6" height="7.4" fill="#0808de"/>
<path d="M719.2 1265.7V1274.3M720.2 1265.9V1273.7M721.2 1266.0V1275.5M725.2 1264.6V1275.1M728.2 1265.9V1274.7M729.2 1265.8V1275.6M730.2 1265.1V1274.6M732.2 1265.4V1274.4M737.2 1264.5V1275.7M739.2 1264.9V1274.1M745.2 1266.1V1274.7M746.2 1264.7V1274.3M748.2 1265.6V1275.7M749.2 1265.1V1275.5M752.2 1264.5V1275.7M758.2 1265.8V1274.8M764.2 1265.4V1274.1M766.2 1264.8V1274.8M767.2 1265.7V1275.1M768.2 1264.0V1276.0M771.2 1265.9V1275.6M773.2 1265.6V1275.2M774.2 1265.8V1274.9M776.2 1265.1V1274.4M788.2 1264.0V1274.1M789.2 1264.8V1274.0M791.2 1264.5V1275.0M792.2 1265.1V1275.3M793.2 1266.0V1274.6" stroke="#0404a8" stroke-width="1.1" fill="none"/>
<rect x="716.7" y="1266.3" width="80.4" height="7.4" fill="#0808de"/>
<path d="M798.6 1153.6V1162.8M801.6 1153.7V1163.0M805.6 1153.5V1163.8M811.6 1153.7V1162.6M813.6 1154.2V1163.9M816.6 1152.0V1163.3M818.6 1152.5V1162.8M819.6 1152.8V1161.9M821.6 1152.4V1162.8M822.6 1152.4V1161.9M824.6 1153.6V1161.8M825.6 1152.2V1163.6M828.6 1153.3V1162.7M837.6 1154.1V1161.8M839.6 1154.0V1163.5M842.6 1152.1V1162.3M843.6 1152.5V1162.3M848.6 1152.7V1162.5M849.6 1152.6V1164.0M856.6 1153.8V1163.3M858.6 1153.4V1163.9M859.6 1154.3V1161.8M864.6 1154.0V1163.8M871.6 1152.1V1162.8M872.6 1152.4V1162.0M873.6 1152.3V1163.3" stroke="#0404a8" stroke-width="1.1" fill="none"/>
<rect x="797.1" y="1154.3" width="79.3" height="7.4" fill="#0808de"/>
<path d="M878.9 1264.4V1275.7M889.9 1266.1V1276.0M890.9 1265.8V1274.4M896.9 1266.1V1275.2M905.9 1264.4V1274.4M906.9 1264.9V1275.0M908.9 1264.3V1275.3M909.9 1264.0V1274.3M910.9 1264.7V1275.1M911.9 1265.8V1274.6M913.9 1265.8V1273.7M915.9 1265.2V1274.8M916.9 1265.4V1275.0M919.9 1264.2V1274.7" stroke="#0404a8" stroke-width="1.1" fill="none"/>
<rect x="876.4" y="1266.3" width="43.8" height="7.4" fill="#0808de"/>
<path d="M238.2 1154.0V1279.5M398.4 1154.0V1279.5M556.7 1154.0V1279.5M716.7 1154.0V1279.5M876.4 1154.0V1279.5" stroke="#0808de" stroke-width="3.2" fill="none"/>
<path d="M317.1 1278.0V1151.0M477.2 1278.0V1151.0M638.1 1278.0V1151.0M797.1 1278.0V1151.0" stroke="#0808de" stroke-width="1.9" fill="none"/>
<polygon points="173.0,1260.3000000000002 185.4,1260.3000000000002 192.6,1267.9 185.4,1275.5 173.0,1275.5" fill="#7c88aa" stroke="#2a3ab4" stroke-width="1.2"/><text x="179.8" y="1272.5" font-size="13" fill="#2a3ab4" text-anchor="middle" font-family='"Liberation Serif","Noto Serif CJK SC",serif'>1</text>
<polygon points="173.0,1426.2 185.4,1426.2 192.6,1433.8 185.4,1441.3999999999999 173.0,1441.3999999999999" fill="#c693ca"/><text x="179.8" y="1438.4" font-size="13" fill="#a070a8" text-anchor="middle" font-family='"Liberation Serif","Noto Serif CJK SC",serif'>3</text>
<path d="M910.6 1247.8l6 -3.6v7.2zM916 1247.1h4.4v1.4h-4.4z" fill="#2030c0"/>
<path d="M551.1 1108.6h12v9l-3.5 4h-5l-3.5 -4z" fill="#f0a020"/><path d="M553.7 1111.2h6.8M557.1 1111.2v7.6" stroke="#fff" stroke-width="2" fill="none"/>
<rect x="715.4" y="1166.4" width="83.2" height="98.6" fill="none" stroke="#fff" stroke-width="1.7"/>
<rect x="736" y="1307.8" width="115.6" height="86" fill="none" stroke="#fff" stroke-width="1.7"/>
<text x="722.0" y="1216.8" font-size="32" fill="#000" textLength="62.5" lengthAdjust="spacingAndGlyphs" font-family='"Liberation Sans","Noto Sans CJK SC",sans-serif'>VSW</text>
<text x="747.5" y="1358.8" font-size="32" fill="#000" textLength="19.0" lengthAdjust="spacingAndGlyphs" font-family='"Liberation Sans","Noto Sans CJK SC",sans-serif'>IL</text>
<text x="229.2" y="1405.8" font-size="32" fill="#000" textLength="147.0" lengthAdjust="spacingAndGlyphs" font-family='"Liberation Sans","Noto Sans CJK SC",sans-serif'>IOUT=2.0A</text>
<rect x="290.5" y="1084.4" width="533" height="15.3" fill="#fff" stroke="#111" stroke-width="1.3"/>
<path d="M398 1091.8000000000002H717" stroke="#b060a8" stroke-width="1.1"/>
<path d="M544.2 1084.8000000000002h-3v14.5h3" stroke="#000" stroke-width="1.9" fill="none"/>
<path d="M570.7 1084.8000000000002h3v14.5h-3" stroke="#000" stroke-width="1.9" fill="none"/>
<path d="M552.9 1085.6000000000001h8l-4 4.2z" fill="#f0a020"/>
<rect x="553.2" y="1089.0" width="7.4" height="10" rx="2" fill="#f0a020"/>
<path d="M552.9 1098.4h8l-4 6.6z" fill="#f0a020"/>
<path d="M554.6 1091.2h4.6M556.9 1091.2v6.4" stroke="#fff" stroke-width="1.3" fill="none"/>
<text x="172.5" y="1097.0" font-size="16" fill="#000" font-weight="bold" textLength="29.5" lengthAdjust="spacingAndGlyphs" font-family='"Liberation Sans","Noto Sans CJK SC",sans-serif' stroke="#000" stroke-width="0.5">Tek</text>
<text x="206.5" y="1097.4" font-size="15.5" fill="#222" textLength="34.0" lengthAdjust="spacingAndGlyphs" font-family='"Liberation Sans","Noto Sans CJK SC",sans-serif'>停止</text>
<rect x="194.4" y="1439.2" width="311.0" height="36.5" rx="5" fill="#a8a8a8"/><rect x="193.5" y="1437.2" width="311.0" height="36.5" rx="5" fill="#fff" stroke="#222" stroke-width="1.1"/>
<rect x="197.7" y="1440.6" width="24.6" height="13.4" rx="6.7" fill="#0808de"/><text x="210.0" y="1452.3" font-size="14" fill="#fff" text-anchor="middle" font-family='"Liberation Sans","Noto Sans CJK SC",sans-serif'>1</text>
<rect x="200.6" y="1441.4" width="2" height="11.8" fill="#fff"/>
<rect x="197.7" y="1458.6" width="24.6" height="13.4" rx="6.7" fill="#a010a8"/><text x="210.0" y="1470.3" font-size="14" fill="#fff" text-anchor="middle" font-family='"Liberation Sans","Noto Sans CJK SC",sans-serif'>3</text>
<text x="238.4" y="1452.6" font-size="14.5" fill="#4c56a8" textLength="40.0" lengthAdjust="spacingAndGlyphs" font-family='"Liberation Sans","Noto Sans CJK SC",sans-serif'>5.00 V</text>
<text x="238.4" y="1470.2" font-size="14.5" fill="#a044a4" textLength="39.0" lengthAdjust="spacingAndGlyphs" font-family='"Liberation Sans","Noto Sans CJK SC",sans-serif'>1.00 A</text>
<rect x="508.1" y="1439.4" width="328.6" height="36.0" rx="5" fill="#a8a8a8"/><rect x="507.2" y="1437.4" width="328.6" height="36.0" rx="5" fill="#fff" stroke="#222" stroke-width="1.1"/>
<path d="M505.9 1443v10" stroke="#444" stroke-width="1"/>
<text x="511.3" y="1451.8" font-size="14.5" fill="#222" textLength="41.0" lengthAdjust="spacingAndGlyphs" font-family='"Liberation Sans","Noto Sans CJK SC",sans-serif'>4.00μs</text>
<text x="642.5" y="1451.8" font-size="14.5" fill="#222" textLength="77.0" lengthAdjust="spacingAndGlyphs" font-family='"Liberation Sans","Noto Sans CJK SC",sans-serif'>2.50G次/秒</text>
<rect x="751.6" y="1440.8" width="23.8" height="13.2" rx="6.6" fill="#0808de"/><text x="763.5" y="1452.3" font-size="14" fill="#fff" text-anchor="middle" font-family='"Liberation Sans","Noto Sans CJK SC",sans-serif'>1</text>
<path d="M784 1442.6l9.5 10.4" stroke="#222" stroke-width="1.2"/>
<rect x="511.4" y="1459.6" width="9.2" height="11" rx="1.5" fill="#f0a020"/>
<path d="M513.3 1462h5.4M516 1462v7" stroke="#fff" stroke-width="1.5" fill="none"/>
<path d="M521.4 1465.2h6.2m-2.6 -2.4l2.6 2.4l-2.6 2.4" stroke="#f0a020" stroke-width="1.3" fill="none"/>
<path d="M529.4 1462.2h8l-4 5.8z" fill="#f0a020"/>
<text x="538.4" y="1470.0" font-size="14.5" fill="#e8b64c" textLength="74.3" lengthAdjust="spacingAndGlyphs" font-family='"Liberation Sans","Noto Sans CJK SC",sans-serif'>0.000000 s</text>
<text x="643.0" y="1470.0" font-size="14.5" fill="#222" textLength="38.3" lengthAdjust="spacingAndGlyphs" font-family='"Liberation Sans","Noto Sans CJK SC",sans-serif'>1M 点</text>
<text x="757.8" y="1470.0" font-size="14.5" fill="#222" textLength="39.0" lengthAdjust="spacingAndGlyphs" font-family='"Liberation Sans","Noto Sans CJK SC",sans-serif'>2.10 V</text>
<rect x="194.4" y="1477.8" width="642.3" height="70.8" rx="5" fill="#a8a8a8"/><rect x="193.5" y="1475.8" width="642.3" height="70.8" rx="5" fill="#fff" stroke="#222" stroke-width="1.1"/>
<text x="330.7" y="1491.0" font-size="15.6" fill="#111" textLength="14.8" lengthAdjust="spacingAndGlyphs" font-family='"Liberation Sans","Noto Sans CJK SC",sans-serif'>值</text>
<text x="421.4" y="1491.0" font-size="15.6" fill="#111" textLength="50.5" lengthAdjust="spacingAndGlyphs" font-family='"Liberation Sans","Noto Sans CJK SC",sans-serif'>平均值</text>
<text x="524.9" y="1491.0" font-size="15.6" fill="#111" textLength="50.2" lengthAdjust="spacingAndGlyphs" font-family='"Liberation Sans","Noto Sans CJK SC",sans-serif'>最小值</text>
<text x="627.5" y="1491.0" font-size="15.6" fill="#111" textLength="50.2" lengthAdjust="spacingAndGlyphs" font-family='"Liberation Sans","Noto Sans CJK SC",sans-serif'>最大值</text>
<text x="730.0" y="1491.0" font-size="15.6" fill="#111" textLength="50.5" lengthAdjust="spacingAndGlyphs" font-family='"Liberation Sans","Noto Sans CJK SC",sans-serif'>标准差</text>
<rect x="197.7" y="1496.5" width="24.4" height="13.2" rx="6.6" fill="#0808de"/><text x="209.9" y="1508.0" font-size="14" fill="#fff" text-anchor="middle" font-family='"Liberation Sans","Noto Sans CJK SC",sans-serif'>1</text>
<text x="226.8" y="1508.6" font-size="15.6" fill="#4c56a8" textLength="33.2" lengthAdjust="spacingAndGlyphs" font-family='"Liberation Sans","Noto Sans CJK SC",sans-serif'>最大</text>
<text x="330.2" y="1508.2" font-size="14.5" fill="#4c56a8" textLength="39.0" lengthAdjust="spacingAndGlyphs" font-family='"Liberation Sans","Noto Sans CJK SC",sans-serif'>12.0 V</text>
<text x="421.8" y="1508.2" font-size="14.5" fill="#4c56a8" textLength="26.0" lengthAdjust="spacingAndGlyphs" font-family='"Liberation Sans","Noto Sans CJK SC",sans-serif'>12.1</text>
<text x="524.8" y="1508.2" font-size="14.5" fill="#4c56a8" textLength="26.0" lengthAdjust="spacingAndGlyphs" font-family='"Liberation Sans","Noto Sans CJK SC",sans-serif'>12.0</text>
<text x="627.5" y="1508.2" font-size="14.5" fill="#4c56a8" textLength="26.8" lengthAdjust="spacingAndGlyphs" font-family='"Liberation Sans","Noto Sans CJK SC",sans-serif'>12.2</text>
<text x="730.0" y="1508.2" font-size="14.5" fill="#4c56a8" textLength="31.0" lengthAdjust="spacingAndGlyphs" font-family='"Liberation Sans","Noto Sans CJK SC",sans-serif'>101m</text>
<rect x="197.7" y="1513.8" width="24.4" height="13.2" rx="6.6" fill="#a010a8"/><text x="209.9" y="1525.3" font-size="14" fill="#fff" text-anchor="middle" font-family='"Liberation Sans","Noto Sans CJK SC",sans-serif'>3</text>
<text x="226.8" y="1525.9" font-size="15.6" fill="#a044a4" textLength="33.2" lengthAdjust="spacingAndGlyphs" font-family='"Liberation Sans","Noto Sans CJK SC",sans-serif'>平均</text>
<text x="330.2" y="1525.5" font-size="14.5" fill="#a044a4" textLength="39.0" lengthAdjust="spacingAndGlyphs" font-family='"Liberation Sans","Noto Sans CJK SC",sans-serif'>2.52 A</text>
<text x="421.8" y="1525.5" font-size="14.5" fill="#a044a4" textLength="26.5" lengthAdjust="spacingAndGlyphs" font-family='"Liberation Sans","Noto Sans CJK SC",sans-serif'>2.52</text>
<text x="524.8" y="1525.5" font-size="14.5" fill="#a044a4" textLength="26.5" lengthAdjust="spacingAndGlyphs" font-family='"Liberation Sans","Noto Sans CJK SC",sans-serif'>2.51</text>
<text x="627.5" y="1525.5" font-size="14.5" fill="#a044a4" textLength="26.5" lengthAdjust="spacingAndGlyphs" font-family='"Liberation Sans","Noto Sans CJK SC",sans-serif'>2.52</text>
<text x="730.0" y="1525.5" font-size="14.5" fill="#a044a4" textLength="36.9" lengthAdjust="spacingAndGlyphs" font-family='"Liberation Sans","Noto Sans CJK SC",sans-serif'>2.26m</text>
<rect x="197.7" y="1531.1" width="24.4" height="13.2" rx="6.6" fill="#a010a8"/><text x="209.9" y="1542.6" font-size="14" fill="#fff" text-anchor="middle" font-family='"Liberation Sans","Noto Sans CJK SC",sans-serif'>3</text>
<text x="226.8" y="1543.2" font-size="15.6" fill="#a044a4" textLength="42.0" lengthAdjust="spacingAndGlyphs" font-family='"Liberation Sans","Noto Sans CJK SC",sans-serif'>峰-峰</text>
<text x="330.2" y="1542.8" font-size="14.5" fill="#a044a4" textLength="40.7" lengthAdjust="spacingAndGlyphs" font-family='"Liberation Sans","Noto Sans CJK SC",sans-serif'>920mA</text>
<text x="421.8" y="1542.8" font-size="14.5" fill="#a044a4" textLength="32.5" lengthAdjust="spacingAndGlyphs" font-family='"Liberation Sans","Noto Sans CJK SC",sans-serif'>900m</text>
<text x="524.8" y="1542.8" font-size="14.5" fill="#a044a4" textLength="32.0" lengthAdjust="spacingAndGlyphs" font-family='"Liberation Sans","Noto Sans CJK SC",sans-serif'>880m</text>
<text x="627.5" y="1542.8" font-size="14.5" fill="#a044a4" textLength="32.5" lengthAdjust="spacingAndGlyphs" font-family='"Liberation Sans","Noto Sans CJK SC",sans-serif'>920m</text>
<text x="730.0" y="1542.8" font-size="14.5" fill="#a044a4" textLength="36.9" lengthAdjust="spacingAndGlyphs" font-family='"Liberation Sans","Noto Sans CJK SC",sans-serif'>21.1m</text>
<rect x="839.5" y="1493.7" width="106.5" height="37.0" rx="5" fill="#a8a8a8"/><rect x="838.6" y="1491.7" width="106.5" height="37.0" rx="5" fill="#fff" stroke="#222" stroke-width="1.1"/>
<text x="863.5" y="1507.5" font-size="13.5" fill="#222" textLength="78.0" lengthAdjust="spacingAndGlyphs" font-family='"Liberation Sans","Noto Sans CJK SC",sans-serif'>10 4月 2018</text>
<text x="863.5" y="1524.3" font-size="13.5" fill="#222" textLength="53.0" lengthAdjust="spacingAndGlyphs" font-family='"Liberation Sans","Noto Sans CJK SC",sans-serif'>17:14:13</text>
</svg></figure>
<figure class="fig"><svg class="scope" width="790" height="480" viewBox="165 1681 790 480" style="position:absolute;left:165px;top:1681px">
<rect x="172.6" y="1686" width="775.5" height="466" fill="#fff"/>
<path d="M207.5 1752.6h1.3M222.1 1752.6h1.3M236.6 1752.6h1.3M251.1 1752.6h1.3M265.7 1752.6h1.3M280.2 1752.6h1.3M294.7 1752.6h1.3M309.3 1752.6h1.3M323.8 1752.6h1.3M338.3 1752.6h1.3M352.9 1752.6h1.3M367.4 1752.6h1.3M381.9 1752.6h1.3M396.4 1752.6h1.3M411.0 1752.6h1.3M425.5 1752.6h1.3M440.0 1752.6h1.3M454.6 1752.6h1.3M469.1 1752.6h1.3M483.6 1752.6h1.3M498.2 1752.6h1.3M512.7 1752.6h1.3M527.2 1752.6h1.3M541.8 1752.6h1.3M556.3 1752.6h1.3M570.8 1752.6h1.3M585.4 1752.6h1.3M599.9 1752.6h1.3M614.4 1752.6h1.3M629.0 1752.6h1.3M643.5 1752.6h1.3M658.0 1752.6h1.3M672.6 1752.6h1.3M687.1 1752.6h1.3M701.6 1752.6h1.3M716.2 1752.6h1.3M730.7 1752.6h1.3M745.2 1752.6h1.3M759.7 1752.6h1.3M774.3 1752.6h1.3M788.8 1752.6h1.3M803.3 1752.6h1.3M817.9 1752.6h1.3M832.4 1752.6h1.3M846.9 1752.6h1.3M861.5 1752.6h1.3M876.0 1752.6h1.3M890.5 1752.6h1.3M905.1 1752.6h1.3M207.5 1801.0h1.3M222.1 1801.0h1.3M236.6 1801.0h1.3M251.1 1801.0h1.3M265.7 1801.0h1.3M280.2 1801.0h1.3M294.7 1801.0h1.3M309.3 1801.0h1.3M323.8 1801.0h1.3M338.3 1801.0h1.3M352.9 1801.0h1.3M367.4 1801.0h1.3M381.9 1801.0h1.3M396.4 1801.0h1.3M411.0 1801.0h1.3M425.5 1801.0h1.3M440.0 1801.0h1.3M454.6 1801.0h1.3M469.1 1801.0h1.3M483.6 1801.0h1.3M498.2 1801.0h1.3M512.7 1801.0h1.3M527.2 1801.0h1.3M541.8 1801.0h1.3M556.3 1801.0h1.3M570.8 1801.0h1.3M585.4 1801.0h1.3M599.9 1801.0h1.3M614.4 1801.0h1.3M629.0 1801.0h1.3M643.5 1801.0h1.3M658.0 1801.0h1.3M672.6 1801.0h1.3M687.1 1801.0h1.3M701.6 1801.0h1.3M716.2 1801.0h1.3M730.7 1801.0h1.3M745.2 1801.0h1.3M759.7 1801.0h1.3M774.3 1801.0h1.3M788.8 1801.0h1.3M803.3 1801.0h1.3M817.9 1801.0h1.3M832.4 1801.0h1.3M846.9 1801.0h1.3M861.5 1801.0h1.3M876.0 1801.0h1.3M890.5 1801.0h1.3M905.1 1801.0h1.3M207.5 1849.4h1.3M222.1 1849.4h1.3M236.6 1849.4h1.3M251.1 1849.4h1.3M265.7 1849.4h1.3M280.2 1849.4h1.3M294.7 1849.4h1.3M309.3 1849.4h1.3M323.8 1849.4h1.3M338.3 1849.4h1.3M352.9 1849.4h1.3M367.4 1849.4h1.3M381.9 1849.4h1.3M396.4 1849.4h1.3M411.0 1849.4h1.3M425.5 1849.4h1.3M440.0 1849.4h1.3M454.6 1849.4h1.3M469.1 1849.4h1.3M483.6 1849.4h1.3M498.2 1849.4h1.3M512.7 1849.4h1.3M527.2 1849.4h1.3M541.8 1849.4h1.3M556.3 1849.4h1.3M570.8 1849.4h1.3M585.4 1849.4h1.3M599.9 1849.4h1.3M614.4 1849.4h1.3M629.0 1849.4h1.3M643.5 1849.4h1.3M658.0 1849.4h1.3M672.6 1849.4h1.3M687.1 1849.4h1.3M701.6 1849.4h1.3M716.2 1849.4h1.3M730.7 1849.4h1.3M745.2 1849.4h1.3M759.7 1849.4h1.3M774.3 1849.4h1.3M788.8 1849.4h1.3M803.3 1849.4h1.3M817.9 1849.4h1.3M832.4 1849.4h1.3M846.9 1849.4h1.3M861.5 1849.4h1.3M876.0 1849.4h1.3M890.5 1849.4h1.3M905.1 1849.4h1.3M207.5 1946.2h1.3M222.1 1946.2h1.3M236.6 1946.2h1.3M251.1 1946.2h1.3M265.7 1946.2h1.3M280.2 1946.2h1.3M294.7 1946.2h1.3M309.3 1946.2h1.3M323.8 1946.2h1.3M338.3 1946.2h1.3M352.9 1946.2h1.3M367.4 1946.2h1.3M381.9 1946.2h1.3M396.4 1946.2h1.3M411.0 1946.2h1.3M425.5 1946.2h1.3M440.0 1946.2h1.3M454.6 1946.2h1.3M469.1 1946.2h1.3M483.6 1946.2h1.3M498.2 1946.2h1.3M512.7 1946.2h1.3M527.2 1946.2h1.3M541.8 1946.2h1.3M556.3 1946.2h1.3M570.8 1946.2h1.3M585.4 1946.2h1.3M599.9 1946.2h1.3M614.4 1946.2h1.3M629.0 1946.2h1.3M643.5 1946.2h1.3M658.0 1946.2h1.3M672.6 1946.2h1.3M687.1 1946.2h1.3M701.6 1946.2h1.3M716.2 1946.2h1.3M730.7 1946.2h1.3M745.2 1946.2h1.3M759.7 1946.2h1.3M774.3 1946.2h1.3M788.8 1946.2h1.3M803.3 1946.2h1.3M817.9 1946.2h1.3M832.4 1946.2h1.3M846.9 1946.2h1.3M861.5 1946.2h1.3M876.0 1946.2h1.3M890.5 1946.2h1.3M905.1 1946.2h1.3M207.5 1994.6h1.3M222.1 1994.6h1.3M236.6 1994.6h1.3M251.1 1994.6h1.3M265.7 1994.6h1.3M280.2 1994.6h1.3M294.7 1994.6h1.3M309.3 1994.6h1.3M323.8 1994.6h1.3M338.3 1994.6h1.3M352.9 1994.6h1.3M367.4 1994.6h1.3M381.9 1994.6h1.3M396.4 1994.6h1.3M411.0 1994.6h1.3M425.5 1994.6h1.3M440.0 1994.6h1.3M454.6 1994.6h1.3M469.1 1994.6h1.3M483.6 1994.6h1.3M498.2 1994.6h1.3M512.7 1994.6h1.3M527.2 1994.6h1.3M541.8 1994.6h1.3M556.3 1994.6h1.3M570.8 1994.6h1.3M585.4 1994.6h1.3M599.9 1994.6h1.3M614.4 1994.6h1.3M629.0 1994.6h1.3M643.5 1994.6h1.3M658.0 1994.6h1.3M672.6 1994.6h1.3M687.1 1994.6h1.3M701.6 1994.6h1.3M716.2 1994.6h1.3M730.7 1994.6h1.3M745.2 1994.6h1.3M759.7 1994.6h1.3M774.3 1994.6h1.3M788.8 1994.6h1.3M803.3 1994.6h1.3M817.9 1994.6h1.3M832.4 1994.6h1.3M846.9 1994.6h1.3M861.5 1994.6h1.3M876.0 1994.6h1.3M890.5 1994.6h1.3M905.1 1994.6h1.3M207.5 2043.0h1.3M222.1 2043.0h1.3M236.6 2043.0h1.3M251.1 2043.0h1.3M265.7 2043.0h1.3M280.2 2043.0h1.3M294.7 2043.0h1.3M309.3 2043.0h1.3M323.8 2043.0h1.3M338.3 2043.0h1.3M352.9 2043.0h1.3M367.4 2043.0h1.3M381.9 2043.0h1.3M396.4 2043.0h1.3M411.0 2043.0h1.3M425.5 2043.0h1.3M440.0 2043.0h1.3M454.6 2043.0h1.3M469.1 2043.0h1.3M483.6 2043.0h1.3M498.2 2043.0h1.3M512.7 2043.0h1.3M527.2 2043.0h1.3M541.8 2043.0h1.3M556.3 2043.0h1.3M570.8 2043.0h1.3M585.4 2043.0h1.3M599.9 2043.0h1.3M614.4 2043.0h1.3M629.0 2043.0h1.3M643.5 2043.0h1.3M658.0 2043.0h1.3M672.6 2043.0h1.3M687.1 2043.0h1.3M701.6 2043.0h1.3M716.2 2043.0h1.3M730.7 2043.0h1.3M745.2 2043.0h1.3M759.7 2043.0h1.3M774.3 2043.0h1.3M788.8 2043.0h1.3M803.3 2043.0h1.3M817.9 2043.0h1.3M832.4 2043.0h1.3M846.9 2043.0h1.3M861.5 2043.0h1.3M876.0 2043.0h1.3M890.5 2043.0h1.3M905.1 2043.0h1.3M266.3 1713.3v1.3M266.3 1723.0v1.3M266.3 1732.6v1.3M266.3 1742.3v1.3M266.3 1752.0v1.3M266.3 1761.7v1.3M266.3 1771.4v1.3M266.3 1781.0v1.3M266.3 1790.7v1.3M266.3 1800.4v1.3M266.3 1810.1v1.3M266.3 1819.8v1.3M266.3 1829.4v1.3M266.3 1839.1v1.3M266.3 1848.8v1.3M266.3 1858.5v1.3M266.3 1868.2v1.3M266.3 1877.8v1.3M266.3 1887.5v1.3M266.3 1897.2v1.3M266.3 1906.9v1.3M266.3 1916.6v1.3M266.3 1926.2v1.3M266.3 1935.9v1.3M266.3 1945.6v1.3M266.3 1955.3v1.3M266.3 1965.0v1.3M266.3 1974.6v1.3M266.3 1984.3v1.3M266.3 1994.0v1.3M266.3 2003.7v1.3M266.3 2013.4v1.3M266.3 2023.0v1.3M266.3 2032.7v1.3M266.3 2042.4v1.3M266.3 2052.1v1.3M266.3 2061.8v1.3M266.3 2071.4v1.3M266.3 2081.1v1.3M338.9 1713.3v1.3M338.9 1723.0v1.3M338.9 1732.6v1.3M338.9 1742.3v1.3M338.9 1752.0v1.3M338.9 1761.7v1.3M338.9 1771.4v1.3M338.9 1781.0v1.3M338.9 1790.7v1.3M338.9 1800.4v1.3M338.9 1810.1v1.3M338.9 1819.8v1.3M338.9 1829.4v1.3M338.9 1839.1v1.3M338.9 1848.8v1.3M338.9 1858.5v1.3M338.9 1868.2v1.3M338.9 1877.8v1.3M338.9 1887.5v1.3M338.9 1897.2v1.3M338.9 1906.9v1.3M338.9 1916.6v1.3M338.9 1926.2v1.3M338.9 1935.9v1.3M338.9 1945.6v1.3M338.9 1955.3v1.3M338.9 1965.0v1.3M338.9 1974.6v1.3M338.9 1984.3v1.3M338.9 1994.0v1.3M338.9 2003.7v1.3M338.9 2013.4v1.3M338.9 2023.0v1.3M338.9 2032.7v1.3M338.9 2042.4v1.3M338.9 2052.1v1.3M338.9 2061.8v1.3M338.9 2071.4v1.3M338.9 2081.1v1.3M411.6 1713.3v1.3M411.6 1723.0v1.3M411.6 1732.6v1.3M411.6 1742.3v1.3M411.6 1752.0v1.3M411.6 1761.7v1.3M411.6 1771.4v1.3M411.6 1781.0v1.3M411.6 1790.7v1.3M411.6 1800.4v1.3M411.6 1810.1v1.3M411.6 1819.8v1.3M411.6 1829.4v1.3M411.6 1839.1v1.3M411.6 1848.8v1.3M411.6 1858.5v1.3M411.6 1868.2v1.3M411.6 1877.8v1.3M411.6 1887.5v1.3M411.6 1897.2v1.3M411.6 1906.9v1.3M411.6 1916.6v1.3M411.6 1926.2v1.3M411.6 1935.9v1.3M411.6 1945.6v1.3M411.6 1955.3v1.3M411.6 1965.0v1.3M411.6 1974.6v1.3M411.6 1984.3v1.3M411.6 1994.0v1.3M411.6 2003.7v1.3M411.6 2013.4v1.3M411.6 2023.0v1.3M411.6 2032.7v1.3M411.6 2042.4v1.3M411.6 2052.1v1.3M411.6 2061.8v1.3M411.6 2071.4v1.3M411.6 2081.1v1.3M484.2 1713.3v1.3M484.2 1723.0v1.3M484.2 1732.6v1.3M484.2 1742.3v1.3M484.2 1752.0v1.3M484.2 1761.7v1.3M484.2 1771.4v1.3M484.2 1781.0v1.3M484.2 1790.7v1.3M484.2 1800.4v1.3M484.2 1810.1v1.3M484.2 1819.8v1.3M484.2 1829.4v1.3M484.2 1839.1v1.3M484.2 1848.8v1.3M484.2 1858.5v1.3M484.2 1868.2v1.3M484.2 1877.8v1.3M484.2 1887.5v1.3M484.2 1897.2v1.3M484.2 1906.9v1.3M484.2 1916.6v1.3M484.2 1926.2v1.3M484.2 1935.9v1.3M484.2 1945.6v1.3M484.2 1955.3v1.3M484.2 1965.0v1.3M484.2 1974.6v1.3M484.2 1984.3v1.3M484.2 1994.0v1.3M484.2 2003.7v1.3M484.2 2013.4v1.3M484.2 2023.0v1.3M484.2 2032.7v1.3M484.2 2042.4v1.3M484.2 2052.1v1.3M484.2 2061.8v1.3M484.2 2071.4v1.3M484.2 2081.1v1.3M629.6 1713.3v1.3M629.6 1723.0v1.3M629.6 1732.6v1.3M629.6 1742.3v1.3M629.6 1752.0v1.3M629.6 1761.7v1.3M629.6 1771.4v1.3M629.6 1781.0v1.3M629.6 1790.7v1.3M629.6 1800.4v1.3M629.6 1810.1v1.3M629.6 1819.8v1.3M629.6 1829.4v1.3M629.6 1839.1v1.3M629.6 1848.8v1.3M629.6 1858.5v1.3M629.6 1868.2v1.3M629.6 1877.8v1.3M629.6 1887.5v1.3M629.6 1897.2v1.3M629.6 1906.9v1.3M629.6 1916.6v1.3M629.6 1926.2v1.3M629.6 1935.9v1.3M629.6 1945.6v1.3M629.6 1955.3v1.3M629.6 1965.0v1.3M629.6 1974.6v1.3M629.6 1984.3v1.3M629.6 1994.0v1.3M629.6 2003.7v1.3M629.6 2013.4v1.3M629.6 2023.0v1.3M629.6 2032.7v1.3M629.6 2042.4v1.3M629.6 2052.1v1.3M629.6 2061.8v1.3M629.6 2071.4v1.3M629.6 2081.1v1.3M702.2 1713.3v1.3M702.2 1723.0v1.3M702.2 1732.6v1.3M702.2 1742.3v1.3M702.2 1752.0v1.3M702.2 1761.7v1.3M702.2 1771.4v1.3M702.2 1781.0v1.3M702.2 1790.7v1.3M702.2 1800.4v1.3M702.2 1810.1v1.3M702.2 1819.8v1.3M702.2 1829.4v1.3M702.2 1839.1v1.3M702.2 1848.8v1.3M702.2 1858.5v1.3M702.2 1868.2v1.3M702.2 1877.8v1.3M702.2 1887.5v1.3M702.2 1897.2v1.3M702.2 1906.9v1.3M702.2 1916.6v1.3M702.2 1926.2v1.3M702.2 1935.9v1.3M702.2 1945.6v1.3M702.2 1955.3v1.3M702.2 1965.0v1.3M702.2 1974.6v1.3M702.2 1984.3v1.3M702.2 1994.0v1.3M702.2 2003.7v1.3M702.2 2013.4v1.3M702.2 2023.0v1.3M702.2 2032.7v1.3M702.2 2042.4v1.3M702.2 2052.1v1.3M702.2 2061.8v1.3M702.2 2071.4v1.3M702.2 2081.1v1.3M774.9 1713.3v1.3M774.9 1723.0v1.3M774.9 1732.6v1.3M774.9 1742.3v1.3M774.9 1752.0v1.3M774.9 1761.7v1.3M774.9 1771.4v1.3M774.9 1781.0v1.3M774.9 1790.7v1.3M774.9 1800.4v1.3M774.9 1810.1v1.3M774.9 1819.8v1.3M774.9 1829.4v1.3M774.9 1839.1v1.3M774.9 1848.8v1.3M774.9 1858.5v1.3M774.9 1868.2v1.3M774.9 1877.8v1.3M774.9 1887.5v1.3M774.9 1897.2v1.3M774.9 1906.9v1.3M774.9 1916.6v1.3M774.9 1926.2v1.3M774.9 1935.9v1.3M774.9 1945.6v1.3M774.9 1955.3v1.3M774.9 1965.0v1.3M774.9 1974.6v1.3M774.9 1984.3v1.3M774.9 1994.0v1.3M774.9 2003.7v1.3M774.9 2013.4v1.3M774.9 2023.0v1.3M774.9 2032.7v1.3M774.9 2042.4v1.3M774.9 2052.1v1.3M774.9 2061.8v1.3M774.9 2071.4v1.3M774.9 2081.1v1.3M847.5 1713.3v1.3M847.5 1723.0v1.3M847.5 1732.6v1.3M847.5 1742.3v1.3M847.5 1752.0v1.3M847.5 1761.7v1.3M847.5 1771.4v1.3M847.5 1781.0v1.3M847.5 1790.7v1.3M847.5 1800.4v1.3M847.5 1810.1v1.3M847.5 1819.8v1.3M847.5 1829.4v1.3M847.5 1839.1v1.3M847.5 1848.8v1.3M847.5 1858.5v1.3M847.5 1868.2v1.3M847.5 1877.8v1.3M847.5 1887.5v1.3M847.5 1897.2v1.3M847.5 1906.9v1.3M847.5 1916.6v1.3M847.5 1926.2v1.3M847.5 1935.9v1.3M847.5 1945.6v1.3M847.5 1955.3v1.3M847.5 1965.0v1.3M847.5 1974.6v1.3M847.5 1984.3v1.3M847.5 1994.0v1.3M847.5 2003.7v1.3M847.5 2013.4v1.3M847.5 2023.0v1.3M847.5 2032.7v1.3M847.5 2042.4v1.3M847.5 2052.1v1.3M847.5 2061.8v1.3M847.5 2071.4v1.3M847.5 2081.1v1.3" stroke="#3c3c3c" stroke-width="1.15" fill="none"/>
<path d="M208.1 1702.8v2.8M208.1 1895.2v5.2M222.7 1702.8v2.8M222.7 1895.2v5.2M237.2 1702.8v2.8M237.2 1895.2v5.2M251.7 1702.8v2.8M251.7 1895.2v5.2M266.3 1702.8v4.5M266.3 1895.2v5.2M280.8 1702.8v2.8M280.8 1895.2v5.2M295.3 1702.8v2.8M295.3 1895.2v5.2M309.9 1702.8v2.8M309.9 1895.2v5.2M324.4 1702.8v2.8M324.4 1895.2v5.2M338.9 1702.8v4.5M338.9 1895.2v5.2M353.5 1702.8v2.8M353.5 1895.2v5.2M368.0 1702.8v2.8M368.0 1895.2v5.2M382.5 1702.8v2.8M382.5 1895.2v5.2M397.0 1702.8v2.8M397.0 1895.2v5.2M411.6 1702.8v4.5M411.6 1895.2v5.2M426.1 1702.8v2.8M426.1 1895.2v5.2M440.6 1702.8v2.8M440.6 1895.2v5.2M455.2 1702.8v2.8M455.2 1895.2v5.2M469.7 1702.8v2.8M469.7 1895.2v5.2M484.2 1702.8v4.5M484.2 1895.2v5.2M498.8 1702.8v2.8M498.8 1895.2v5.2M513.3 1702.8v2.8M513.3 1895.2v5.2M527.8 1702.8v2.8M527.8 1895.2v5.2M542.4 1702.8v2.8M542.4 1895.2v5.2M556.9 1702.8v4.5M556.9 1895.2v5.2M571.4 1702.8v2.8M571.4 1895.2v5.2M586.0 1702.8v2.8M586.0 1895.2v5.2M600.5 1702.8v2.8M600.5 1895.2v5.2M615.0 1702.8v2.8M615.0 1895.2v5.2M629.6 1702.8v4.5M629.6 1895.2v5.2M644.1 1702.8v2.8M644.1 1895.2v5.2M658.6 1702.8v2.8M658.6 1895.2v5.2M673.2 1702.8v2.8M673.2 1895.2v5.2M687.7 1702.8v2.8M687.7 1895.2v5.2M702.2 1702.8v4.5M702.2 1895.2v5.2M716.8 1702.8v2.8M716.8 1895.2v5.2M731.3 1702.8v2.8M731.3 1895.2v5.2M745.8 1702.8v2.8M745.8 1895.2v5.2M760.3 1702.8v2.8M760.3 1895.2v5.2M774.9 1702.8v4.5M774.9 1895.2v5.2M789.4 1702.8v2.8M789.4 1895.2v5.2M803.9 1702.8v2.8M803.9 1895.2v5.2M818.5 1702.8v2.8M818.5 1895.2v5.2M833.0 1702.8v2.8M833.0 1895.2v5.2M847.5 1702.8v4.5M847.5 1895.2v5.2M862.1 1702.8v2.8M862.1 1895.2v5.2M876.6 1702.8v2.8M876.6 1895.2v5.2M891.1 1702.8v2.8M891.1 1895.2v5.2M905.7 1702.8v2.8M905.7 1895.2v5.2M193.6 1713.9h3.4M920.2 1713.9h-3.4M553.7 1713.9h6.4M193.6 1723.6h3.4M920.2 1723.6h-3.4M553.7 1723.6h6.4M193.6 1733.2h3.4M920.2 1733.2h-3.4M553.7 1733.2h6.4M193.6 1742.9h3.4M920.2 1742.9h-3.4M553.7 1742.9h6.4M193.6 1752.6h5M920.2 1752.6h-5M553.7 1752.6h6.4M193.6 1762.3h3.4M920.2 1762.3h-3.4M553.7 1762.3h6.4M193.6 1772.0h3.4M920.2 1772.0h-3.4M553.7 1772.0h6.4M193.6 1781.6h3.4M920.2 1781.6h-3.4M553.7 1781.6h6.4M193.6 1791.3h3.4M920.2 1791.3h-3.4M553.7 1791.3h6.4M193.6 1801.0h5M920.2 1801.0h-5M553.7 1801.0h6.4M193.6 1810.7h3.4M920.2 1810.7h-3.4M553.7 1810.7h6.4M193.6 1820.4h3.4M920.2 1820.4h-3.4M553.7 1820.4h6.4M193.6 1830.0h3.4M920.2 1830.0h-3.4M553.7 1830.0h6.4M193.6 1839.7h3.4M920.2 1839.7h-3.4M553.7 1839.7h6.4M193.6 1849.4h5M920.2 1849.4h-5M553.7 1849.4h6.4M193.6 1859.1h3.4M920.2 1859.1h-3.4M553.7 1859.1h6.4M193.6 1868.8h3.4M920.2 1868.8h-3.4M553.7 1868.8h6.4M193.6 1878.4h3.4M920.2 1878.4h-3.4M553.7 1878.4h6.4M193.6 1888.1h3.4M920.2 1888.1h-3.4M553.7 1888.1h6.4M193.6 1897.8h5M920.2 1897.8h-5M553.7 1897.8h6.4M193.6 1907.5h3.4M920.2 1907.5h-3.4M553.7 1907.5h6.4M193.6 1917.2h3.4M920.2 1917.2h-3.4M553.7 1917.2h6.4M193.6 1926.8h3.4M920.2 1926.8h-3.4M553.7 1926.8h6.4M193.6 1936.5h3.4M920.2 1936.5h-3.4M553.7 1936.5h6.4M193.6 1946.2h5M920.2 1946.2h-5M553.7 1946.2h6.4M193.6 1955.9h3.4M920.2 1955.9h-3.4M553.7 1955.9h6.4M193.6 1965.6h3.4M920.2 1965.6h-3.4M553.7 1965.6h6.4M193.6 1975.2h3.4M920.2 1975.2h-3.4M553.7 1975.2h6.4M193.6 1984.9h3.4M920.2 1984.9h-3.4M553.7 1984.9h6.4M193.6 1994.6h5M920.2 1994.6h-5M553.7 1994.6h6.4M193.6 2004.3h3.4M920.2 2004.3h-3.4M553.7 2004.3h6.4M193.6 2014.0h3.4M920.2 2014.0h-3.4M553.7 2014.0h6.4M193.6 2023.6h3.4M920.2 2023.6h-3.4M553.7 2023.6h6.4M193.6 2033.3h3.4M920.2 2033.3h-3.4M553.7 2033.3h6.4M193.6 2043.0h5M920.2 2043.0h-5M553.7 2043.0h6.4M193.6 2052.7h3.4M920.2 2052.7h-3.4M553.7 2052.7h6.4M193.6 2062.4h3.4M920.2 2062.4h-3.4M553.7 2062.4h6.4M193.6 2072.0h3.4M920.2 2072.0h-3.4M553.7 2072.0h6.4M193.6 2081.7h3.4M920.2 2081.7h-3.4M553.7 2081.7h6.4" stroke="#2a2a2a" stroke-width="1" fill="none"/>
<path d="M193.6 1897.8H920.2M556.9 1702.8V2092.4" stroke="#3a3a3a" stroke-width="1.15" fill="none"/>
<rect x="193.6" y="1702.8" width="726.6" height="389.6" fill="none" stroke="#2a2a2a" stroke-width="1.3"/>
<path d="M835.2 2092.2H920.8000000000001" stroke="#000" stroke-width="2.8" fill="none"/>
<path d="M194.1 1977.4V1989.2M195.1 1976.3V1988.5M196.1 1977.0V1988.4M197.1 1977.3V1988.8M198.1 1976.3V1988.6M201.1 1977.0V1989.2M204.1 1977.5V1988.3M209.1 1977.3V1989.2M212.1 1976.8V1988.5M222.1 1976.6V1989.5M230.1 1976.9V1988.6M232.1 1977.0V1988.3M238.1 1977.7V1989.0M241.1 1976.1V1988.5M242.1 1976.9V1988.8M243.1 1976.2V1988.6M245.1 1977.7V1989.6M248.1 1977.5V1988.3M249.1 1976.4V1988.8M250.1 1977.3V1988.8M253.1 1976.4V1988.3M256.1 1977.7V1989.7M258.1 1976.6V1988.3M260.1 1977.5V1988.5M263.1 1976.5V1988.8M266.1 1976.6V1988.7M267.1 1976.7V1988.9M268.1 1976.2V1989.3M272.1 1977.6V1988.9M275.1 1977.5V1988.7M277.1 1976.2V1989.0M279.1 1977.0V1988.8M280.1 1977.1V1989.6M285.1 1976.6V1989.2M286.1 1977.1V1988.8M289.1 1976.4V1988.9M294.1 1976.5V1989.1M299.1 1977.5V1989.5M305.1 1976.6V1989.4M317.1 1976.6V1989.0M338.1 1977.6V1989.1M340.1 1976.3V1989.1M341.1 1976.2V1988.8M342.1 1977.6V1988.4M354.1 1977.0V1989.0M355.1 1977.6V1989.1M356.1 1977.0V1989.5M361.1 1977.3V1988.4M362.1 1976.9V1989.0M365.1 1977.1V1988.7M366.1 1976.2V1988.4M368.1 1976.9V1988.4M381.1 1976.9V1988.3M384.1 1976.5V1989.6M386.1 1976.2V1988.6M388.1 1976.7V1989.4M392.1 1976.9V1988.1M395.1 1976.8V1989.1M403.1 1976.6V1988.9M405.1 1977.2V1989.2M414.1 1977.0V1989.7M416.1 1977.5V1988.7M426.1 1977.2V1988.9M427.1 1976.6V1989.4M429.1 1976.9V1989.5M430.1 1976.6V1988.7M431.1 1976.2V1988.8M433.1 1977.4V1988.6M435.1 1976.6V1988.3M436.1 1977.6V1989.0M439.1 1977.1V1989.0M442.1 1977.5V1988.4M446.1 1977.1V1989.2M458.1 1977.5V1989.2M460.1 1977.1V1988.8M465.1 1977.0V1988.8M476.1 1976.2V1989.5M478.1 1976.6V1988.6M485.1 1976.7V1988.5M493.1 1977.0V1988.9M494.1 1976.5V1989.3M498.1 1976.4V1988.5M500.1 1976.6V1988.5" stroke="#0ce6ea" stroke-width="1.1" fill="none"/>
<rect x="193.6" y="1977.7" width="308.7" height="10.4" fill="#0ce6ea"/>
<path d="M501.9 1992V1975L503.2 1954" stroke="#0ce6ea" stroke-width="1.8" fill="none"/>
<polygon points="503.6,1956.5 504.4,1942 510.6,1944.2 509,1954" fill="#0ce6ea"/>
<path d="M506.4 1953.5L529.6 1894" stroke="#0ce6ea" stroke-width="5.2" fill="none"/>
<path d="M533 1877.5L527.2 1906.5M534 1893v12" stroke="#0ce6ea" stroke-width="1.6" fill="none"/>
<polygon points="530.5,1894 533.9,1886.5 570,1855.5 574.5,1851.4 581,1851.4 581,1863.1 574.5,1863.1 536.4,1898.8 532,1901.5" fill="#0ce6ea"/>
<path d="M580.5 1851.0V1863.4M591.5 1850.4V1863.4M592.5 1851.1V1863.9M594.5 1850.7V1864.3M598.5 1851.2V1863.9M607.5 1850.9V1863.7M617.5 1850.3V1864.4M619.5 1850.1V1864.1M623.5 1850.4V1864.0M624.5 1851.4V1863.7M628.5 1851.1V1863.3M629.5 1850.6V1864.4M633.5 1850.9V1863.8M635.5 1851.0V1864.3M642.5 1850.4V1864.2M646.5 1850.1V1863.9M647.5 1850.6V1863.3M649.5 1850.2V1863.2M656.5 1850.6V1863.9M667.5 1851.1V1863.6M670.5 1850.4V1863.6M671.5 1851.1V1863.2M680.5 1850.1V1863.3M684.5 1850.3V1863.5M696.5 1850.5V1864.3M701.5 1851.2V1863.5M702.5 1851.3V1863.5M703.5 1851.3V1863.6M706.5 1850.6V1863.7M708.5 1850.2V1863.8M714.5 1850.7V1863.4M716.5 1850.3V1863.6M719.5 1850.6V1863.8M722.5 1850.9V1863.3M728.5 1851.0V1863.7M732.5 1850.8V1864.0M735.5 1851.0V1863.4M738.5 1851.3V1864.4M740.5 1851.3V1863.9M741.5 1850.3V1863.9M745.5 1850.6V1863.8M753.5 1850.9V1864.5M754.5 1851.2V1863.9M756.5 1851.3V1863.5M758.5 1851.0V1863.5M759.5 1850.3V1864.2M764.5 1850.2V1863.3M770.5 1850.2V1864.4M778.5 1851.4V1863.6M779.5 1850.9V1863.8M780.5 1850.4V1863.6M784.5 1851.1V1863.9M787.5 1850.0V1863.8M792.5 1850.9V1864.0M793.5 1850.7V1863.9M799.5 1851.1V1864.1M803.5 1850.3V1863.4M804.5 1850.2V1863.6M815.5 1850.8V1864.0M824.5 1851.0V1864.2M826.5 1850.6V1863.7M831.5 1851.0V1864.3M841.5 1850.7V1864.2M846.5 1850.9V1864.0M852.5 1851.2V1864.4M856.5 1850.3V1863.2M858.5 1851.4V1863.3M865.5 1850.5V1864.1M866.5 1850.1V1863.4M869.5 1850.2V1864.4M870.5 1850.0V1863.6M875.5 1850.2V1863.9M877.5 1851.4V1864.2M878.5 1850.3V1864.1M882.5 1851.1V1863.4M884.5 1850.8V1864.5M885.5 1850.8V1863.4M889.5 1850.1V1863.9M893.5 1850.9V1864.1M894.5 1850.7V1864.2M901.5 1850.9V1863.8M903.5 1850.5V1863.2M904.5 1851.1V1864.0M905.5 1850.6V1863.3M908.5 1850.4V1863.4" stroke="#0ce6ea" stroke-width="1.1" fill="none"/>
<rect x="579.0" y="1851.4" width="341.2" height="11.8" fill="#0ce6ea"/>
<path d="M194.1 1865.7V1878.1M198.1 1866.3V1876.7M203.1 1866.4V1878.1M205.1 1866.1V1878.7M206.1 1865.0V1877.3M217.1 1865.2V1878.4M219.1 1865.5V1877.3M220.1 1865.9V1878.6M223.1 1864.8V1878.0M226.1 1865.3V1877.8M227.1 1866.7V1878.5M229.1 1866.3V1877.7M231.1 1866.7V1877.6M234.1 1866.8V1878.5M236.1 1865.0V1877.8M238.1 1866.1V1877.8M245.1 1866.1V1877.0M248.1 1864.9V1877.9M249.1 1866.3V1878.6M250.1 1866.2V1878.3M253.1 1865.7V1878.7M260.1 1866.6V1876.8M263.1 1866.7V1877.2M266.1 1866.4V1877.9M271.1 1865.5V1878.6M281.1 1865.3V1877.2M287.1 1866.9V1876.8M292.1 1865.9V1876.8M295.1 1866.8V1878.5M296.1 1866.1V1877.2M301.1 1865.5V1876.7M302.1 1866.8V1877.0M303.1 1864.9V1878.1M305.1 1865.5V1877.1M309.1 1865.5V1878.4M310.1 1865.2V1877.7M314.1 1865.1V1877.1M315.1 1865.3V1878.7M316.1 1864.8V1876.9M320.1 1865.2V1877.3M329.1 1866.9V1876.7M330.1 1866.7V1878.7M332.1 1865.5V1877.8M333.1 1866.4V1877.5M337.1 1865.6V1878.8M342.1 1866.2V1877.9M343.1 1866.1V1877.4M344.1 1866.5V1877.3M346.1 1865.6V1877.7M348.1 1865.2V1877.5M352.1 1865.2V1877.0M358.1 1866.3V1876.8M362.1 1864.9V1878.6M363.1 1866.7V1878.2M364.1 1865.4V1877.2M379.1 1866.3V1876.9M381.1 1866.8V1878.9M382.1 1865.9V1877.4M383.1 1866.8V1877.6M384.1 1865.7V1878.8M388.1 1866.1V1877.6M389.1 1866.7V1878.8M390.1 1865.4V1876.9M392.1 1865.9V1877.2M394.1 1866.0V1877.3M398.1 1866.0V1877.0M401.1 1865.7V1878.7M405.1 1866.6V1878.8M406.1 1865.6V1876.7M408.1 1865.9V1877.8M412.1 1866.5V1877.4M418.1 1866.4V1876.8M420.1 1866.0V1876.7M432.1 1865.0V1878.6M435.1 1866.5V1878.2M438.1 1866.0V1878.2M441.1 1865.7V1877.5M442.1 1866.3V1877.0M447.1 1865.9V1877.8M448.1 1866.4V1877.1M455.1 1865.4V1878.0M456.1 1865.3V1878.1M463.1 1865.7V1878.4M464.1 1865.8V1877.8M465.1 1866.6V1878.5M466.1 1866.5V1878.4M468.1 1864.8V1877.7M469.1 1865.2V1876.8M473.1 1864.9V1877.7M476.1 1865.5V1878.0M477.1 1866.4V1876.9M478.1 1866.8V1877.9M479.1 1866.3V1878.0M483.1 1865.8V1877.1M488.1 1864.7V1877.2M489.1 1866.5V1878.3M492.1 1866.5V1877.0M493.1 1866.1V1876.9M495.1 1866.0V1878.4M497.1 1865.7V1877.7M501.1 1865.2V1876.9M502.1 1866.4V1878.5" stroke="#0404a8" stroke-width="1.1" fill="none"/>
<rect x="193.6" y="1866.9" width="308.7" height="9.8" fill="#0808de"/>
<path d="M502.3 1876.7V1771.4" stroke="#3a3ab0" stroke-width="1.5" fill="none"/>
<polygon points="502.3,1768.4 506.3,1768.8 518.3,1771.4 520.3,1773.4 520.3,1787.4 512.3,1783.4 504.3,1783.4 502.3,1786.4" fill="#0808de"/>
<path d="M519.8 1771.0V1788.4M521.8 1773.1V1789.3M524.8 1772.2V1788.2M528.8 1772.6V1789.0M533.8 1771.3V1788.7M534.8 1772.4V1787.7M537.8 1772.7V1789.8M541.8 1771.2V1788.4M544.8 1772.1V1787.9M545.8 1772.7V1788.7M546.8 1773.3V1788.3M547.8 1771.6V1788.6M550.8 1773.0V1787.9M552.8 1771.6V1789.7M553.8 1771.3V1788.1M556.8 1771.9V1789.5M558.8 1772.0V1788.9M559.8 1771.0V1787.9M562.8 1771.0V1789.2M563.8 1772.0V1787.5M567.8 1771.5V1789.7M570.8 1772.2V1788.2M573.8 1772.0V1787.5M575.8 1772.4V1787.7M576.8 1773.1V1789.8M577.8 1771.7V1789.1M578.8 1773.1V1788.5M579.8 1772.1V1788.4M584.8 1772.2V1787.8M585.8 1771.1V1789.4M588.8 1771.8V1788.8M589.8 1772.7V1789.5M591.8 1772.6V1787.5M593.8 1773.2V1789.6M595.8 1772.7V1788.9M597.8 1771.0V1788.2M599.8 1772.0V1787.7M601.8 1771.8V1789.6M602.8 1772.5V1789.3M605.8 1772.7V1789.5M608.8 1772.0V1788.2M612.8 1771.2V1789.5M617.8 1773.4V1789.5M623.8 1773.1V1788.0M626.8 1771.8V1788.3M627.8 1772.1V1788.1M630.8 1773.1V1788.5M632.8 1773.1V1787.5M636.8 1772.8V1788.5M638.8 1773.3V1789.1M639.8 1772.8V1788.0M640.8 1771.7V1788.3M641.8 1773.0V1787.9M647.8 1771.3V1788.1M649.8 1772.6V1789.7M657.8 1773.1V1789.3M659.8 1773.2V1789.6M660.8 1772.8V1788.4M663.8 1773.0V1787.5M664.8 1772.4V1788.1M668.8 1771.6V1788.5M670.8 1771.7V1789.0M673.8 1771.7V1788.5M677.8 1771.8V1789.1M678.8 1771.9V1788.4M681.8 1772.1V1788.4M683.8 1773.4V1787.5M685.8 1773.2V1787.5M686.8 1772.6V1788.7M687.8 1772.2V1788.1M690.8 1772.0V1787.7M691.8 1772.3V1787.8M694.8 1771.9V1788.4M698.8 1773.0V1789.8M704.8 1771.4V1789.4M705.8 1771.0V1788.9M709.8 1771.0V1788.7M710.8 1771.8V1789.6M712.8 1771.4V1789.7M718.8 1773.0V1787.5M720.8 1772.1V1789.8M721.8 1771.9V1787.8M725.8 1771.9V1788.6M727.8 1771.4V1789.3M729.8 1771.5V1787.4M733.8 1771.0V1789.0M737.8 1771.3V1789.5M739.8 1772.7V1789.3M745.8 1771.4V1787.7M747.8 1772.0V1788.8M748.8 1773.0V1788.6M752.8 1771.8V1787.6M753.8 1772.2V1787.5M755.8 1771.3V1787.5M757.8 1771.9V1787.8M760.8 1772.0V1788.6M761.8 1772.4V1789.6M762.8 1773.3V1789.6M772.8 1771.9V1788.6M774.8 1772.7V1789.8M776.8 1772.1V1789.1M778.8 1772.8V1787.8M784.8 1772.7V1789.5M787.8 1773.2V1788.3M789.8 1771.8V1789.2M791.8 1772.3V1788.7M793.8 1772.5V1789.1M794.8 1772.9V1788.4M798.8 1771.3V1789.8M801.8 1771.6V1788.8M802.8 1771.9V1788.0M807.8 1771.6V1788.9M810.8 1772.9V1789.1M814.8 1771.8V1787.4M817.8 1771.2V1789.1M821.8 1772.5V1788.8M823.8 1771.5V1787.7M826.8 1772.3V1787.4M834.8 1773.3V1789.5M836.8 1771.9V1788.8M837.8 1771.7V1788.2M839.8 1771.1V1789.5M842.8 1772.1V1787.6M846.8 1772.3V1789.2M848.8 1771.1V1789.7M853.8 1771.3V1788.1M854.8 1772.3V1788.9M860.8 1772.7V1789.0M861.8 1771.7V1788.9M862.8 1771.7V1788.9M863.8 1772.0V1788.8M865.8 1771.7V1788.7M869.8 1771.3V1788.3M875.8 1772.6V1789.2M882.8 1772.5V1787.5M883.8 1771.4V1789.3M885.8 1771.4V1787.5M886.8 1772.6V1788.0M888.8 1772.5V1789.4M889.8 1772.8V1788.3M890.8 1771.9V1789.2M891.8 1772.1V1787.6M894.8 1771.9V1789.6M895.8 1771.9V1788.3M896.8 1771.6V1788.9M898.8 1773.3V1789.7M899.8 1772.1V1787.5M900.8 1772.6V1787.7M903.8 1772.2V1787.5M905.8 1772.3V1788.7M907.8 1772.3V1787.4M908.8 1773.1V1788.6M910.8 1772.5V1787.6M911.8 1773.1V1787.8M912.8 1773.0V1789.1" stroke="#0404a8" stroke-width="1.1" fill="none"/>
<rect x="519.3" y="1773.4" width="400.9" height="14.0" fill="#0808de"/>
<polygon points="173.0,1890.2 185.4,1890.2 192.6,1897.8 185.4,1905.3999999999999 173.0,1905.3999999999999" fill="#7c88aa" stroke="#2a3ab4" stroke-width="1.2"/><text x="179.8" y="1902.4" font-size="13" fill="#2a3ab4" text-anchor="middle" font-family='"Liberation Serif","Noto Serif CJK SC",serif'>1</text>
<polygon points="173.0,1977.0 185.4,1977.0 192.6,1984.6 185.4,1992.1999999999998 173.0,1992.1999999999998" fill="#9fe8e8" stroke="#30c8d0" stroke-width="1.2"/><text x="179.8" y="1989.2" font-size="13" fill="#30a0a8" text-anchor="middle" font-family='"Liberation Serif","Noto Serif CJK SC",serif'>2</text>
<path d="M910 1897.8l7 -4v8z" fill="#30d0d8"/>
<path d="M520.9 1710.6h12v9l-3.5 4h-5l-3.5 -4z" fill="#f0a020"/><path d="M523.5 1713.2h6.8M526.9 1713.2v7.6" stroke="#fff" stroke-width="2" fill="none"/>
<rect x="585.7" y="1722" width="190.8" height="78" fill="none" stroke="#fff" stroke-width="2.6"/>
<rect x="593.3" y="1881" width="156.5" height="56" fill="none" stroke="#fff" stroke-width="2.6"/>
<text x="612.2" y="1754.6" font-size="32" fill="#000" textLength="117.8" lengthAdjust="spacingAndGlyphs" font-family='"Liberation Sans","Noto Sans CJK SC",sans-serif'>VIN=12V</text>
<text x="618.1" y="1924.2" font-size="32" fill="#000" textLength="77.4" lengthAdjust="spacingAndGlyphs" font-family='"Liberation Sans","Noto Sans CJK SC",sans-serif'>VOUT</text>
<rect x="290.5" y="1687.2" width="533" height="15.3" fill="#fff" stroke="#111" stroke-width="1.3"/>
<rect x="398.5" y="1688.0" width="318.5" height="13.7" fill="#f0fcfe"/>
<path d="M398 1694.1000000000001H717" stroke="#30c8d8" stroke-width="1.3"/>
<path d="M398.0 1687.6000000000001v14.5" stroke="#000" stroke-width="2.2" fill="none"/>
<path d="M717.3 1687.6000000000001v14.5" stroke="#000" stroke-width="2.2" fill="none"/>
<rect x="540.4" y="1692.4" width="7.4" height="10" rx="1.5" fill="#f0a020"/>
<path d="M541.8 1694.6000000000001h4.6M544.1 1694.6000000000001v6.4" stroke="#fff" stroke-width="1.3" fill="none"/>
<path d="M553.5 1688.2h6.8l-3.4 3.4z" fill="#f0a020"/>
<path d="M552.4 1702.8h9l-4.5 6z" fill="#f0a020"/>
<text x="172.5" y="1700.4" font-size="16" fill="#000" font-weight="bold" textLength="29.5" lengthAdjust="spacingAndGlyphs" font-family='"Liberation Sans","Noto Sans CJK SC",sans-serif' stroke="#000" stroke-width="0.5">Tek</text>
<text x="206.5" y="1700.8" font-size="15.5" fill="#222" textLength="34.0" lengthAdjust="spacingAndGlyphs" font-family='"Liberation Sans","Noto Sans CJK SC",sans-serif'>停止</text>
<rect x="194.4" y="2076.4" width="311.0" height="20.6" rx="5" fill="#a8a8a8"/><rect x="193.5" y="2074.4" width="311.0" height="20.6" rx="5" fill="#fff" stroke="#222" stroke-width="1.1"/>
<rect x="197.7" y="2078.2" width="24.6" height="13.4" rx="6.7" fill="#0808de"/><text x="210.0" y="2089.9" font-size="14" fill="#fff" text-anchor="middle" font-family='"Liberation Sans","Noto Sans CJK SC",sans-serif'>1</text>
<text x="238.4" y="2090.0" font-size="14.5" fill="#4c56a8" textLength="40.0" lengthAdjust="spacingAndGlyphs" font-family='"Liberation Sans","Noto Sans CJK SC",sans-serif'>5.00 V</text>
<rect x="353.6" y="2078.2" width="23.6" height="13.4" rx="6.7" fill="#0ce6ea"/><text x="365.4" y="2089.9" font-size="14" fill="#fff" text-anchor="middle" font-family='"Liberation Sans","Noto Sans CJK SC",sans-serif'>2</text>
<text x="393.0" y="2090.0" font-size="14.5" fill="#38c8cc" textLength="40.0" lengthAdjust="spacingAndGlyphs" font-family='"Liberation Sans","Noto Sans CJK SC",sans-serif'>2.00 V</text>
<rect x="508.3" y="2060.4" width="328.4" height="37.0" rx="5" fill="#a8a8a8"/><rect x="507.4" y="2058.4" width="328.4" height="37.0" rx="5" fill="#fff" stroke="#222" stroke-width="1.1"/>
<text x="512.3" y="2072.6" font-size="14.5" fill="#222" textLength="43.0" lengthAdjust="spacingAndGlyphs" font-family='"Liberation Sans","Noto Sans CJK SC",sans-serif'>10.0ms</text>
<text x="642.5" y="2072.6" font-size="14.5" fill="#222" textLength="79.0" lengthAdjust="spacingAndGlyphs" font-family='"Liberation Sans","Noto Sans CJK SC",sans-serif'>10.0M次/秒</text>
<rect x="751.6" y="2061.6" width="23.8" height="13.2" rx="6.6" fill="#0ce6ea"/><text x="763.5" y="2073.1" font-size="14" fill="#fff" text-anchor="middle" font-family='"Liberation Sans","Noto Sans CJK SC",sans-serif'>2</text>
<path d="M784 2073.4h2.4l5.6 -9.8h2.6" stroke="#222" stroke-width="1.2" fill="none"/>
<rect x="511.4" y="2080.4" width="9.2" height="11" rx="1.5" fill="#f0a020"/>
<path d="M513.3 2082.8h5.4M516 2082.8v7" stroke="#fff" stroke-width="1.5" fill="none"/>
<path d="M521.4 2086h6.2m-2.6 -2.4l2.6 2.4l-2.6 2.4" stroke="#f0a020" stroke-width="1.3" fill="none"/>
<path d="M529.4 2083h8l-4 5.8z" fill="#f0a020"/>
<text x="538.4" y="2091.0" font-size="14.5" fill="#e8b64c" textLength="80.0" lengthAdjust="spacingAndGlyphs" font-family='"Liberation Sans","Noto Sans CJK SC",sans-serif'>4.080000ms</text>
<text x="643.0" y="2091.0" font-size="14.5" fill="#222" textLength="38.3" lengthAdjust="spacingAndGlyphs" font-family='"Liberation Sans","Noto Sans CJK SC",sans-serif'>1M 点</text>
<text x="757.8" y="2091.0" font-size="14.5" fill="#222" textLength="39.0" lengthAdjust="spacingAndGlyphs" font-family='"Liberation Sans","Noto Sans CJK SC",sans-serif'>3.56 V</text>
<rect x="194.4" y="2099.8" width="642.3" height="53.5" rx="5" fill="#a8a8a8"/><rect x="193.5" y="2097.8" width="642.3" height="53.5" rx="5" fill="#fff" stroke="#222" stroke-width="1.1"/>
<text x="330.7" y="2113.0" font-size="15.6" fill="#111" textLength="14.8" lengthAdjust="spacingAndGlyphs" font-family='"Liberation Sans","Noto Sans CJK SC",sans-serif'>值</text>
<text x="421.4" y="2113.0" font-size="15.6" fill="#111" textLength="50.5" lengthAdjust="spacingAndGlyphs" font-family='"Liberation Sans","Noto Sans CJK SC",sans-serif'>平均值</text>
<text x="524.9" y="2113.0" font-size="15.6" fill="#111" textLength="50.2" lengthAdjust="spacingAndGlyphs" font-family='"Liberation Sans","Noto Sans CJK SC",sans-serif'>最小值</text>
<text x="627.5" y="2113.0" font-size="15.6" fill="#111" textLength="50.2" lengthAdjust="spacingAndGlyphs" font-family='"Liberation Sans","Noto Sans CJK SC",sans-serif'>最大值</text>
<text x="730.0" y="2113.0" font-size="15.6" fill="#111" textLength="50.5" lengthAdjust="spacingAndGlyphs" font-family='"Liberation Sans","Noto Sans CJK SC",sans-serif'>标准差</text>
<rect x="197.7" y="2118.5" width="24.4" height="13.2" rx="6.6" fill="#0808de"/><text x="209.9" y="2130.0" font-size="14" fill="#fff" text-anchor="middle" font-family='"Liberation Sans","Noto Sans CJK SC",sans-serif'>1</text>
<text x="226.8" y="2130.6" font-size="15.6" fill="#4c56a8" textLength="33.2" lengthAdjust="spacingAndGlyphs" font-family='"Liberation Sans","Noto Sans CJK SC",sans-serif'>最大</text>
<text x="330.2" y="2130.2" font-size="14.5" fill="#4c56a8" textLength="39.0" lengthAdjust="spacingAndGlyphs" font-family='"Liberation Sans","Noto Sans CJK SC",sans-serif'>13.2 V</text>
<text x="421.8" y="2130.2" font-size="14.5" fill="#4c56a8" textLength="26.0" lengthAdjust="spacingAndGlyphs" font-family='"Liberation Sans","Noto Sans CJK SC",sans-serif'>13.2</text>
<text x="524.8" y="2130.2" font-size="14.5" fill="#4c56a8" textLength="26.0" lengthAdjust="spacingAndGlyphs" font-family='"Liberation Sans","Noto Sans CJK SC",sans-serif'>13.2</text>
<text x="627.5" y="2130.2" font-size="14.5" fill="#4c56a8" textLength="26.8" lengthAdjust="spacingAndGlyphs" font-family='"Liberation Sans","Noto Sans CJK SC",sans-serif'>13.4</text>
<text x="730.0" y="2130.2" font-size="14.5" fill="#4c56a8" textLength="36.9" lengthAdjust="spacingAndGlyphs" font-family='"Liberation Sans","Noto Sans CJK SC",sans-serif'>60.3m</text>
<rect x="197.7" y="2135.8" width="24.4" height="13.2" rx="6.6" fill="#0ce6ea"/><text x="209.9" y="2147.3" font-size="14" fill="#fff" text-anchor="middle" font-family='"Liberation Sans","Noto Sans CJK SC",sans-serif'>2</text>
<text x="226.8" y="2147.9" font-size="15.6" fill="#38c8cc" textLength="15.0" lengthAdjust="spacingAndGlyphs" font-family='"Liberation Sans","Noto Sans CJK SC",sans-serif'>高</text>
<text x="330.2" y="2147.5" font-size="14.5" fill="#38c8cc" textLength="39.0" lengthAdjust="spacingAndGlyphs" font-family='"Liberation Sans","Noto Sans CJK SC",sans-serif'>5.08 V</text>
<text x="421.8" y="2147.5" font-size="14.5" fill="#38c8cc" textLength="26.5" lengthAdjust="spacingAndGlyphs" font-family='"Liberation Sans","Noto Sans CJK SC",sans-serif'>5.26</text>
<text x="524.8" y="2147.5" font-size="14.5" fill="#38c8cc" textLength="26.5" lengthAdjust="spacingAndGlyphs" font-family='"Liberation Sans","Noto Sans CJK SC",sans-serif'>5.08</text>
<text x="627.5" y="2147.5" font-size="14.5" fill="#38c8cc" textLength="26.5" lengthAdjust="spacingAndGlyphs" font-family='"Liberation Sans","Noto Sans CJK SC",sans-serif'>5.56</text>
<text x="730.0" y="2147.5" font-size="14.5" fill="#38c8cc" textLength="32.0" lengthAdjust="spacingAndGlyphs" font-family='"Liberation Sans","Noto Sans CJK SC",sans-serif'>248m</text>
<rect x="839.5" y="2097.5" width="106.5" height="36.0" rx="5" fill="#a8a8a8"/><rect x="838.6" y="2095.5" width="106.5" height="36.0" rx="5" fill="#fff" stroke="#222" stroke-width="1.1"/>
<text x="863.5" y="2111.3" font-size="13.5" fill="#222" textLength="78.0" lengthAdjust="spacingAndGlyphs" font-family='"Liberation Sans","Noto Sans CJK SC",sans-serif'>10 4月 2018</text>
<text x="863.5" y="2128.1" font-size="13.5" fill="#222" textLength="53.0" lengthAdjust="spacingAndGlyphs" font-family='"Liberation Sans","Noto Sans CJK SC",sans-serif'>17:20:39</text>
</svg></figure>
<figure class="fig"><svg class="scope" width="790" height="480" viewBox="165 1681 790 480" style="position:absolute;left:944px;top:1681px">
<rect x="172.6" y="1686" width="775.5" height="466" fill="#fff"/>
<path d="M207.5 1752.6h1.3M222.1 1752.6h1.3M236.6 1752.6h1.3M251.1 1752.6h1.3M265.7 1752.6h1.3M280.2 1752.6h1.3M294.7 1752.6h1.3M309.3 1752.6h1.3M323.8 1752.6h1.3M338.3 1752.6h1.3M352.9 1752.6h1.3M367.4 1752.6h1.3M381.9 1752.6h1.3M396.4 1752.6h1.3M411.0 1752.6h1.3M425.5 1752.6h1.3M440.0 1752.6h1.3M454.6 1752.6h1.3M469.1 1752.6h1.3M483.6 1752.6h1.3M498.2 1752.6h1.3M512.7 1752.6h1.3M527.2 1752.6h1.3M541.8 1752.6h1.3M556.3 1752.6h1.3M570.8 1752.6h1.3M585.4 1752.6h1.3M599.9 1752.6h1.3M614.4 1752.6h1.3M629.0 1752.6h1.3M643.5 1752.6h1.3M658.0 1752.6h1.3M672.6 1752.6h1.3M687.1 1752.6h1.3M701.6 1752.6h1.3M716.2 1752.6h1.3M730.7 1752.6h1.3M745.2 1752.6h1.3M759.7 1752.6h1.3M774.3 1752.6h1.3M788.8 1752.6h1.3M803.3 1752.6h1.3M817.9 1752.6h1.3M832.4 1752.6h1.3M846.9 1752.6h1.3M861.5 1752.6h1.3M876.0 1752.6h1.3M890.5 1752.6h1.3M905.1 1752.6h1.3M207.5 1801.0h1.3M222.1 1801.0h1.3M236.6 1801.0h1.3M251.1 1801.0h1.3M265.7 1801.0h1.3M280.2 1801.0h1.3M294.7 1801.0h1.3M309.3 1801.0h1.3M323.8 1801.0h1.3M338.3 1801.0h1.3M352.9 1801.0h1.3M367.4 1801.0h1.3M381.9 1801.0h1.3M396.4 1801.0h1.3M411.0 1801.0h1.3M425.5 1801.0h1.3M440.0 1801.0h1.3M454.6 1801.0h1.3M469.1 1801.0h1.3M483.6 1801.0h1.3M498.2 1801.0h1.3M512.7 1801.0h1.3M527.2 1801.0h1.3M541.8 1801.0h1.3M556.3 1801.0h1.3M570.8 1801.0h1.3M585.4 1801.0h1.3M599.9 1801.0h1.3M614.4 1801.0h1.3M629.0 1801.0h1.3M643.5 1801.0h1.3M658.0 1801.0h1.3M672.6 1801.0h1.3M687.1 1801.0h1.3M701.6 1801.0h1.3M716.2 1801.0h1.3M730.7 1801.0h1.3M745.2 1801.0h1.3M759.7 1801.0h1.3M774.3 1801.0h1.3M788.8 1801.0h1.3M803.3 1801.0h1.3M817.9 1801.0h1.3M832.4 1801.0h1.3M846.9 1801.0h1.3M861.5 1801.0h1.3M876.0 1801.0h1.3M890.5 1801.0h1.3M905.1 1801.0h1.3M207.5 1849.4h1.3M222.1 1849.4h1.3M236.6 1849.4h1.3M251.1 1849.4h1.3M265.7 1849.4h1.3M280.2 1849.4h1.3M294.7 1849.4h1.3M309.3 1849.4h1.3M323.8 1849.4h1.3M338.3 1849.4h1.3M352.9 1849.4h1.3M367.4 1849.4h1.3M381.9 1849.4h1.3M396.4 1849.4h1.3M411.0 1849.4h1.3M425.5 1849.4h1.3M440.0 1849.4h1.3M454.6 1849.4h1.3M469.1 1849.4h1.3M483.6 1849.4h1.3M498.2 1849.4h1.3M512.7 1849.4h1.3M527.2 1849.4h1.3M541.8 1849.4h1.3M556.3 1849.4h1.3M570.8 1849.4h1.3M585.4 1849.4h1.3M599.9 1849.4h1.3M614.4 1849.4h1.3M629.0 1849.4h1.3M643.5 1849.4h1.3M658.0 1849.4h1.3M672.6 1849.4h1.3M687.1 1849.4h1.3M701.6 1849.4h1.3M716.2 1849.4h1.3M730.7 1849.4h1.3M745.2 1849.4h1.3M759.7 1849.4h1.3M774.3 1849.4h1.3M788.8 1849.4h1.3M803.3 1849.4h1.3M817.9 1849.4h1.3M832.4 1849.4h1.3M846.9 1849.4h1.3M861.5 1849.4h1.3M876.0 1849.4h1.3M890.5 1849.4h1.3M905.1 1849.4h1.3M207.5 1946.2h1.3M222.1 1946.2h1.3M236.6 1946.2h1.3M251.1 1946.2h1.3M265.7 1946.2h1.3M280.2 1946.2h1.3M294.7 1946.2h1.3M309.3 1946.2h1.3M323.8 1946.2h1.3M338.3 1946.2h1.3M352.9 1946.2h1.3M367.4 1946.2h1.3M381.9 1946.2h1.3M396.4 1946.2h1.3M411.0 1946.2h1.3M425.5 1946.2h1.3M440.0 1946.2h1.3M454.6 1946.2h1.3M469.1 1946.2h1.3M483.6 1946.2h1.3M498.2 1946.2h1.3M512.7 1946.2h1.3M527.2 1946.2h1.3M541.8 1946.2h1.3M556.3 1946.2h1.3M570.8 1946.2h1.3M585.4 1946.2h1.3M599.9 1946.2h1.3M614.4 1946.2h1.3M629.0 1946.2h1.3M643.5 1946.2h1.3M658.0 1946.2h1.3M672.6 1946.2h1.3M687.1 1946.2h1.3M701.6 1946.2h1.3M716.2 1946.2h1.3M730.7 1946.2h1.3M745.2 1946.2h1.3M759.7 1946.2h1.3M774.3 1946.2h1.3M788.8 1946.2h1.3M803.3 1946.2h1.3M817.9 1946.2h1.3M832.4 1946.2h1.3M846.9 1946.2h1.3M861.5 1946.2h1.3M876.0 1946.2h1.3M890.5 1946.2h1.3M905.1 1946.2h1.3M207.5 1994.6h1.3M222.1 1994.6h1.3M236.6 1994.6h1.3M251.1 1994.6h1.3M265.7 1994.6h1.3M280.2 1994.6h1.3M294.7 1994.6h1.3M309.3 1994.6h1.3M323.8 1994.6h1.3M338.3 1994.6h1.3M352.9 1994.6h1.3M367.4 1994.6h1.3M381.9 1994.6h1.3M396.4 1994.6h1.3M411.0 1994.6h1.3M425.5 1994.6h1.3M440.0 1994.6h1.3M454.6 1994.6h1.3M469.1 1994.6h1.3M483.6 1994.6h1.3M498.2 1994.6h1.3M512.7 1994.6h1.3M527.2 1994.6h1.3M541.8 1994.6h1.3M556.3 1994.6h1.3M570.8 1994.6h1.3M585.4 1994.6h1.3M599.9 1994.6h1.3M614.4 1994.6h1.3M629.0 1994.6h1.3M643.5 1994.6h1.3M658.0 1994.6h1.3M672.6 1994.6h1.3M687.1 1994.6h1.3M701.6 1994.6h1.3M716.2 1994.6h1.3M730.7 1994.6h1.3M745.2 1994.6h1.3M759.7 1994.6h1.3M774.3 1994.6h1.3M788.8 1994.6h1.3M803.3 1994.6h1.3M817.9 1994.6h1.3M832.4 1994.6h1.3M846.9 1994.6h1.3M861.5 1994.6h1.3M876.0 1994.6h1.3M890.5 1994.6h1.3M905.1 1994.6h1.3M207.5 2043.0h1.3M222.1 2043.0h1.3M236.6 2043.0h1.3M251.1 2043.0h1.3M265.7 2043.0h1.3M280.2 2043.0h1.3M294.7 2043.0h1.3M309.3 2043.0h1.3M323.8 2043.0h1.3M338.3 2043.0h1.3M352.9 2043.0h1.3M367.4 2043.0h1.3M381.9 2043.0h1.3M396.4 2043.0h1.3M411.0 2043.0h1.3M425.5 2043.0h1.3M440.0 2043.0h1.3M454.6 2043.0h1.3M469.1 2043.0h1.3M483.6 2043.0h1.3M498.2 2043.0h1.3M512.7 2043.0h1.3M527.2 2043.0h1.3M541.8 2043.0h1.3M556.3 2043.0h1.3M570.8 2043.0h1.3M585.4 2043.0h1.3M599.9 2043.0h1.3M614.4 2043.0h1.3M629.0 2043.0h1.3M643.5 2043.0h1.3M658.0 2043.0h1.3M672.6 2043.0h1.3M687.1 2043.0h1.3M701.6 2043.0h1.3M716.2 2043.0h1.3M730.7 2043.0h1.3M745.2 2043.0h1.3M759.7 2043.0h1.3M774.3 2043.0h1.3M788.8 2043.0h1.3M803.3 2043.0h1.3M817.9 2043.0h1.3M832.4 2043.0h1.3M846.9 2043.0h1.3M861.5 2043.0h1.3M876.0 2043.0h1.3M890.5 2043.0h1.3M905.1 2043.0h1.3M266.3 1713.3v1.3M266.3 1723.0v1.3M266.3 1732.6v1.3M266.3 1742.3v1.3M266.3 1752.0v1.3M266.3 1761.7v1.3M266.3 1771.4v1.3M266.3 1781.0v1.3M266.3 1790.7v1.3M266.3 1800.4v1.3M266.3 1810.1v1.3M266.3 1819.8v1.3M266.3 1829.4v1.3M266.3 1839.1v1.3M266.3 1848.8v1.3M266.3 1858.5v1.3M266.3 1868.2v1.3M266.3 1877.8v1.3M266.3 1887.5v1.3M266.3 1897.2v1.3M266.3 1906.9v1.3M266.3 1916.6v1.3M266.3 1926.2v1.3M266.3 1935.9v1.3M266.3 1945.6v1.3M266.3 1955.3v1.3M266.3 1965.0v1.3M266.3 1974.6v1.3M266.3 1984.3v1.3M266.3 1994.0v1.3M266.3 2003.7v1.3M266.3 2013.4v1.3M266.3 2023.0v1.3M266.3 2032.7v1.3M266.3 2042.4v1.3M266.3 2052.1v1.3M266.3 2061.8v1.3M266.3 2071.4v1.3M266.3 2081.1v1.3M338.9 1713.3v1.3M338.9 1723.0v1.3M338.9 1732.6v1.3M338.9 1742.3v1.3M338.9 1752.0v1.3M338.9 1761.7v1.3M338.9 1771.4v1.3M338.9 1781.0v1.3M338.9 1790.7v1.3M338.9 1800.4v1.3M338.9 1810.1v1.3M338.9 1819.8v1.3M338.9 1829.4v1.3M338.9 1839.1v1.3M338.9 1848.8v1.3M338.9 1858.5v1.3M338.9 1868.2v1.3M338.9 1877.8v1.3M338.9 1887.5v1.3M338.9 1897.2v1.3M338.9 1906.9v1.3M338.9 1916.6v1.3M338.9 1926.2v1.3M338.9 1935.9v1.3M338.9 1945.6v1.3M338.9 1955.3v1.3M338.9 1965.0v1.3M338.9 1974.6v1.3M338.9 1984.3v1.3M338.9 1994.0v1.3M338.9 2003.7v1.3M338.9 2013.4v1.3M338.9 2023.0v1.3M338.9 2032.7v1.3M338.9 2042.4v1.3M338.9 2052.1v1.3M338.9 2061.8v1.3M338.9 2071.4v1.3M338.9 2081.1v1.3M411.6 1713.3v1.3M411.6 1723.0v1.3M411.6 1732.6v1.3M411.6 1742.3v1.3M411.6 1752.0v1.3M411.6 1761.7v1.3M411.6 1771.4v1.3M411.6 1781.0v1.3M411.6 1790.7v1.3M411.6 1800.4v1.3M411.6 1810.1v1.3M411.6 1819.8v1.3M411.6 1829.4v1.3M411.6 1839.1v1.3M411.6 1848.8v1.3M411.6 1858.5v1.3M411.6 1868.2v1.3M411.6 1877.8v1.3M411.6 1887.5v1.3M411.6 1897.2v1.3M411.6 1906.9v1.3M411.6 1916.6v1.3M411.6 1926.2v1.3M411.6 1935.9v1.3M411.6 1945.6v1.3M411.6 1955.3v1.3M411.6 1965.0v1.3M411.6 1974.6v1.3M411.6 1984.3v1.3M411.6 1994.0v1.3M411.6 2003.7v1.3M411.6 2013.4v1.3M411.6 2023.0v1.3M411.6 2032.7v1.3M411.6 2042.4v1.3M411.6 2052.1v1.3M411.6 2061.8v1.3M411.6 2071.4v1.3M411.6 2081.1v1.3M484.2 1713.3v1.3M484.2 1723.0v1.3M484.2 1732.6v1.3M484.2 1742.3v1.3M484.2 1752.0v1.3M484.2 1761.7v1.3M484.2 1771.4v1.3M484.2 1781.0v1.3M484.2 1790.7v1.3M484.2 1800.4v1.3M484.2 1810.1v1.3M484.2 1819.8v1.3M484.2 1829.4v1.3M484.2 1839.1v1.3M484.2 1848.8v1.3M484.2 1858.5v1.3M484.2 1868.2v1.3M484.2 1877.8v1.3M484.2 1887.5v1.3M484.2 1897.2v1.3M484.2 1906.9v1.3M484.2 1916.6v1.3M484.2 1926.2v1.3M484.2 1935.9v1.3M484.2 1945.6v1.3M484.2 1955.3v1.3M484.2 1965.0v1.3M484.2 1974.6v1.3M484.2 1984.3v1.3M484.2 1994.0v1.3M484.2 2003.7v1.3M484.2 2013.4v1.3M484.2 2023.0v1.3M484.2 2032.7v1.3M484.2 2042.4v1.3M484.2 2052.1v1.3M484.2 2061.8v1.3M484.2 2071.4v1.3M484.2 2081.1v1.3M629.6 1713.3v1.3M629.6 1723.0v1.3M629.6 1732.6v1.3M629.6 1742.3v1.3M629.6 1752.0v1.3M629.6 1761.7v1.3M629.6 1771.4v1.3M629.6 1781.0v1.3M629.6 1790.7v1.3M629.6 1800.4v1.3M629.6 1810.1v1.3M629.6 1819.8v1.3M629.6 1829.4v1.3M629.6 1839.1v1.3M629.6 1848.8v1.3M629.6 1858.5v1.3M629.6 1868.2v1.3M629.6 1877.8v1.3M629.6 1887.5v1.3M629.6 1897.2v1.3M629.6 1906.9v1.3M629.6 1916.6v1.3M629.6 1926.2v1.3M629.6 1935.9v1.3M629.6 1945.6v1.3M629.6 1955.3v1.3M629.6 1965.0v1.3M629.6 1974.6v1.3M629.6 1984.3v1.3M629.6 1994.0v1.3M629.6 2003.7v1.3M629.6 2013.4v1.3M629.6 2023.0v1.3M629.6 2032.7v1.3M629.6 2042.4v1.3M629.6 2052.1v1.3M629.6 2061.8v1.3M629.6 2071.4v1.3M629.6 2081.1v1.3M702.2 1713.3v1.3M702.2 1723.0v1.3M702.2 1732.6v1.3M702.2 1742.3v1.3M702.2 1752.0v1.3M702.2 1761.7v1.3M702.2 1771.4v1.3M702.2 1781.0v1.3M702.2 1790.7v1.3M702.2 1800.4v1.3M702.2 1810.1v1.3M702.2 1819.8v1.3M702.2 1829.4v1.3M702.2 1839.1v1.3M702.2 1848.8v1.3M702.2 1858.5v1.3M702.2 1868.2v1.3M702.2 1877.8v1.3M702.2 1887.5v1.3M702.2 1897.2v1.3M702.2 1906.9v1.3M702.2 1916.6v1.3M702.2 1926.2v1.3M702.2 1935.9v1.3M702.2 1945.6v1.3M702.2 1955.3v1.3M702.2 1965.0v1.3M702.2 1974.6v1.3M702.2 1984.3v1.3M702.2 1994.0v1.3M702.2 2003.7v1.3M702.2 2013.4v1.3M702.2 2023.0v1.3M702.2 2032.7v1.3M702.2 2042.4v1.3M702.2 2052.1v1.3M702.2 2061.8v1.3M702.2 2071.4v1.3M702.2 2081.1v1.3M774.9 1713.3v1.3M774.9 1723.0v1.3M774.9 1732.6v1.3M774.9 1742.3v1.3M774.9 1752.0v1.3M774.9 1761.7v1.3M774.9 1771.4v1.3M774.9 1781.0v1.3M774.9 1790.7v1.3M774.9 1800.4v1.3M774.9 1810.1v1.3M774.9 1819.8v1.3M774.9 1829.4v1.3M774.9 1839.1v1.3M774.9 1848.8v1.3M774.9 1858.5v1.3M774.9 1868.2v1.3M774.9 1877.8v1.3M774.9 1887.5v1.3M774.9 1897.2v1.3M774.9 1906.9v1.3M774.9 1916.6v1.3M774.9 1926.2v1.3M774.9 1935.9v1.3M774.9 1945.6v1.3M774.9 1955.3v1.3M774.9 1965.0v1.3M774.9 1974.6v1.3M774.9 1984.3v1.3M774.9 1994.0v1.3M774.9 2003.7v1.3M774.9 2013.4v1.3M774.9 2023.0v1.3M774.9 2032.7v1.3M774.9 2042.4v1.3M774.9 2052.1v1.3M774.9 2061.8v1.3M774.9 2071.4v1.3M774.9 2081.1v1.3M847.5 1713.3v1.3M847.5 1723.0v1.3M847.5 1732.6v1.3M847.5 1742.3v1.3M847.5 1752.0v1.3M847.5 1761.7v1.3M847.5 1771.4v1.3M847.5 1781.0v1.3M847.5 1790.7v1.3M847.5 1800.4v1.3M847.5 1810.1v1.3M847.5 1819.8v1.3M847.5 1829.4v1.3M847.5 1839.1v1.3M847.5 1848.8v1.3M847.5 1858.5v1.3M847.5 1868.2v1.3M847.5 1877.8v1.3M847.5 1887.5v1.3M847.5 1897.2v1.3M847.5 1906.9v1.3M847.5 1916.6v1.3M847.5 1926.2v1.3M847.5 1935.9v1.3M847.5 1945.6v1.3M847.5 1955.3v1.3M847.5 1965.0v1.3M847.5 1974.6v1.3M847.5 1984.3v1.3M847.5 1994.0v1.3M847.5 2003.7v1.3M847.5 2013.4v1.3M847.5 2023.0v1.3M847.5 2032.7v1.3M847.5 2042.4v1.3M847.5 2052.1v1.3M847.5 2061.8v1.3M847.5 2071.4v1.3M847.5 2081.1v1.3" stroke="#3c3c3c" stroke-width="1.15" fill="none"/>
<path d="M208.1 1702.8v2.8M208.1 1895.2v5.2M222.7 1702.8v2.8M222.7 1895.2v5.2M237.2 1702.8v2.8M237.2 1895.2v5.2M251.7 1702.8v2.8M251.7 1895.2v5.2M266.3 1702.8v4.5M266.3 1895.2v5.2M280.8 1702.8v2.8M280.8 1895.2v5.2M295.3 1702.8v2.8M295.3 1895.2v5.2M309.9 1702.8v2.8M309.9 1895.2v5.2M324.4 1702.8v2.8M324.4 1895.2v5.2M338.9 1702.8v4.5M338.9 1895.2v5.2M353.5 1702.8v2.8M353.5 1895.2v5.2M368.0 1702.8v2.8M368.0 1895.2v5.2M382.5 1702.8v2.8M382.5 1895.2v5.2M397.0 1702.8v2.8M397.0 1895.2v5.2M411.6 1702.8v4.5M411.6 1895.2v5.2M426.1 1702.8v2.8M426.1 1895.2v5.2M440.6 1702.8v2.8M440.6 1895.2v5.2M455.2 1702.8v2.8M455.2 1895.2v5.2M469.7 1702.8v2.8M469.7 1895.2v5.2M484.2 1702.8v4.5M484.2 1895.2v5.2M498.8 1702.8v2.8M498.8 1895.2v5.2M513.3 1702.8v2.8M513.3 1895.2v5.2M527.8 1702.8v2.8M527.8 1895.2v5.2M542.4 1702.8v2.8M542.4 1895.2v5.2M556.9 1702.8v4.5M556.9 1895.2v5.2M571.4 1702.8v2.8M571.4 1895.2v5.2M586.0 1702.8v2.8M586.0 1895.2v5.2M600.5 1702.8v2.8M600.5 1895.2v5.2M615.0 1702.8v2.8M615.0 1895.2v5.2M629.6 1702.8v4.5M629.6 1895.2v5.2M644.1 1702.8v2.8M644.1 1895.2v5.2M658.6 1702.8v2.8M658.6 1895.2v5.2M673.2 1702.8v2.8M673.2 1895.2v5.2M687.7 1702.8v2.8M687.7 1895.2v5.2M702.2 1702.8v4.5M702.2 1895.2v5.2M716.8 1702.8v2.8M716.8 1895.2v5.2M731.3 1702.8v2.8M731.3 1895.2v5.2M745.8 1702.8v2.8M745.8 1895.2v5.2M760.3 1702.8v2.8M760.3 1895.2v5.2M774.9 1702.8v4.5M774.9 1895.2v5.2M789.4 1702.8v2.8M789.4 1895.2v5.2M803.9 1702.8v2.8M803.9 1895.2v5.2M818.5 1702.8v2.8M818.5 1895.2v5.2M833.0 1702.8v2.8M833.0 1895.2v5.2M847.5 1702.8v4.5M847.5 1895.2v5.2M862.1 1702.8v2.8M862.1 1895.2v5.2M876.6 1702.8v2.8M876.6 1895.2v5.2M891.1 1702.8v2.8M891.1 1895.2v5.2M905.7 1702.8v2.8M905.7 1895.2v5.2M193.6 1713.9h3.4M920.2 1713.9h-3.4M553.7 1713.9h6.4M193.6 1723.6h3.4M920.2 1723.6h-3.4M553.7 1723.6h6.4M193.6 1733.2h3.4M920.2 1733.2h-3.4M553.7 1733.2h6.4M193.6 1742.9h3.4M920.2 1742.9h-3.4M553.7 1742.9h6.4M193.6 1752.6h5M920.2 1752.6h-5M553.7 1752.6h6.4M193.6 1762.3h3.4M920.2 1762.3h-3.4M553.7 1762.3h6.4M193.6 1772.0h3.4M920.2 1772.0h-3.4M553.7 1772.0h6.4M193.6 1781.6h3.4M920.2 1781.6h-3.4M553.7 1781.6h6.4M193.6 1791.3h3.4M920.2 1791.3h-3.4M553.7 1791.3h6.4M193.6 1801.0h5M920.2 1801.0h-5M553.7 1801.0h6.4M193.6 1810.7h3.4M920.2 1810.7h-3.4M553.7 1810.7h6.4M193.6 1820.4h3.4M920.2 1820.4h-3.4M553.7 1820.4h6.4M193.6 1830.0h3.4M920.2 1830.0h-3.4M553.7 1830.0h6.4M193.6 1839.7h3.4M920.2 1839.7h-3.4M553.7 1839.7h6.4M193.6 1849.4h5M920.2 1849.4h-5M553.7 1849.4h6.4M193.6 1859.1h3.4M920.2 1859.1h-3.4M553.7 1859.1h6.4M193.6 1868.8h3.4M920.2 1868.8h-3.4M553.7 1868.8h6.4M193.6 1878.4h3.4M920.2 1878.4h-3.4M553.7 1878.4h6.4M193.6 1888.1h3.4M920.2 1888.1h-3.4M553.7 1888.1h6.4M193.6 1897.8h5M920.2 1897.8h-5M553.7 1897.8h6.4M193.6 1907.5h3.4M920.2 1907.5h-3.4M553.7 1907.5h6.4M193.6 1917.2h3.4M920.2 1917.2h-3.4M553.7 1917.2h6.4M193.6 1926.8h3.4M920.2 1926.8h-3.4M553.7 1926.8h6.4M193.6 1936.5h3.4M920.2 1936.5h-3.4M553.7 1936.5h6.4M193.6 1946.2h5M920.2 1946.2h-5M553.7 1946.2h6.4M193.6 1955.9h3.4M920.2 1955.9h-3.4M553.7 1955.9h6.4M193.6 1965.6h3.4M920.2 1965.6h-3.4M553.7 1965.6h6.4M193.6 1975.2h3.4M920.2 1975.2h-3.4M553.7 1975.2h6.4M193.6 1984.9h3.4M920.2 1984.9h-3.4M553.7 1984.9h6.4M193.6 1994.6h5M920.2 1994.6h-5M553.7 1994.6h6.4M193.6 2004.3h3.4M920.2 2004.3h-3.4M553.7 2004.3h6.4M193.6 2014.0h3.4M920.2 2014.0h-3.4M553.7 2014.0h6.4M193.6 2023.6h3.4M920.2 2023.6h-3.4M553.7 2023.6h6.4M193.6 2033.3h3.4M920.2 2033.3h-3.4M553.7 2033.3h6.4M193.6 2043.0h5M920.2 2043.0h-5M553.7 2043.0h6.4M193.6 2052.7h3.4M920.2 2052.7h-3.4M553.7 2052.7h6.4M193.6 2062.4h3.4M920.2 2062.4h-3.4M553.7 2062.4h6.4M193.6 2072.0h3.4M920.2 2072.0h-3.4M553.7 2072.0h6.4M193.6 2081.7h3.4M920.2 2081.7h-3.4M553.7 2081.7h6.4" stroke="#2a2a2a" stroke-width="1" fill="none"/>
<path d="M193.6 1897.8H920.2M556.9 1702.8V2092.4" stroke="#3a3a3a" stroke-width="1.15" fill="none"/>
<rect x="193.6" y="1702.8" width="726.6" height="389.6" fill="none" stroke="#2a2a2a" stroke-width="1.3"/>
<path d="M835.2 2092.2H920.8000000000001" stroke="#000" stroke-width="2.8" fill="none"/>
<path d="M194.1 1977.2V1987.9M203.1 1976.8V1988.7M205.1 1976.6V1988.2M207.1 1977.3V1988.2M210.1 1976.8V1988.0M218.1 1976.8V1988.8M221.1 1977.0V1989.0M224.1 1977.0V1989.2M232.1 1976.8V1989.1M237.1 1977.1V1989.3M241.1 1976.5V1988.7M242.1 1977.3V1988.7M250.1 1976.4V1988.1M254.1 1977.7V1989.5M260.1 1976.7V1988.1M261.1 1976.5V1988.3M266.1 1976.2V1988.0M272.1 1977.1V1988.9M276.1 1977.6V1989.3M278.1 1976.9V1988.8M282.1 1976.3V1989.0M284.1 1977.5V1989.0M287.1 1977.5V1988.7M288.1 1977.2V1987.9M289.1 1976.8V1989.2M290.1 1977.2V1988.4M291.1 1977.0V1987.9M292.1 1977.3V1989.3M303.1 1976.7V1988.5M304.1 1977.2V1988.0M308.1 1976.8V1989.2M309.1 1977.0V1988.8M310.1 1977.0V1989.3M313.1 1976.6V1989.1M315.1 1976.6V1988.5M325.1 1976.7V1989.1M327.1 1976.7V1989.0M332.1 1976.2V1989.1M333.1 1977.4V1988.5M342.1 1977.6V1988.7M346.1 1976.7V1989.3M348.1 1977.6V1988.6M349.1 1977.2V1989.1M354.1 1977.1V1988.4M363.1 1976.7V1987.9M369.1 1976.6V1989.3M372.1 1977.7V1988.3M376.1 1977.1V1988.3M378.1 1977.5V1987.9M381.1 1977.2V1988.3M386.1 1976.8V1987.9M388.1 1977.1V1988.1M392.1 1977.3V1988.7M394.1 1976.7V1988.8M401.1 1976.7V1988.3M402.1 1976.7V1988.3M405.1 1976.1V1988.2M411.1 1976.4V1988.7M420.1 1977.5V1989.2M428.1 1977.1V1989.3M430.1 1977.3V1988.5M431.1 1976.6V1988.7M435.1 1976.8V1989.5M437.1 1977.5V1988.1M439.1 1976.2V1988.7M444.1 1976.2V1989.5M447.1 1977.5V1988.8M461.1 1976.4V1988.4M465.1 1976.8V1988.0M467.1 1976.4V1988.3M469.1 1977.3V1988.0M470.1 1977.0V1987.9M472.1 1977.1V1988.0M477.1 1976.3V1988.2M478.1 1976.5V1989.2M482.1 1977.6V1989.0M490.1 1976.7V1988.7M492.1 1976.8V1988.7M493.1 1977.7V1989.0M496.1 1976.2V1988.4" stroke="#0ce6ea" stroke-width="1.1" fill="none"/>
<rect x="193.6" y="1977.7" width="308.8" height="10.2" fill="#0ce6ea"/>
<path d="M502.4 1992V1978L504 1956" stroke="#0ce6ea" stroke-width="1.8" fill="none"/>
<polygon points="503.8,1955 504.4,1939.5 510.8,1941.5 508.6,1952.5" fill="#0ce6ea"/>
<path d="M505.4 1956L531.4 1892" stroke="#0ce6ea" stroke-width="3.6" fill="none"/>
<path d="M535.2 1877.5L531.6 1902M536.4 1892v12" stroke="#0ce6ea" stroke-width="1.6" fill="none"/>
<polygon points="533,1894 535.7,1887.8 580,1855.5 584,1852.9 592,1852.9 592,1865.2 587.3,1865.2 537.4,1899.5 534,1901.5" fill="#0ce6ea"/>
<path d="M595.5 1852.5V1866.1M599.5 1852.4V1866.4M604.5 1852.8V1866.0M608.5 1852.8V1865.6M609.5 1851.9V1866.3M613.5 1852.3V1865.5M614.5 1852.5V1865.7M625.5 1852.9V1865.7M627.5 1852.2V1865.9M628.5 1851.9V1866.4M638.5 1852.5V1866.3M641.5 1852.3V1866.5M647.5 1851.6V1865.4M652.5 1852.7V1865.8M653.5 1852.8V1865.3M656.5 1851.8V1866.4M657.5 1852.2V1865.6M659.5 1852.2V1865.5M661.5 1852.8V1865.5M663.5 1852.0V1866.1M668.5 1852.2V1865.6M670.5 1851.5V1866.4M673.5 1852.7V1865.9M675.5 1851.8V1866.3M701.5 1852.6V1866.6M704.5 1851.8V1865.4M706.5 1851.9V1865.4M709.5 1852.8V1865.9M720.5 1851.7V1865.7M722.5 1852.3V1865.4M723.5 1852.5V1866.0M728.5 1852.7V1866.0M730.5 1851.6V1866.2M731.5 1851.8V1866.0M734.5 1851.8V1866.2M735.5 1851.7V1866.2M740.5 1851.5V1866.0M748.5 1852.2V1865.4M750.5 1851.9V1866.3M758.5 1852.2V1866.3M762.5 1852.1V1866.4M763.5 1851.7V1865.4M764.5 1852.0V1866.4M782.5 1851.9V1865.9M784.5 1851.8V1865.9M785.5 1852.6V1866.6M787.5 1852.5V1865.5M792.5 1851.6V1865.6M797.5 1852.8V1866.1M799.5 1852.4V1865.5M803.5 1852.4V1866.4M804.5 1852.2V1866.6M805.5 1852.3V1866.2M806.5 1851.9V1866.0M807.5 1852.0V1866.3M814.5 1852.3V1865.9M818.5 1851.5V1865.9M824.5 1851.7V1866.3M828.5 1852.3V1866.0M829.5 1852.7V1865.6M831.5 1852.6V1866.5M838.5 1852.8V1865.7M841.5 1852.7V1866.6M842.5 1852.2V1866.5M848.5 1852.8V1865.4M853.5 1851.5V1865.3M857.5 1852.6V1865.7M859.5 1851.9V1865.9M861.5 1852.5V1865.6M863.5 1852.1V1866.5M865.5 1852.5V1866.3M866.5 1851.7V1865.9M881.5 1851.9V1865.9M882.5 1851.8V1865.5M883.5 1851.7V1865.7M891.5 1852.7V1866.4M893.5 1852.7V1865.8M906.5 1852.0V1866.1M907.5 1852.4V1865.6M916.5 1852.0V1866.0" stroke="#0ce6ea" stroke-width="1.1" fill="none"/>
<rect x="591.0" y="1852.9" width="329.2" height="12.4" fill="#0ce6ea"/>
<path d="M194.1 1877.6V1890.2M195.1 1876.8V1889.8M197.1 1877.9V1889.1M200.1 1877.0V1890.0M203.1 1877.3V1891.1M210.1 1877.5V1889.0M211.1 1876.3V1889.8M213.1 1877.1V1889.7M216.1 1878.0V1890.8M221.1 1877.6V1889.4M224.1 1877.9V1890.4M226.1 1877.1V1890.2M227.1 1876.1V1889.7M232.1 1876.1V1889.6M240.1 1877.8V1890.1M244.1 1876.8V1889.1M245.1 1878.0V1890.8M248.1 1878.1V1888.9M254.1 1876.5V1891.0M255.1 1876.8V1889.6M259.1 1877.6V1889.2M260.1 1876.7V1890.9M261.1 1878.0V1890.3M262.1 1876.8V1890.9M263.1 1876.6V1889.4M265.1 1876.6V1889.4M268.1 1877.2V1889.8M269.1 1877.8V1890.4M270.1 1877.7V1889.2M273.1 1877.8V1890.5M277.1 1877.6V1891.1M278.1 1877.1V1889.7M280.1 1877.2V1890.9M281.1 1877.2V1889.1M284.1 1876.6V1889.0M287.1 1876.2V1889.6M291.1 1876.7V1889.3M293.1 1878.1V1890.4M295.1 1877.0V1889.6M306.1 1877.9V1890.7M312.1 1877.7V1889.1M314.1 1877.2V1890.7M316.1 1877.3V1890.1M318.1 1876.0V1891.0M319.1 1876.2V1890.6M322.1 1877.4V1889.3M323.1 1877.4V1890.5M324.1 1876.1V1888.9M331.1 1876.2V1890.8M337.1 1877.4V1890.2M339.1 1877.0V1890.6M342.1 1877.8V1890.7M344.1 1877.0V1889.5M345.1 1878.0V1889.9M349.1 1876.3V1889.4M350.1 1876.2V1890.0M352.1 1876.9V1889.5M356.1 1876.2V1889.4M358.1 1877.0V1889.6M361.1 1877.3V1889.4M363.1 1877.9V1889.0M364.1 1877.6V1889.9M370.1 1877.8V1890.9M372.1 1876.0V1890.1M375.1 1877.0V1891.0M377.1 1876.7V1889.6M380.1 1876.8V1890.2M381.1 1877.0V1889.2M384.1 1876.9V1890.5M385.1 1877.0V1890.4M389.1 1876.8V1890.2M390.1 1876.5V1888.9M391.1 1875.9V1889.0M392.1 1878.1V1889.8M393.1 1876.2V1890.1M394.1 1876.5V1889.8M395.1 1877.5V1889.7M402.1 1876.4V1890.7M407.1 1877.1V1889.0M411.1 1877.8V1890.0M416.1 1876.2V1890.9M419.1 1877.5V1890.5M423.1 1876.9V1890.5M426.1 1876.6V1890.9M428.1 1876.6V1889.9M429.1 1877.5V1889.1M430.1 1877.3V1890.4M434.1 1876.3V1889.0M437.1 1877.0V1889.5M439.1 1877.6V1889.0M440.1 1878.0V1889.2M441.1 1876.9V1888.9M447.1 1877.8V1890.6M449.1 1877.3V1889.2M452.1 1877.6V1889.2M453.1 1877.9V1890.8M456.1 1876.0V1889.4M458.1 1877.8V1891.0M461.1 1876.8V1891.1M464.1 1878.1V1889.9M473.1 1877.1V1889.6M476.1 1876.0V1890.3M484.1 1876.0V1889.3M486.1 1876.8V1890.9M487.1 1877.2V1890.5M488.1 1877.0V1889.3M489.1 1877.2V1891.0M490.1 1877.3V1889.4M491.1 1876.5V1889.0M493.1 1876.1V1889.2" stroke="#0404a8" stroke-width="1.1" fill="none"/>
<rect x="193.6" y="1878.1" width="308.8" height="10.8" fill="#0808de"/>
<path d="M502.4 1888.9V1772.1" stroke="#3a3ab0" stroke-width="1.5" fill="none"/>
<path d="M506.9 1772.9V1788.1M509.9 1773.8V1788.3M511.9 1772.5V1788.0M517.9 1772.6V1787.6M519.9 1772.8V1788.3M521.9 1772.3V1787.2M525.9 1771.8V1787.7M528.9 1773.3V1787.0M529.9 1773.0V1788.8M532.9 1771.8V1787.2M533.9 1772.6V1788.7M543.9 1773.9V1787.4M550.9 1773.3V1787.7M554.9 1772.7V1787.9M556.9 1772.3V1786.7M561.9 1772.3V1787.1M562.9 1773.1V1787.6M565.9 1771.9V1787.7M567.9 1772.8V1787.6M569.9 1773.6V1788.0M573.9 1772.7V1787.1M576.9 1773.9V1788.0M577.9 1774.0V1788.4M578.9 1772.4V1787.4M581.9 1773.1V1786.6M586.9 1772.5V1788.6M588.9 1772.6V1788.9M589.9 1773.0V1787.3M591.9 1772.1V1786.6M592.9 1773.7V1787.2M594.9 1773.9V1788.1M595.9 1771.7V1788.5M596.9 1773.3V1787.5M597.9 1771.8V1786.9M598.9 1772.1V1788.3M600.9 1772.8V1787.8M602.9 1772.1V1788.4M612.9 1773.4V1788.7M619.9 1772.9V1788.3M620.9 1773.6V1786.9M624.9 1772.8V1786.6M625.9 1772.6V1787.0M626.9 1773.5V1787.1M627.9 1773.5V1787.2M628.9 1772.2V1787.0M629.9 1771.7V1786.8M632.9 1773.1V1786.8M634.9 1771.9V1787.9M641.9 1773.3V1786.9M644.9 1773.8V1788.9M645.9 1772.7V1786.8M647.9 1772.4V1788.5M649.9 1772.5V1788.3M650.9 1773.1V1787.7M653.9 1771.8V1788.8M655.9 1773.9V1787.5M656.9 1772.1V1787.4M659.9 1772.6V1788.0M661.9 1772.4V1787.5M668.9 1773.4V1786.6M671.9 1773.1V1787.8M674.9 1773.8V1788.3M676.9 1771.8V1788.4M677.9 1772.1V1786.8M678.9 1773.7V1788.1M681.9 1771.9V1787.9M682.9 1774.0V1788.2M684.9 1773.0V1787.7M686.9 1773.4V1788.5M688.9 1772.1V1786.8M689.9 1772.7V1788.1M699.9 1773.8V1788.2M705.9 1773.8V1787.6M709.9 1772.9V1788.4M710.9 1772.9V1786.7M711.9 1773.6V1786.7M712.9 1772.8V1787.7M717.9 1771.8V1788.7M719.9 1773.3V1787.6M721.9 1772.0V1788.7M725.9 1772.3V1786.8M726.9 1772.2V1787.7M727.9 1773.2V1786.7M729.9 1773.1V1788.7M737.9 1773.3V1786.9M740.9 1773.6V1786.5M741.9 1772.2V1787.2M743.9 1773.0V1788.3M745.9 1772.0V1786.5M746.9 1773.2V1788.8M747.9 1773.8V1787.9M753.9 1773.6V1788.6M755.9 1772.2V1786.9M756.9 1773.9V1788.0M757.9 1773.0V1787.8M761.9 1772.8V1788.6M762.9 1772.9V1788.3M763.9 1772.2V1786.8M767.9 1772.9V1788.5M769.9 1772.8V1788.5M771.9 1774.0V1788.6M775.9 1774.0V1788.1M778.9 1772.7V1787.2M781.9 1772.2V1788.4M783.9 1773.9V1786.6M786.9 1771.8V1788.0M790.9 1772.0V1788.8M792.9 1772.1V1786.6M794.9 1773.0V1787.8M797.9 1772.4V1788.8M802.9 1771.9V1788.0M807.9 1772.1V1788.2M808.9 1772.4V1786.6M810.9 1773.3V1786.7M815.9 1772.5V1787.9M821.9 1773.9V1787.2M826.9 1772.5V1786.6M834.9 1773.7V1788.0M837.9 1772.9V1787.6M840.9 1772.3V1787.8M842.9 1774.0V1788.8M854.9 1772.9V1788.1M856.9 1772.1V1787.5M858.9 1772.2V1787.8M862.9 1771.7V1787.3M867.9 1773.0V1788.7M873.9 1771.8V1788.8M875.9 1773.2V1786.5M876.9 1773.1V1787.5M877.9 1771.9V1788.6M880.9 1773.3V1788.5M885.9 1772.2V1787.6M887.9 1773.0V1788.8M891.9 1773.9V1787.8M895.9 1771.8V1788.4M900.9 1772.2V1788.5M906.9 1771.8V1788.2M907.9 1772.0V1788.1M910.9 1772.6V1788.3M913.9 1772.8V1787.8M914.9 1772.0V1786.7M916.9 1772.4V1786.9M919.9 1772.4V1788.3" stroke="#0404a8" stroke-width="1.1" fill="none"/>
<rect x="503.4" y="1774.1" width="416.8" height="12.4" fill="#0808de"/>
<polygon points="173.0,1890.2 185.4,1890.2 192.6,1897.8 185.4,1905.3999999999999 173.0,1905.3999999999999" fill="#7c88aa" stroke="#2a3ab4" stroke-width="1.2"/><text x="179.8" y="1902.4" font-size="13" fill="#2a3ab4" text-anchor="middle" font-family='"Liberation Serif","Noto Serif CJK SC",serif'>1</text>
<polygon points="173.0,1977.0 185.4,1977.0 192.6,1984.6 185.4,1992.1999999999998 173.0,1992.1999999999998" fill="#9fe8e8" stroke="#30c8d0" stroke-width="1.2"/><text x="179.8" y="1989.2" font-size="13" fill="#30a0a8" text-anchor="middle" font-family='"Liberation Serif","Noto Serif CJK SC",serif'>2</text>
<path d="M910 1897.8l7 -4v8z" fill="#30d0d8"/>
<path d="M519.6 1710.6h12v9l-3.5 4h-5l-3.5 -4z" fill="#f0a020"/><path d="M522.2 1713.2h6.8M525.6 1713.2v7.6" stroke="#fff" stroke-width="2" fill="none"/>
<rect x="611" y="1722" width="203" height="78" fill="none" stroke="#fff" stroke-width="2.6"/>
<rect x="610.6" y="1881" width="156.4" height="56" fill="none" stroke="#fff" stroke-width="2.6"/>
<text x="637.8" y="1756.0" font-size="32" fill="#000" textLength="117.8" lengthAdjust="spacingAndGlyphs" font-family='"Liberation Sans","Noto Sans CJK SC",sans-serif'>VIN=24V</text>
<text x="634.8" y="1922.6" font-size="32" fill="#000" textLength="77.4" lengthAdjust="spacingAndGlyphs" font-family='"Liberation Sans","Noto Sans CJK SC",sans-serif'>VOUT</text>
<rect x="290.5" y="1687.2" width="533" height="15.3" fill="#fff" stroke="#111" stroke-width="1.3"/>
<rect x="398.5" y="1688.0" width="318.5" height="13.7" fill="#f0fcfe"/>
<path d="M398 1694.1000000000001H717" stroke="#30c8d8" stroke-width="1.3"/>
<path d="M398.0 1687.6000000000001v14.5" stroke="#000" stroke-width="2.2" fill="none"/>
<path d="M717.3 1687.6000000000001v14.5" stroke="#000" stroke-width="2.2" fill="none"/>
<rect x="540.4" y="1692.4" width="7.4" height="10" rx="1.5" fill="#f0a020"/>
<path d="M541.8 1694.6000000000001h4.6M544.1 1694.6000000000001v6.4" stroke="#fff" stroke-width="1.3" fill="none"/>
<path d="M553.5 1688.2h6.8l-3.4 3.4z" fill="#f0a020"/>
<path d="M552.4 1702.8h9l-4.5 6z" fill="#f0a020"/>
<text x="172.5" y="1700.4" font-size="16" fill="#000" font-weight="bold" textLength="29.5" lengthAdjust="spacingAndGlyphs" font-family='"Liberation Sans","Noto Sans CJK SC",sans-serif' stroke="#000" stroke-width="0.5">Tek</text>
<text x="206.5" y="1700.8" font-size="15.5" fill="#222" textLength="34.0" lengthAdjust="spacingAndGlyphs" font-family='"Liberation Sans","Noto Sans CJK SC",sans-serif'>预览</text>
<rect x="194.4" y="2076.4" width="311.0" height="20.6" rx="5" fill="#a8a8a8"/><rect x="193.5" y="2074.4" width="311.0" height="20.6" rx="5" fill="#fff" stroke="#222" stroke-width="1.1"/>
<rect x="197.7" y="2078.2" width="24.6" height="13.4" rx="6.7" fill="#0808de"/><text x="210.0" y="2089.9" font-size="14" fill="#fff" text-anchor="middle" font-family='"Liberation Sans","Noto Sans CJK SC",sans-serif'>1</text>
<text x="238.4" y="2090.0" font-size="14.5" fill="#4c56a8" textLength="40.0" lengthAdjust="spacingAndGlyphs" font-family='"Liberation Sans","Noto Sans CJK SC",sans-serif'>10.0 V</text>
<rect x="353.6" y="2078.2" width="23.6" height="13.4" rx="6.7" fill="#0ce6ea"/><text x="365.4" y="2089.9" font-size="14" fill="#fff" text-anchor="middle" font-family='"Liberation Sans","Noto Sans CJK SC",sans-serif'>2</text>
<text x="393.0" y="2090.0" font-size="14.5" fill="#38c8cc" textLength="40.0" lengthAdjust="spacingAndGlyphs" font-family='"Liberation Sans","Noto Sans CJK SC",sans-serif'>2.00 V</text>
<rect x="508.3" y="2060.4" width="328.4" height="37.0" rx="5" fill="#a8a8a8"/><rect x="507.4" y="2058.4" width="328.4" height="37.0" rx="5" fill="#fff" stroke="#222" stroke-width="1.1"/>
<text x="512.3" y="2072.6" font-size="14.5" fill="#222" textLength="43.0" lengthAdjust="spacingAndGlyphs" font-family='"Liberation Sans","Noto Sans CJK SC",sans-serif'>10.0ms</text>
<text x="642.5" y="2072.6" font-size="14.5" fill="#222" textLength="79.0" lengthAdjust="spacingAndGlyphs" font-family='"Liberation Sans","Noto Sans CJK SC",sans-serif'>10.0M次/秒</text>
<rect x="751.6" y="2061.6" width="23.8" height="13.2" rx="6.6" fill="#0ce6ea"/><text x="763.5" y="2073.1" font-size="14" fill="#fff" text-anchor="middle" font-family='"Liberation Sans","Noto Sans CJK SC",sans-serif'>2</text>
<path d="M784 2073.4h2.4l5.6 -9.8h2.6" stroke="#222" stroke-width="1.2" fill="none"/>
<rect x="511.4" y="2080.4" width="9.2" height="11" rx="1.5" fill="#f0a020"/>
<path d="M513.3 2082.8h5.4M516 2082.8v7" stroke="#fff" stroke-width="1.5" fill="none"/>
<path d="M521.4 2086h6.2m-2.6 -2.4l2.6 2.4l-2.6 2.4" stroke="#f0a020" stroke-width="1.3" fill="none"/>
<path d="M529.4 2083h8l-4 5.8z" fill="#f0a020"/>
<text x="538.4" y="2091.0" font-size="14.5" fill="#e8b64c" textLength="80.0" lengthAdjust="spacingAndGlyphs" font-family='"Liberation Sans","Noto Sans CJK SC",sans-serif'>4.080000ms</text>
<text x="643.0" y="2091.0" font-size="14.5" fill="#222" textLength="38.3" lengthAdjust="spacingAndGlyphs" font-family='"Liberation Sans","Noto Sans CJK SC",sans-serif'>1M 点</text>
<text x="757.8" y="2091.0" font-size="14.5" fill="#222" textLength="39.0" lengthAdjust="spacingAndGlyphs" font-family='"Liberation Sans","Noto Sans CJK SC",sans-serif'>3.56 V</text>
<rect x="194.4" y="2099.8" width="642.3" height="53.5" rx="5" fill="#a8a8a8"/><rect x="193.5" y="2097.8" width="642.3" height="53.5" rx="5" fill="#fff" stroke="#222" stroke-width="1.1"/>
<text x="330.7" y="2113.0" font-size="15.6" fill="#111" textLength="14.8" lengthAdjust="spacingAndGlyphs" font-family='"Liberation Sans","Noto Sans CJK SC",sans-serif'>值</text>
<text x="421.4" y="2113.0" font-size="15.6" fill="#111" textLength="50.5" lengthAdjust="spacingAndGlyphs" font-family='"Liberation Sans","Noto Sans CJK SC",sans-serif'>平均值</text>
<text x="524.9" y="2113.0" font-size="15.6" fill="#111" textLength="50.2" lengthAdjust="spacingAndGlyphs" font-family='"Liberation Sans","Noto Sans CJK SC",sans-serif'>最小值</text>
<text x="627.5" y="2113.0" font-size="15.6" fill="#111" textLength="50.2" lengthAdjust="spacingAndGlyphs" font-family='"Liberation Sans","Noto Sans CJK SC",sans-serif'>最大值</text>
<text x="730.0" y="2113.0" font-size="15.6" fill="#111" textLength="50.5" lengthAdjust="spacingAndGlyphs" font-family='"Liberation Sans","Noto Sans CJK SC",sans-serif'>标准差</text>
<rect x="197.7" y="2118.5" width="24.4" height="13.2" rx="6.6" fill="#0808de"/><text x="209.9" y="2130.0" font-size="14" fill="#fff" text-anchor="middle" font-family='"Liberation Sans","Noto Sans CJK SC",sans-serif'>1</text>
<text x="226.8" y="2130.6" font-size="15.6" fill="#4c56a8" textLength="33.2" lengthAdjust="spacingAndGlyphs" font-family='"Liberation Sans","Noto Sans CJK SC",sans-serif'>最大</text>
<text x="330.2" y="2130.2" font-size="14.5" fill="#4c56a8" textLength="39.0" lengthAdjust="spacingAndGlyphs" font-family='"Liberation Sans","Noto Sans CJK SC",sans-serif'>25.2 V</text>
<text x="421.8" y="2130.2" font-size="14.5" fill="#4c56a8" textLength="26.0" lengthAdjust="spacingAndGlyphs" font-family='"Liberation Sans","Noto Sans CJK SC",sans-serif'>25.2</text>
<text x="524.8" y="2130.2" font-size="14.5" fill="#4c56a8" textLength="26.0" lengthAdjust="spacingAndGlyphs" font-family='"Liberation Sans","Noto Sans CJK SC",sans-serif'>25.2</text>
<text x="627.5" y="2130.2" font-size="14.5" fill="#4c56a8" textLength="26.8" lengthAdjust="spacingAndGlyphs" font-family='"Liberation Sans","Noto Sans CJK SC",sans-serif'>25.2</text>
<text x="730.0" y="2130.2" font-size="14.5" fill="#4c56a8" textLength="26.4" lengthAdjust="spacingAndGlyphs" font-family='"Liberation Sans","Noto Sans CJK SC",sans-serif'>0.00</text>
<rect x="197.7" y="2135.8" width="24.4" height="13.2" rx="6.6" fill="#0ce6ea"/><text x="209.9" y="2147.3" font-size="14" fill="#fff" text-anchor="middle" font-family='"Liberation Sans","Noto Sans CJK SC",sans-serif'>2</text>
<text x="226.8" y="2147.9" font-size="15.6" fill="#38c8cc" textLength="15.0" lengthAdjust="spacingAndGlyphs" font-family='"Liberation Sans","Noto Sans CJK SC",sans-serif'>高</text>
<text x="330.2" y="2147.5" font-size="14.5" fill="#38c8cc" textLength="39.0" lengthAdjust="spacingAndGlyphs" font-family='"Liberation Sans","Noto Sans CJK SC",sans-serif'>5.32 V</text>
<text x="421.8" y="2147.5" font-size="14.5" fill="#38c8cc" textLength="26.5" lengthAdjust="spacingAndGlyphs" font-family='"Liberation Sans","Noto Sans CJK SC",sans-serif'>5.32</text>
<text x="524.8" y="2147.5" font-size="14.5" fill="#38c8cc" textLength="26.5" lengthAdjust="spacingAndGlyphs" font-family='"Liberation Sans","Noto Sans CJK SC",sans-serif'>5.32</text>
<text x="627.5" y="2147.5" font-size="14.5" fill="#38c8cc" textLength="26.5" lengthAdjust="spacingAndGlyphs" font-family='"Liberation Sans","Noto Sans CJK SC",sans-serif'>5.32</text>
<text x="730.0" y="2147.5" font-size="14.5" fill="#38c8cc" textLength="26.4" lengthAdjust="spacingAndGlyphs" font-family='"Liberation Sans","Noto Sans CJK SC",sans-serif'>0.00</text>
<rect x="839.5" y="2097.5" width="106.5" height="36.0" rx="5" fill="#a8a8a8"/><rect x="838.6" y="2095.5" width="106.5" height="36.0" rx="5" fill="#fff" stroke="#222" stroke-width="1.1"/>
<text x="863.5" y="2111.3" font-size="13.5" fill="#222" textLength="78.0" lengthAdjust="spacingAndGlyphs" font-family='"Liberation Sans","Noto Sans CJK SC",sans-serif'>10 4月 2018</text>
<text x="863.5" y="2128.1" font-size="13.5" fill="#222" textLength="53.0" lengthAdjust="spacingAndGlyphs" font-family='"Liberation Sans","Noto Sans CJK SC",sans-serif'>17:22:00</text>
</svg></figure></section>
</main>
<footer><div class="pgnum" id="pgnum">5</div>
<div class="copy" id="copy">2020 Copyright © Nsiway Technology</div>
<div class="rule" style="top:2558px;height:4.6px"></div></footer>
</div>
</body>
</html>
